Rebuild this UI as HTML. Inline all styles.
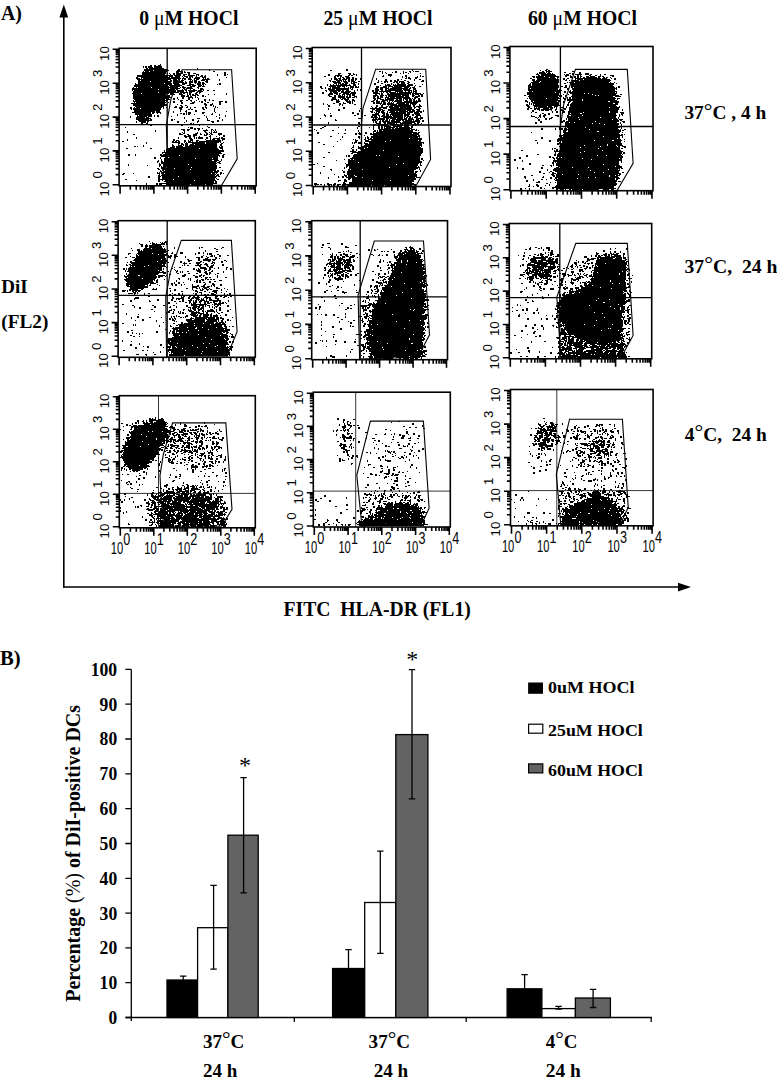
<!DOCTYPE html>
<html><head><meta charset="utf-8"><style>
html,body{margin:0;padding:0;background:#fff;width:777px;height:1081px;overflow:hidden}
svg{display:block}
</style></head><body>
<svg width="777" height="1081" viewBox="0 0 777 1081">
<text x="1.0" y="19.6" font-size="20" font-weight="bold" font-family='"Liberation Serif", serif' textLength="21.0" lengthAdjust="spacingAndGlyphs">A)</text>
<line x1="63.8" y1="14" x2="63.8" y2="587.6" stroke="#000" stroke-width="1.6"/>
<polygon points="59.4,17.5 68.2,17.5 63.8,4.6" fill="#000"/>
<line x1="63" y1="587" x2="681" y2="587" stroke="#000" stroke-width="1.6"/>
<polygon points="678,582.8 678,591.4 691,587.1" fill="#000"/>
<text x="139.2" y="24.5" font-size="20.5" font-weight="bold" font-family='"Liberation Serif", serif' textLength="99.2" lengthAdjust="spacingAndGlyphs">0 <tspan font-weight="normal">μ</tspan>M HOCl</text>
<text x="323.5" y="24.8" font-size="20.5" font-weight="bold" font-family='"Liberation Serif", serif' textLength="109.0" lengthAdjust="spacingAndGlyphs">25 <tspan font-weight="normal">μ</tspan>M HOCl</text>
<text x="528.0" y="24.8" font-size="20.5" font-weight="bold" font-family='"Liberation Serif", serif' textLength="109.0" lengthAdjust="spacingAndGlyphs">60 <tspan font-weight="normal">μ</tspan>M HOCl</text>
<text x="684.4" y="119.4" font-size="19.5" font-weight="bold" font-family='"Liberation Serif", serif' textLength="81.8" lengthAdjust="spacingAndGlyphs">37<tspan font-weight="normal" dy="-1.7" font-size="22">°</tspan><tspan dy="1.7">C</tspan> , 4 h</text>
<text x="684.5" y="272.9" font-size="19.5" font-weight="bold" font-family='"Liberation Serif", serif' textLength="93.0" lengthAdjust="spacingAndGlyphs">37<tspan font-weight="normal" dy="-1.7" font-size="22">°</tspan><tspan dy="1.7">C</tspan>,&#160; 24 h</text>
<text x="684.8" y="440.8" font-size="19.5" font-weight="bold" font-family='"Liberation Serif", serif' textLength="82.0" lengthAdjust="spacingAndGlyphs">4<tspan font-weight="normal" dy="-1.7" font-size="22">°</tspan><tspan dy="1.7">C</tspan>,&#160; 24 h</text>
<text x="1.3" y="292.8" font-size="19" font-weight="bold" font-family='"Liberation Serif", serif' textLength="26.4" lengthAdjust="spacingAndGlyphs">DiI</text>
<text x="1.3" y="327.6" font-size="19" font-weight="bold" font-family='"Liberation Serif", serif' textLength="47.0" lengthAdjust="spacingAndGlyphs">(FL2)</text>
<text x="283.5" y="615.6" font-size="20" font-weight="bold" font-family='"Liberation Serif", serif' textLength="187.3" lengthAdjust="spacingAndGlyphs">FITC&#160; HLA-DR (FL1)</text>
<path d="M160 64h1v1h-1zM150 65h2v1h-2zm4 0h2v1h-2zm4 0h3v1h-3zM143 66h1v1h-1zm2 0h2v1h-2zm3 0h4v1h-4zm6 0h8v1h-8zM143 67h1v1h-1zm2 0h2v1h-2zm3 0h5v1h-5zm6 0h8v1h-8zM146 68h2v1h-2zm3 0h15v1h-15zm48 0h1v1h-1zM144 69h23v1h-23zm34 0h2v1h-2zm19 0h1v1h-1zm12 0h1v1h-1zM144 70h9v1h-9zm10 0h15v1h-15zm23 0h3v1h-3zm32 0h1v1h-1zM143 71h1v1h-1zm2 0h4v1h-4zm5 0h17v1h-17zm26 0h7v1h-7zm8 0h1v1h-1zm29 0h2v1h-2zM142 72h24v1h-24zm34 0h3v1h-3zm5 0h2v1h-2zm3 0h2v1h-2zm3 0h3v1h-3zm37 0h2v1h-2zM142 73h24v1h-24zm25 0h1v1h-1zm2 0h1v1h-1zm4 0h2v1h-2zm3 0h7v1h-7zm12 0h2v1h-2zm5 0h3v1h-3zm31 0h2v1h-2zM142 74h23v1h-23zm28 0h1v1h-1zm3 0h2v1h-2zm3 0h5v1h-5zm7 0h4v1h-4zm5 0h2v1h-2zm8 0h3v1h-3zm21 0h1v1h-1zm7 0h2v1h-2zm3 0h1v1h-1zM137 75h36v1h-36zm37 0h7v1h-7zm9 0h2v1h-2zm5 0h7v1h-7zm8 0h1v1h-1zm2 0h1v1h-1zm3 0h2v1h-2zm4 0h1v1h-1zm12 0h1v1h-1zm7 0h2v1h-2zM137 76h31v1h-31zm32 0h4v1h-4zm6 0h5v1h-5zm7 0h1v1h-1zm2 0h4v1h-4zm5 0h4v1h-4zm7 0h1v1h-1zm4 0h3v1h-3zm4 0h2v1h-2zM136 77h2v1h-2zm5 0h29v1h-29zm30 0h9v1h-9zm12 0h1v1h-1zm3 0h2v1h-2zm3 0h2v1h-2zm3 0h1v1h-1zm3 0h5v1h-5zm7 0h4v1h-4zm24 0h1v1h-1zM136 78h4v1h-4zm5 0h1v1h-1zm2 0h38v1h-38zm39 0h4v1h-4zm6 0h3v1h-3zm6 0h6v1h-6zm9 0h1v1h-1zm2 0h1v1h-1zm2 0h2v1h-2zM137 79h34v1h-34zm36 0h4v1h-4zm5 0h2v1h-2zm4 0h1v1h-1zm2 0h2v1h-2zm4 0h4v1h-4zm6 0h1v1h-1zm2 0h3v1h-3zm6 0h8v1h-8zm17 0h1v1h-1zM138 80h2v1h-2zm3 0h27v1h-27zm29 0h2v1h-2zm3 0h5v1h-5zm6 0h1v1h-1zm2 0h3v1h-3zm9 0h1v1h-1zm2 0h1v1h-1zm2 0h3v1h-3zm7 0h4v1h-4zm5 0h2v1h-2zm13 0h1v1h-1zM138 81h12v1h-12zm13 0h21v1h-21zm22 0h10v1h-10zm12 0h1v1h-1zm4 0h4v1h-4zm5 0h3v1h-3zm4 0h2v1h-2zm7 0h3v1h-3zM138 82h33v1h-33zm35 0h11v1h-11zm12 0h2v1h-2zm4 0h4v1h-4zm5 0h3v1h-3zm4 0h3v1h-3zm4 0h2v1h-2zm4 0h2v1h-2zM135 83h1v1h-1zm3 0h26v1h-26zm27 0h7v1h-7zm8 0h6v1h-6zm9 0h5v1h-5zm7 0h2v1h-2zm6 0h1v1h-1zm2 0h4v1h-4zm5 0h3v1h-3zm17 0h2v1h-2zM135 84h37v1h-37zm39 0h6v1h-6zm8 0h3v1h-3zm7 0h5v1h-5zm8 0h4v1h-4zm5 0h2v1h-2zm3 0h1v1h-1zm12 0h1v1h-1zm2 0h2v1h-2zM134 85h34v1h-34zm35 0h13v1h-13zm18 0h4v1h-4zm5 0h4v1h-4zm6 0h4v1h-4zm5 0h1v1h-1zM134 86h35v1h-35zm36 0h10v1h-10zm12 0h2v1h-2zm8 0h5v1h-5zm8 0h3v1h-3zm4 0h3v1h-3zM133 87h1v1h-1zm3 0h1v1h-1zm2 0h13v1h-13zm14 0h26v1h-26zm28 0h1v1h-1zm2 0h4v1h-4zm5 0h5v1h-5zm10 0h2v1h-2zM132 88h37v1h-37zm38 0h10v1h-10zm13 0h2v1h-2zm3 0h7v1h-7zm12 0h1v1h-1zm2 0h3v1h-3zM132 89h26v1h-26zm27 0h16v1h-16zm17 0h2v1h-2zm6 0h1v1h-1zm2 0h3v1h-3zm6 0h1v1h-1zm3 0h2v1h-2zm7 0h4v1h-4zM132 90h1v1h-1zm2 0h42v1h-42zm43 0h7v1h-7zm8 0h2v1h-2zm3 0h9v1h-9zm10 0h4v1h-4zm5 0h1v1h-1zm4 0h2v1h-2zm6 0h2v1h-2zM133 91h43v1h-43zm44 0h7v1h-7zm9 0h1v1h-1zm3 0h6v1h-6zm8 0h6v1h-6zM133 92h25v1h-25zm26 0h20v1h-20zm21 0h8v1h-8zm9 0h3v1h-3zm7 0h2v1h-2zm3 0h2v1h-2zM132 93h9v1h-9zm10 0h27v1h-27zm28 0h4v1h-4zm9 0h3v1h-3zm4 0h2v1h-2zm4 0h1v1h-1zm2 0h2v1h-2zm6 0h2v1h-2zm4 0h1v1h-1zm27 0h1v1h-1zM133 94h33v1h-33zm34 0h1v1h-1zm3 0h2v1h-2zm3 0h2v1h-2zm6 0h4v1h-4zm8 0h1v1h-1zm2 0h2v1h-2zm3 0h2v1h-2zm3 0h3v1h-3zm13 0h1v1h-1zm6 0h1v1h-1zm12 0h1v1h-1zM133 95h34v1h-34zm35 0h2v1h-2zm13 0h4v1h-4zm6 0h2v1h-2zm3 0h1v1h-1zm2 0h4v1h-4zm5 0h2v1h-2zm5 0h2v1h-2zM133 96h37v1h-37zm48 0h4v1h-4zm5 0h3v1h-3zm4 0h2v1h-2zm5 0h1v1h-1zm7 0h2v1h-2zm3 0h1v1h-1zM133 97h38v1h-38zm44 0h1v1h-1zm5 0h2v1h-2zm6 0h5v1h-5zm7 0h1v1h-1zm2 0h1v1h-1zM133 98h36v1h-36zm40 0h2v1h-2zm4 0h1v1h-1zm5 0h2v1h-2zm6 0h2v1h-2zm4 0h1v1h-1zm6 0h1v1h-1zM134 99h31v1h-31zm32 0h4v1h-4zm7 0h2v1h-2zm5 0h1v1h-1zm10 0h2v1h-2zm10 0h1v1h-1zm6 0h2v1h-2zm5 0h1v1h-1zM133 100h1v1h-1zm2 0h33v1h-33zm45 0h3v1h-3zm6 0h2v1h-2zm4 0h2v1h-2zm6 0h1v1h-1zm8 0h2v1h-2zm5 0h1v1h-1zm3 0h2v1h-2zM133 101h32v1h-32zm33 0h1v1h-1zm7 0h2v1h-2zm7 0h2v1h-2zm11 0h1v1h-1zm3 0h1v1h-1zm5 0h1v1h-1zm2 0h2v1h-2zm4 0h1v1h-1zm14 0h4v1h-4zm6 0h2v1h-2zM134 102h1v1h-1zm2 0h30v1h-30zm32 0h1v1h-1zm5 0h2v1h-2zm8 0h2v1h-2zm11 0h3v1h-3zm9 0h2v1h-2zm6 0h2v1h-2zm12 0h2v1h-2zm6 0h2v1h-2zM131 103h34v1h-34zm50 0h2v1h-2zm9 0h4v1h-4zm14 0h2v1h-2zm8 0h1v1h-1zm7 0h2v1h-2zM133 104h34v1h-34zm44 0h1v1h-1zm27 0h3v1h-3zm6 0h3v1h-3zm9 0h2v1h-2zM133 105h34v1h-34zm47 0h2v1h-2zm5 0h2v1h-2zm20 0h2v1h-2zm5 0h2v1h-2zm3 0h1v1h-1zM135 106h29v1h-29zm40 0h2v1h-2zm6 0h2v1h-2zm6 0h1v1h-1zm18 0h1v1h-1zm8 0h1v1h-1zm2 0h1v1h-1zM130 107h2v1h-2zm4 0h1v1h-1zm2 0h26v1h-26zm27 0h1v1h-1zm3 0h1v1h-1zm8 0h3v1h-3zm5 0h4v1h-4zm7 0h2v1h-2zm4 0h1v1h-1zm4 0h2v1h-2zm8 0h2v1h-2zm3 0h2v1h-2zm10 0h1v1h-1zm2 0h1v1h-1zM130 108h2v1h-2zm3 0h7v1h-7zm8 0h20v1h-20zm22 0h1v1h-1zm16 0h3v1h-3zm11 0h1v1h-1zm12 0h2v1h-2zm4 0h1v1h-1zm8 0h1v1h-1zM131 109h1v1h-1zm2 0h28v1h-28zm47 0h2v1h-2zm8 0h2v1h-2zm3 0h2v1h-2zm12 0h2v1h-2zm11 0h1v1h-1zM134 110h26v1h-26zm46 0h1v1h-1zm6 0h1v1h-1zm9 0h2v1h-2zm19 0h1v1h-1zM134 111h21v1h-21zm22 0h4v1h-4zm17 0h1v1h-1zm7 0h1v1h-1zm5 0h2v1h-2zm10 0h2v1h-2zm19 0h1v1h-1zm12 0h1v1h-1zM132 112h19v1h-19zm20 0h3v1h-3zm4 0h5v1h-5zm17 0h1v1h-1zm13 0h1v1h-1zm2 0h3v1h-3zm14 0h3v1h-3zm13 0h1v1h-1zM135 113h16v1h-16zm17 0h2v1h-2zm5 0h1v1h-1zm3 0h1v1h-1zm20 0h2v1h-2zm3 0h2v1h-2zm3 0h1v1h-1zm2 0h3v1h-3zm14 0h2v1h-2zm10 0h1v1h-1zM135 114h17v1h-17zm42 0h1v1h-1zm6 0h2v1h-2zm3 0h1v1h-1zm2 0h2v1h-2zm6 0h1v1h-1zm17 0h2v1h-2zm8 0h1v1h-1zM137 115h1v1h-1zm2 0h13v1h-13zm15 0h1v1h-1zm3 0h2v1h-2zm20 0h1v1h-1zm27 0h1v1h-1zm15 0h1v1h-1zm6 0h1v1h-1zM130 116h1v1h-1zm7 0h10v1h-10zm11 0h4v1h-4zm6 0h1v1h-1zm3 0h2v1h-2zm14 0h1v1h-1zm35 0h1v1h-1zm10 0h1v1h-1zm9 0h1v1h-1zM130 117h1v1h-1zm6 0h9v1h-9zm10 0h3v1h-3zm38 0h1v1h-1zm22 0h1v1h-1zm13 0h1v1h-1zM136 118h15v1h-15zm48 0h1v1h-1zm13 0h3v1h-3zm10 0h1v1h-1zm12 0h1v1h-1zM136 119h13v1h-13zm14 0h2v1h-2zm21 0h2v1h-2zm3 0h1v1h-1zm18 0h2v1h-2zm15 0h1v1h-1zm15 0h1v1h-1zM138 120h14v1h-14zm33 0h2v1h-2zm15 0h1v1h-1zm6 0h2v1h-2zm6 0h1v1h-1zm9 0h3v1h-3zm10 0h2v1h-2zm5 0h1v1h-1zM136 121h1v1h-1zm3 0h7v1h-7zm8 0h2v1h-2zm30 0h2v1h-2zm9 0h1v1h-1zm11 0h2v1h-2zm14 0h3v1h-3zm6 0h2v1h-2zM136 122h1v1h-1zm5 0h5v1h-5zm6 0h1v1h-1zm30 0h2v1h-2zm7 0h1v1h-1zm13 0h1v1h-1zm15 0h2v1h-2zM141 123h2v1h-2zm5 0h2v1h-2zm44 0h2v1h-2zm3 0h1v1h-1zM139 124h1v1h-1zm7 0h1v1h-1zm2 0h4v1h-4zm33 0h2v1h-2zm12 0h1v1h-1zm6 0h1v1h-1zM150 125h2v1h-2zm31 0h2v1h-2zm18 0h1v1h-1zM207 126h1v1h-1zM125 127h1v1h-1zm63 0h1v1h-1zm2 0h3v1h-3zm18 0h2v1h-2zM190 128h3v1h-3zm4 0h2v1h-2zm3 0h3v1h-3zm5 0h1v1h-1zM181 129h4v1h-4zm6 0h3v1h-3zm7 0h2v1h-2zm4 0h2v1h-2zm8 0h1v1h-1zm5 0h2v1h-2zm4 0h1v1h-1zM155 130h1v1h-1zm28 0h2v1h-2zm4 0h2v1h-2zm11 0h1v1h-1zm5 0h5v1h-5zm8 0h1v1h-1zm2 0h1v1h-1zm2 0h1v1h-1zM127 131h1v1h-1zm28 0h1v1h-1zm29 0h1v1h-1zm20 0h2v1h-2zm7 0h1v1h-1zm3 0h1v1h-1zm2 0h1v1h-1zM127 132h1v1h-1zm55 0h1v1h-1zm2 0h1v1h-1zm13 0h1v1h-1zm8 0h2v1h-2zm4 0h1v1h-1zm2 0h1v1h-1zm2 0h4v1h-4zM179 133h2v1h-2zm4 0h2v1h-2zm12 0h3v1h-3zm5 0h1v1h-1zm6 0h2v1h-2zm4 0h2v1h-2zm8 0h4v1h-4zM133 134h2v1h-2zm46 0h4v1h-4zm8 0h2v1h-2zm6 0h4v1h-4zm7 0h2v1h-2zm4 0h1v1h-1zm2 0h2v1h-2zm3 0h1v1h-1zm2 0h2v1h-2zm7 0h4v1h-4zM184 135h2v1h-2zm4 0h3v1h-3zm5 0h4v1h-4zm11 0h3v1h-3zm6 0h1v1h-1zm9 0h1v1h-1zm4 0h2v1h-2zM184 136h7v1h-7zm9 0h2v1h-2zm6 0h1v1h-1zm10 0h2v1h-2zm7 0h1v1h-1zm7 0h2v1h-2zM136 137h1v1h-1zm42 0h1v1h-1zm7 0h2v1h-2zm4 0h2v1h-2zm5 0h1v1h-1zm2 0h1v1h-1zm2 0h5v1h-5zm8 0h2v1h-2zm4 0h1v1h-1zm9 0h1v1h-1zm2 0h2v1h-2zM136 138h1v1h-1zm42 0h1v1h-1zm11 0h3v1h-3zm5 0h1v1h-1zm2 0h1v1h-1zm2 0h5v1h-5zm8 0h2v1h-2zm4 0h1v1h-1zm3 0h7v1h-7zm8 0h4v1h-4zM127 139h1v1h-1zm46 0h2v1h-2zm17 0h3v1h-3zm15 0h1v1h-1zm5 0h1v1h-1zm2 0h3v1h-3zm5 0h3v1h-3zm5 0h3v1h-3zM127 140h1v1h-1zm46 0h2v1h-2zm3 0h3v1h-3zm8 0h2v1h-2zm4 0h1v1h-1zm2 0h3v1h-3zm6 0h3v1h-3zm10 0h15v1h-15zm16 0h1v1h-1zM122 141h2v1h-2zm50 0h2v1h-2zm3 0h2v1h-2zm3 0h2v1h-2zm6 0h2v1h-2zm4 0h3v1h-3zm4 0h1v1h-1zm4 0h2v1h-2zm3 0h22v1h-22zM146 142h1v1h-1zm26 0h8v1h-8zm12 0h1v1h-1zm2 0h1v1h-1zm2 0h17v1h-17zm18 0h13v1h-13zm14 0h1v1h-1zm3 0h1v1h-1zM146 143h1v1h-1zm32 0h2v1h-2zm3 0h2v1h-2zm4 0h3v1h-3zm7 0h13v1h-13zm14 0h11v1h-11zm15 0h2v1h-2zM172 144h1v1h-1zm6 0h1v1h-1zm3 0h3v1h-3zm4 0h3v1h-3zm5 0h4v1h-4zm5 0h22v1h-22zm25 0h2v1h-2zM143 145h1v1h-1zm29 0h2v1h-2zm6 0h4v1h-4zm5 0h1v1h-1zm2 0h3v1h-3zm4 0h28v1h-28zm31 0h2v1h-2zM134 146h2v1h-2zm3 0h1v1h-1zm6 0h1v1h-1zm29 0h3v1h-3zm4 0h7v1h-7zm9 0h32v1h-32zm34 0h1v1h-1zm2 0h2v1h-2zM170 147h5v1h-5zm6 0h41v1h-41zm43 0h4v1h-4zM126 148h2v1h-2zm24 0h2v1h-2zm17 0h32v1h-32zm33 0h18v1h-18zm20 0h3v1h-3zM166 149h53v1h-53zm56 0h1v1h-1zM164 150h1v1h-1zm2 0h58v1h-58zM164 151h1v1h-1zm2 0h58v1h-58zM162 152h59v1h-59zM162 153h1v1h-1zm3 0h2v1h-2zm3 0h54v1h-54zM128 154h2v1h-2zm7 0h1v1h-1zm25 0h2v1h-2zm3 0h4v1h-4zm5 0h51v1h-51zm55 0h2v1h-2zM128 155h2v1h-2zm7 0h1v1h-1zm25 0h19v1h-19zm20 0h40v1h-40zm42 0h2v1h-2zM161 156h57v1h-57zm58 0h1v1h-1zm3 0h2v1h-2zM154 157h2v1h-2zm6 0h1v1h-1zm5 0h3v1h-3zm4 0h49v1h-49zm53 0h2v1h-2zM154 158h2v1h-2zm6 0h1v1h-1zm4 0h31v1h-31zm32 0h16v1h-16zm17 0h5v1h-5zM161 159h1v1h-1zm3 0h54v1h-54zm57 0h1v1h-1zM158 160h1v1h-1zm3 0h1v1h-1zm3 0h48v1h-48zm50 0h5v1h-5zm7 0h1v1h-1zM157 161h2v1h-2zm4 0h2v1h-2zm3 0h53v1h-53zm55 0h2v1h-2zM157 162h1v1h-1zm4 0h55v1h-55zm56 0h3v1h-3zM159 163h1v1h-1zm2 0h56v1h-56zm58 0h2v1h-2zM128 164h1v1h-1zm31 0h2v1h-2zm4 0h25v1h-25zm26 0h27v1h-27zM128 165h1v1h-1zm19 0h1v1h-1zm12 0h2v1h-2zm4 0h54v1h-54zM159 166h1v1h-1zm2 0h1v1h-1zm2 0h54v1h-54zM161 167h5v1h-5zm6 0h24v1h-24zm25 0h25v1h-25zm27 0h2v1h-2zM157 168h2v1h-2zm4 0h13v1h-13zm14 0h42v1h-42zM158 169h2v1h-2zm4 0h28v1h-28zm29 0h25v1h-25zM160 170h1v1h-1zm2 0h2v1h-2zm3 0h51v1h-51zm52 0h2v1h-2zm5 0h1v1h-1zM160 171h2v1h-2zm3 0h50v1h-50zm51 0h5v1h-5zM157 172h1v1h-1zm2 0h1v1h-1zm2 0h57v1h-57zm59 0h2v1h-2zM123 173h2v1h-2zm10 0h1v1h-1zm24 0h3v1h-3zm4 0h3v1h-3zm4 0h46v1h-46zm47 0h3v1h-3zm4 0h1v1h-1zm4 0h2v1h-2zm3 0h1v1h-1zM122 174h2v1h-2zm37 0h1v1h-1zm3 0h54v1h-54zm55 0h2v1h-2zm3 0h1v1h-1zM158 175h2v1h-2zm3 0h54v1h-54zm55 0h3v1h-3zM148 176h2v1h-2zm10 0h3v1h-3zm4 0h16v1h-16zm17 0h38v1h-38zm39 0h2v1h-2zM148 177h2v1h-2zm10 0h2v1h-2zm4 0h54v1h-54zM158 178h2v1h-2zm4 0h53v1h-53zm54 0h1v1h-1zM125 179h2v1h-2zm33 0h15v1h-15zm16 0h41v1h-41zm43 0h2v1h-2zM136 180h1v1h-1zm22 0h2v1h-2zm4 0h1v1h-1zm3 0h29v1h-29zm30 0h21v1h-21zM158 181h2v1h-2zm6 0h50v1h-50zm51 0h2v1h-2zM166 182h48v1h-48zm49 0h2v1h-2zM146 183h1v1h-1zm10 0h2v1h-2zm3 0h58v1h-58zM146 184h1v1h-1zm10 0h2v1h-2zm3 0h3v1h-3zm7 0h24v1h-24zm25 0h14v1h-14zm15 0h7v1h-7z" fill="#000" shape-rendering="crispEdges"/>
<rect x="119.1" y="48.3" width="137.1" height="137.5" fill="none" stroke="#000" stroke-width="1.6"/>
<line x1="167.2" y1="48.3" x2="167.2" y2="185.8" stroke="#000" stroke-width="1.3"/>
<line x1="119.1" y1="124.7" x2="256.2" y2="124.7" stroke="#000" stroke-width="1.3"/>
<polygon points="182.2,69.8 231.6,69.8 237.2,158.8 221.7,185.3 167.5,185.3 167.2,149.5 166.3,125.2 171.0,99.0" fill="none" stroke="#000" stroke-width="1.1"/>
<path d="M120.1 185.8v8M119.1 184.8h-6.5M153.9 185.8v8M119.1 150.9h-6.5M187.6 185.8v8M119.1 117.1h-6.5M221.4 185.8v8M119.1 83.2h-6.5M255.2 185.8v8M119.1 49.3h-6.5M130.3 185.8v4M119.1 174.6h-3.5M136.2 185.8v4M119.1 168.6h-3.5M140.4 185.8v4M119.1 164.4h-3.5M143.7 185.8v4M119.1 161.1h-3.5M146.4 185.8v4M119.1 158.4h-3.5M148.6 185.8v4M119.1 156.2h-3.5M150.6 185.8v4M119.1 154.2h-3.5M152.3 185.8v4M119.1 152.5h-3.5M164.0 185.8v4M119.1 140.7h-3.5M170.0 185.8v4M119.1 134.8h-3.5M174.2 185.8v4M119.1 130.5h-3.5M177.5 185.8v4M119.1 127.2h-3.5M180.2 185.8v4M119.1 124.6h-3.5M182.4 185.8v4M119.1 122.3h-3.5M184.4 185.8v4M119.1 120.3h-3.5M186.1 185.8v4M119.1 118.6h-3.5M197.8 185.8v4M119.1 106.9h-3.5M203.8 185.8v4M119.1 100.9h-3.5M208.0 185.8v4M119.1 96.7h-3.5M211.3 185.8v4M119.1 93.4h-3.5M213.9 185.8v4M119.1 90.7h-3.5M216.2 185.8v4M119.1 88.4h-3.5M218.2 185.8v4M119.1 86.5h-3.5M219.9 185.8v4M119.1 84.7h-3.5M231.6 185.8v4M119.1 73.0h-3.5M237.5 185.8v4M119.1 67.0h-3.5M241.8 185.8v4M119.1 62.8h-3.5M245.0 185.8v4M119.1 59.5h-3.5M247.7 185.8v4M119.1 56.8h-3.5M250.0 185.8v4M119.1 54.5h-3.5M251.9 185.8v4M119.1 52.6h-3.5M253.7 185.8v4M119.1 50.9h-3.5" stroke="#000" stroke-width="1.6" fill="none"/>
<text transform="translate(108.7,196.4) rotate(-90)" font-size="13.3" font-family='"Liberation Sans", sans-serif' x="0" y="0">10<tspan dx="3.0" dy="-7">0</tspan></text>
<text transform="translate(108.7,162.5) rotate(-90)" font-size="13.3" font-family='"Liberation Sans", sans-serif' x="0" y="0">10<tspan dx="3.0" dy="-7">1</tspan></text>
<text transform="translate(108.7,128.7) rotate(-90)" font-size="13.3" font-family='"Liberation Sans", sans-serif' x="0" y="0">10<tspan dx="3.0" dy="-7">2</tspan></text>
<text transform="translate(108.7,94.8) rotate(-90)" font-size="13.3" font-family='"Liberation Sans", sans-serif' x="0" y="0">10<tspan dx="3.0" dy="-7">3</tspan></text>
<text transform="translate(108.7,60.9) rotate(-90)" font-size="13.3" font-family='"Liberation Sans", sans-serif' x="0" y="0">10</text>
<path d="M346 69h2v1h-2zm66 0h1v1h-1zM330 70h2v1h-2zm16 0h2v1h-2zm66 0h1v1h-1zM379 71h2v1h-2zm3 0h1v1h-1zm13 0h2v1h-2zm8 0h1v1h-1zm6 0h2v1h-2zm4 0h1v1h-1zm2 0h4v1h-4zM382 72h1v1h-1zm3 0h1v1h-1zm7 0h1v1h-1zm3 0h2v1h-2zm8 0h1v1h-1zm2 0h2v1h-2zm5 0h1v1h-1zM338 73h3v1h-3zm10 0h3v1h-3zm5 0h1v1h-1zm21 0h1v1h-1zm8 0h1v1h-1zm4 0h1v1h-1zm14 0h1v1h-1zm3 0h1v1h-1zm5 0h1v1h-1zm12 0h1v1h-1zM328 74h2v1h-2zm10 0h2v1h-2zm11 0h2v1h-2zm4 0h2v1h-2zm3 0h1v1h-1zm32 0h4v1h-4zM328 75h2v1h-2zm7 0h7v1h-7zm13 0h2v1h-2zm3 0h2v1h-2zm5 0h1v1h-1zm27 0h1v1h-1zm5 0h4v1h-4zm17 0h2v1h-2zm15 0h1v1h-1zM324 76h2v1h-2zm10 0h2v1h-2zm3 0h2v1h-2zm3 0h2v1h-2zm5 0h4v1h-4zm37 0h2v1h-2zm8 0h1v1h-1zm12 0h1v1h-1zm3 0h2v1h-2zm12 0h1v1h-1zm3 0h1v1h-1zm2 0h2v1h-2zM334 77h2v1h-2zm6 0h1v1h-1zm2 0h2v1h-2zm4 0h4v1h-4zm6 0h2v1h-2zm50 0h1v1h-1zm4 0h1v1h-1zm2 0h2v1h-2zm7 0h3v1h-3zM331 78h1v1h-1zm3 0h3v1h-3zm4 0h3v1h-3zm5 0h2v1h-2zm3 0h4v1h-4zm6 0h2v1h-2zm3 0h2v1h-2zm5 0h1v1h-1zm16 0h1v1h-1zm29 0h2v1h-2zm3 0h3v1h-3zm7 0h2v1h-2zM331 79h1v1h-1zm3 0h4v1h-4zm5 0h2v1h-2zm3 0h5v1h-5zm6 0h2v1h-2zm3 0h3v1h-3zm4 0h2v1h-2zm5 0h1v1h-1zm16 0h1v1h-1zm9 0h2v1h-2zm12 0h2v1h-2zm4 0h1v1h-1zm9 0h1v1h-1zm4 0h1v1h-1zm5 0h2v1h-2zM329 80h2v1h-2zm7 0h6v1h-6zm7 0h1v1h-1zm2 0h1v1h-1zm3 0h2v1h-2zm3 0h3v1h-3zm4 0h1v1h-1zm23 0h1v1h-1zm7 0h2v1h-2zm5 0h2v1h-2zm4 0h2v1h-2zm3 0h2v1h-2zm7 0h2v1h-2zm10 0h1v1h-1zm8 0h2v1h-2zM330 81h1v1h-1zm2 0h4v1h-4zm5 0h3v1h-3zm4 0h1v1h-1zm2 0h4v1h-4zm5 0h2v1h-2zm3 0h4v1h-4zm7 0h2v1h-2zm20 0h1v1h-1zm3 0h1v1h-1zm3 0h4v1h-4zm6 0h2v1h-2zm4 0h4v1h-4zm5 0h5v1h-5zm8 0h2v1h-2zm14 0h3v1h-3zM333 82h8v1h-8zm11 0h4v1h-4zm7 0h1v1h-1zm2 0h4v1h-4zm24 0h2v1h-2zm7 0h2v1h-2zm3 0h1v1h-1zm6 0h2v1h-2zm3 0h2v1h-2zm3 0h1v1h-1zm2 0h4v1h-4zm7 0h2v1h-2zM334 83h3v1h-3zm4 0h3v1h-3zm4 0h2v1h-2zm3 0h3v1h-3zm6 0h4v1h-4zm7 0h1v1h-1zm16 0h2v1h-2zm7 0h2v1h-2zm10 0h1v1h-1zm6 0h2v1h-2zm4 0h4v1h-4zm6 0h2v1h-2zm7 0h1v1h-1zM327 84h1v1h-1zm3 0h1v1h-1zm3 0h1v1h-1zm3 0h1v1h-1zm2 0h1v1h-1zm2 0h7v1h-7zm9 0h1v1h-1zm4 0h3v1h-3zm5 0h1v1h-1zm16 0h2v1h-2zm11 0h1v1h-1zm2 0h3v1h-3zm4 0h1v1h-1zm2 0h1v1h-1zm2 0h1v1h-1zm2 0h9v1h-9zm11 0h5v1h-5zm14 0h1v1h-1zM327 85h1v1h-1zm3 0h21v1h-21zm23 0h3v1h-3zm27 0h1v1h-1zm5 0h6v1h-6zm8 0h13v1h-13zm14 0h6v1h-6zm8 0h1v1h-1zM320 86h2v1h-2zm9 0h7v1h-7zm8 0h4v1h-4zm5 0h3v1h-3zm4 0h1v1h-1zm4 0h4v1h-4zm5 0h2v1h-2zm3 0h1v1h-1zm18 0h3v1h-3zm7 0h4v1h-4zm5 0h5v1h-5zm6 0h16v1h-16zm20 0h1v1h-1zm5 0h2v1h-2zM320 87h2v1h-2zm5 0h1v1h-1zm5 0h1v1h-1zm2 0h8v1h-8zm12 0h1v1h-1zm4 0h1v1h-1zm2 0h4v1h-4zm5 0h4v1h-4zm21 0h3v1h-3zm4 0h7v1h-7zm8 0h1v1h-1zm4 0h10v1h-10zm12 0h5v1h-5zm6 0h1v1h-1zm2 0h3v1h-3zM321 88h2v1h-2zm4 0h1v1h-1zm3 0h3v1h-3zm4 0h17v1h-17zm18 0h1v1h-1zm2 0h1v1h-1zm23 0h3v1h-3zm5 0h3v1h-3zm5 0h4v1h-4zm5 0h18v1h-18zm19 0h2v1h-2zm4 0h3v1h-3zM328 89h7v1h-7zm8 0h13v1h-13zm15 0h2v1h-2zm6 0h1v1h-1zm3 0h1v1h-1zm15 0h4v1h-4zm5 0h3v1h-3zm5 0h2v1h-2zm3 0h14v1h-14zm15 0h7v1h-7zm10 0h3v1h-3zM325 90h2v1h-2zm4 0h12v1h-12zm13 0h2v1h-2zm4 0h3v1h-3zm8 0h1v1h-1zm3 0h1v1h-1zm3 0h1v1h-1zm12 0h2v1h-2zm3 0h4v1h-4zm6 0h2v1h-2zm4 0h18v1h-18zm19 0h8v1h-8zm9 0h1v1h-1zm2 0h2v1h-2zM326 91h1v1h-1zm4 0h7v1h-7zm8 0h2v1h-2zm3 0h3v1h-3zm4 0h6v1h-6zm9 0h1v1h-1zm18 0h2v1h-2zm3 0h3v1h-3zm4 0h12v1h-12zm16 0h8v1h-8zm10 0h1v1h-1zm3 0h2v1h-2zm3 0h1v1h-1zm2 0h4v1h-4zM322 92h2v1h-2zm8 0h2v1h-2zm3 0h5v1h-5zm8 0h9v1h-9zm10 0h5v1h-5zm22 0h5v1h-5zm8 0h1v1h-1zm2 0h1v1h-1zm3 0h2v1h-2zm3 0h7v1h-7zm8 0h1v1h-1zm2 0h13v1h-13zm14 0h1v1h-1zm2 0h2v1h-2zM322 93h2v1h-2zm7 0h4v1h-4zm5 0h4v1h-4zm5 0h2v1h-2zm4 0h6v1h-6zm7 0h6v1h-6zm23 0h7v1h-7zm8 0h2v1h-2zm6 0h2v1h-2zm3 0h21v1h-21zm22 0h9v1h-9zm11 0h1v1h-1zM328 94h5v1h-5zm8 0h2v1h-2zm3 0h1v1h-1zm3 0h3v1h-3zm4 0h5v1h-5zm6 0h3v1h-3zm23 0h2v1h-2zm4 0h1v1h-1zm2 0h2v1h-2zm6 0h22v1h-22zm23 0h1v1h-1zm2 0h2v1h-2zm3 0h4v1h-4zm5 0h3v1h-3zM328 95h2v1h-2zm6 0h2v1h-2zm4 0h3v1h-3zm4 0h1v1h-1zm2 0h1v1h-1zm3 0h1v1h-1zm2 0h2v1h-2zm3 0h3v1h-3zm21 0h5v1h-5zm7 0h4v1h-4zm5 0h2v1h-2zm3 0h13v1h-13zm14 0h7v1h-7zm10 0h3v1h-3zm6 0h2v1h-2zm3 0h2v1h-2zM329 96h3v1h-3zm5 0h2v1h-2zm4 0h7v1h-7zm8 0h2v1h-2zm3 0h2v1h-2zm5 0h3v1h-3zm19 0h3v1h-3zm4 0h2v1h-2zm3 0h3v1h-3zm6 0h1v1h-1zm2 0h16v1h-16zm17 0h4v1h-4zm7 0h2v1h-2zm3 0h5v1h-5zm6 0h2v1h-2zM332 97h4v1h-4zm6 0h7v1h-7zm8 0h5v1h-5zm6 0h3v1h-3zm4 0h1v1h-1zm17 0h2v1h-2zm4 0h2v1h-2zm3 0h3v1h-3zm5 0h4v1h-4zm5 0h5v1h-5zm6 0h14v1h-14zm18 0h4v1h-4zM332 98h4v1h-4zm8 0h1v1h-1zm2 0h4v1h-4zm5 0h2v1h-2zm26 0h3v1h-3zm4 0h4v1h-4zm8 0h1v1h-1zm2 0h15v1h-15zm16 0h8v1h-8zm9 0h1v1h-1zm2 0h2v1h-2zm4 0h2v1h-2zM331 99h6v1h-6zm7 0h1v1h-1zm3 0h2v1h-2zm3 0h5v1h-5zm8 0h2v1h-2zm22 0h2v1h-2zm3 0h1v1h-1zm3 0h4v1h-4zm5 0h9v1h-9zm11 0h2v1h-2zm3 0h3v1h-3zm4 0h1v1h-1zm2 0h3v1h-3zm4 0h3v1h-3zm4 0h2v1h-2zm5 0h2v1h-2zM331 100h2v1h-2zm5 0h3v1h-3zm9 0h3v1h-3zm4 0h1v1h-1zm3 0h3v1h-3zm21 0h2v1h-2zm3 0h2v1h-2zm6 0h6v1h-6zm7 0h5v1h-5zm6 0h7v1h-7zm8 0h1v1h-1zm3 0h2v1h-2zm3 0h3v1h-3zm4 0h2v1h-2zm3 0h1v1h-1zm2 0h3v1h-3zM336 101h4v1h-4zm10 0h5v1h-5zm6 0h1v1h-1zm2 0h1v1h-1zm17 0h3v1h-3zm5 0h4v1h-4zm5 0h4v1h-4zm6 0h1v1h-1zm2 0h1v1h-1zm3 0h1v1h-1zm2 0h8v1h-8zm10 0h8v1h-8zm9 0h8v1h-8zM336 102h3v1h-3zm7 0h1v1h-1zm4 0h4v1h-4zm5 0h1v1h-1zm21 0h2v1h-2zm3 0h4v1h-4zm5 0h1v1h-1zm2 0h3v1h-3zm5 0h2v1h-2zm3 0h1v1h-1zm2 0h1v1h-1zm4 0h21v1h-21zM323 103h1v1h-1zm10 0h2v1h-2zm6 0h2v1h-2zm4 0h3v1h-3zm6 0h2v1h-2zm3 0h1v1h-1zm21 0h2v1h-2zm3 0h6v1h-6zm7 0h3v1h-3zm4 0h7v1h-7zm9 0h9v1h-9zm10 0h3v1h-3zm4 0h7v1h-7zM323 104h1v1h-1zm4 0h1v1h-1zm12 0h2v1h-2zm3 0h1v1h-1zm12 0h2v1h-2zm26 0h1v1h-1zm2 0h4v1h-4zm5 0h10v1h-10zm11 0h11v1h-11zm12 0h1v1h-1zm2 0h4v1h-4zm7 0h1v1h-1zM328 105h2v1h-2zm11 0h1v1h-1zm3 0h1v1h-1zm34 0h2v1h-2zm5 0h2v1h-2zm7 0h1v1h-1zm2 0h21v1h-21zm23 0h2v1h-2zm6 0h2v1h-2zM328 106h2v1h-2zm43 0h1v1h-1zm5 0h2v1h-2zm5 0h2v1h-2zm5 0h2v1h-2zm3 0h4v1h-4zm5 0h17v1h-17zm19 0h2v1h-2zm3 0h6v1h-6zM343 107h2v1h-2zm29 0h1v1h-1zm3 0h2v1h-2zm4 0h8v1h-8zm10 0h10v1h-10zm11 0h12v1h-12zm14 0h2v1h-2zm4 0h2v1h-2zM328 108h1v1h-1zm15 0h2v1h-2zm17 0h2v1h-2zm10 0h11v1h-11zm13 0h4v1h-4zm7 0h22v1h-22zm24 0h1v1h-1zm5 0h2v1h-2zM328 109h1v1h-1zm10 0h2v1h-2zm34 0h3v1h-3zm4 0h7v1h-7zm12 0h26v1h-26zm28 0h4v1h-4zM338 110h2v1h-2zm21 0h1v1h-1zm13 0h1v1h-1zm3 0h6v1h-6zm7 0h3v1h-3zm6 0h18v1h-18zm19 0h4v1h-4zm5 0h3v1h-3zm5 0h3v1h-3zm6 0h1v1h-1zM359 111h1v1h-1zm11 0h3v1h-3zm6 0h4v1h-4zm5 0h3v1h-3zm6 0h1v1h-1zm3 0h5v1h-5zm6 0h2v1h-2zm3 0h9v1h-9zm10 0h6v1h-6zm7 0h6v1h-6zm7 0h1v1h-1zM352 112h2v1h-2zm19 0h2v1h-2zm3 0h1v1h-1zm2 0h1v1h-1zm2 0h2v1h-2zm3 0h4v1h-4zm6 0h1v1h-1zm2 0h17v1h-17zm18 0h6v1h-6zm7 0h5v1h-5zm6 0h2v1h-2zM330 113h1v1h-1zm22 0h2v1h-2zm5 0h2v1h-2zm18 0h4v1h-4zm7 0h3v1h-3zm4 0h2v1h-2zm5 0h15v1h-15zm16 0h3v1h-3zm7 0h6v1h-6zM324 114h1v1h-1zm33 0h2v1h-2zm15 0h7v1h-7zm11 0h2v1h-2zm3 0h3v1h-3zm4 0h13v1h-13zm14 0h6v1h-6zm8 0h2v1h-2zm3 0h5v1h-5zM324 115h2v1h-2zm6 0h2v1h-2zm24 0h2v1h-2zm10 0h2v1h-2zm8 0h5v1h-5zm6 0h2v1h-2zm4 0h3v1h-3zm4 0h3v1h-3zm4 0h1v1h-1zm2 0h11v1h-11zm12 0h5v1h-5zm8 0h2v1h-2zm4 0h5v1h-5zM325 116h1v1h-1zm5 0h2v1h-2zm41 0h2v1h-2zm3 0h3v1h-3zm5 0h1v1h-1zm2 0h11v1h-11zm12 0h10v1h-10zm11 0h2v1h-2zm3 0h4v1h-4zm8 0h3v1h-3zm5 0h1v1h-1zM371 117h7v1h-7zm8 0h1v1h-1zm4 0h20v1h-20zm21 0h1v1h-1zm2 0h2v1h-2zm3 0h2v1h-2zm3 0h1v1h-1zm2 0h4v1h-4zm6 0h3v1h-3zM320 118h1v1h-1zm38 0h3v1h-3zm15 0h1v1h-1zm2 0h2v1h-2zm3 0h7v1h-7zm8 0h3v1h-3zm4 0h6v1h-6zm7 0h6v1h-6zm7 0h3v1h-3zm4 0h5v1h-5zm8 0h7v1h-7zM335 119h1v1h-1zm37 0h13v1h-13zm14 0h2v1h-2zm3 0h1v1h-1zm3 0h15v1h-15zm16 0h6v1h-6zm8 0h3v1h-3zm4 0h1v1h-1zM335 120h2v1h-2zm37 0h4v1h-4zm5 0h1v1h-1zm3 0h1v1h-1zm2 0h2v1h-2zm3 0h3v1h-3zm4 0h1v1h-1zm2 0h4v1h-4zm5 0h5v1h-5zm6 0h2v1h-2zm3 0h7v1h-7zm8 0h1v1h-1zm2 0h5v1h-5zm7 0h2v1h-2zM373 121h1v1h-1zm2 0h2v1h-2zm4 0h2v1h-2zm3 0h8v1h-8zm9 0h9v1h-9zm12 0h17v1h-17zm19 0h2v1h-2zM328 122h1v1h-1zm30 0h2v1h-2zm15 0h1v1h-1zm2 0h2v1h-2zm4 0h2v1h-2zm4 0h3v1h-3zm4 0h14v1h-14zm15 0h13v1h-13zm15 0h3v1h-3zM328 123h1v1h-1zm30 0h2v1h-2zm18 0h5v1h-5zm8 0h2v1h-2zm3 0h8v1h-8zm9 0h1v1h-1zm4 0h12v1h-12zm14 0h2v1h-2zm3 0h2v1h-2zm4 0h1v1h-1zM359 124h2v1h-2zm14 0h3v1h-3zm5 0h10v1h-10zm12 0h9v1h-9zm10 0h3v1h-3zm4 0h5v1h-5zm7 0h1v1h-1zm2 0h6v1h-6zm7 0h1v1h-1zM373 125h2v1h-2zm4 0h3v1h-3zm4 0h8v1h-8zm11 0h4v1h-4zm5 0h6v1h-6zm7 0h5v1h-5zm8 0h2v1h-2zm3 0h1v1h-1zM324 126h2v1h-2zm34 0h2v1h-2zm15 0h1v1h-1zm5 0h2v1h-2zm3 0h2v1h-2zm3 0h7v1h-7zm9 0h9v1h-9zm11 0h5v1h-5zm7 0h2v1h-2zM322 127h2v1h-2zm16 0h1v1h-1zm19 0h1v1h-1zm12 0h1v1h-1zm4 0h1v1h-1zm5 0h2v1h-2zm3 0h2v1h-2zm3 0h1v1h-1zm2 0h9v1h-9zm10 0h2v1h-2zm3 0h11v1h-11zm12 0h2v1h-2zM320 128h2v1h-2zm37 0h1v1h-1zm16 0h1v1h-1zm5 0h2v1h-2zm3 0h2v1h-2zm3 0h7v1h-7zm8 0h2v1h-2zm3 0h17v1h-17zM314 129h1v1h-1zm31 0h1v1h-1zm28 0h1v1h-1zm6 0h31v1h-31zm32 0h4v1h-4zm5 0h1v1h-1zM316 130h1v1h-1zm16 0h2v1h-2zm13 0h1v1h-1zm13 0h1v1h-1zm16 0h2v1h-2zm3 0h1v1h-1zm2 0h3v1h-3zm4 0h30v1h-30zm32 0h2v1h-2zm3 0h1v1h-1zM358 131h1v1h-1zm15 0h3v1h-3zm4 0h1v1h-1zm2 0h34v1h-34zM317 132h2v1h-2zm42 0h1v1h-1zm6 0h2v1h-2zm8 0h1v1h-1zm3 0h41v1h-41zm42 0h2v1h-2zM317 133h2v1h-2zm21 0h1v1h-1zm6 0h2v1h-2zm11 0h2v1h-2zm3 0h3v1h-3zm7 0h2v1h-2zm5 0h2v1h-2zm3 0h39v1h-39zm40 0h6v1h-6zM355 134h2v1h-2zm4 0h2v1h-2zm11 0h49v1h-49zM364 135h1v1h-1zm9 0h44v1h-44zm45 0h2v1h-2zM330 136h2v1h-2zm12 0h1v1h-1zm16 0h2v1h-2zm9 0h1v1h-1zm4 0h49v1h-49zM342 137h1v1h-1zm16 0h2v1h-2zm7 0h1v1h-1zm2 0h2v1h-2zm4 0h47v1h-47zm48 0h1v1h-1zM359 138h1v1h-1zm6 0h1v1h-1zm2 0h2v1h-2zm3 0h2v1h-2zm3 0h36v1h-36zm37 0h12v1h-12zM340 139h1v1h-1zm13 0h1v1h-1zm2 0h1v1h-1zm9 0h2v1h-2zm4 0h54v1h-54zM355 140h3v1h-3zm10 0h4v1h-4zm6 0h19v1h-19zm20 0h27v1h-27zm28 0h2v1h-2zM337 141h1v1h-1zm18 0h2v1h-2zm10 0h20v1h-20zm21 0h35v1h-35zM318 142h2v1h-2zm34 0h1v1h-1zm2 0h3v1h-3zm4 0h3v1h-3zm6 0h1v1h-1zm5 0h55v1h-55zM352 143h1v1h-1zm2 0h1v1h-1zm4 0h3v1h-3zm6 0h4v1h-4zm5 0h53v1h-53zm54 0h1v1h-1zM323 144h2v1h-2zm42 0h57v1h-57zM353 145h1v1h-1zm11 0h58v1h-58zM333 146h1v1h-1zm20 0h1v1h-1zm5 0h1v1h-1zm4 0h58v1h-58zm59 0h1v1h-1zM352 147h2v1h-2zm6 0h3v1h-3zm4 0h5v1h-5zm6 0h53v1h-53zM351 148h1v1h-1zm7 0h3v1h-3zm4 0h2v1h-2zm3 0h58v1h-58zM352 149h2v1h-2zm4 0h1v1h-1zm4 0h63v1h-63zM352 150h2v1h-2zm4 0h1v1h-1zm6 0h21v1h-21zm22 0h39v1h-39zM350 151h6v1h-6zm8 0h65v1h-65zM328 152h2v1h-2zm24 0h71v1h-71zM351 153h2v1h-2zm6 0h65v1h-65zM354 154h67v1h-67zM346 155h1v1h-1zm2 0h2v1h-2zm5 0h23v1h-23zm24 0h2v1h-2zm3 0h41v1h-41zM346 156h1v1h-1zm2 0h2v1h-2zm5 0h45v1h-45zm46 0h21v1h-21zM323 157h2v1h-2zm29 0h68v1h-68zM350 158h70v1h-70zm71 0h2v1h-2zM344 159h1v1h-1zm4 0h2v1h-2zm3 0h2v1h-2zm3 0h66v1h-66zm67 0h2v1h-2zM336 160h1v1h-1zm12 0h72v1h-72zm75 0h1v1h-1zM348 161h74v1h-74zM348 162h10v1h-10zm11 0h63v1h-63zM317 163h1v1h-1zm28 0h1v1h-1zm3 0h55v1h-55zm56 0h15v1h-15zm16 0h1v1h-1zM313 164h2v1h-2zm33 0h50v1h-50zm51 0h21v1h-21zm23 0h1v1h-1zM346 165h72v1h-72zm74 0h2v1h-2zM323 166h2v1h-2zm23 0h2v1h-2zm3 0h68v1h-68zm69 0h1v1h-1zM344 167h1v1h-1zm2 0h1v1h-1zm3 0h40v1h-40zm41 0h30v1h-30zM344 168h1v1h-1zm5 0h69v1h-69zm70 0h1v1h-1zM330 169h2v1h-2zm18 0h2v1h-2zm3 0h11v1h-11zm12 0h53v1h-53zm56 0h1v1h-1zM331 170h1v1h-1zm11 0h1v1h-1zm6 0h66v1h-66zm72 0h1v1h-1zM343 171h2v1h-2zm4 0h67v1h-67zm68 0h3v1h-3zm5 0h1v1h-1zM320 172h1v1h-1zm23 0h2v1h-2zm4 0h67v1h-67zm68 0h2v1h-2zM320 173h1v1h-1zm27 0h69v1h-69zM334 174h1v1h-1zm10 0h1v1h-1zm3 0h70v1h-70zM344 175h3v1h-3zm4 0h6v1h-6zm7 0h53v1h-53zm54 0h8v1h-8zM338 176h1v1h-1zm4 0h2v1h-2zm3 0h2v1h-2zm3 0h7v1h-7zm9 0h60v1h-60zM328 177h1v1h-1zm10 0h1v1h-1zm4 0h2v1h-2zm4 0h16v1h-16zm17 0h52v1h-52zm53 0h4v1h-4zM328 178h1v1h-1zm20 0h3v1h-3zm4 0h64v1h-64zM344 179h2v1h-2zm4 0h2v1h-2zm4 0h64v1h-64zM338 180h3v1h-3zm6 0h3v1h-3zm8 0h20v1h-20zm21 0h17v1h-17zm18 0h23v1h-23zM338 181h1v1h-1zm6 0h3v1h-3zm8 0h62v1h-62zm66 0h1v1h-1zM343 182h2v1h-2zm6 0h63v1h-63zM314 183h3v1h-3zm13 0h2v1h-2zm7 0h2v1h-2zm9 0h3v1h-3zm6 0h65v1h-65zM314 184h5v1h-5zm6 0h2v1h-2zm4 0h1v1h-1zm3 0h5v1h-5zm6 0h3v1h-3zm4 0h4v1h-4zm5 0h74v1h-74zM315 185h1v1h-1zm9 0h1v1h-1zm4 0h2v1h-2zm3 0h1v1h-1zm2 0h2v1h-2zm4 0h2v1h-2zm5 0h4v1h-4zm5 0h24v1h-24zm25 0h12v1h-12zm13 0h27v1h-27zm29 0h2v1h-2z" fill="#000" shape-rendering="crispEdges"/>
<rect x="312.2" y="47.5" width="138.8" height="139.0" fill="none" stroke="#000" stroke-width="1.6"/>
<line x1="361.5" y1="47.5" x2="361.5" y2="186.5" stroke="#000" stroke-width="1.3"/>
<line x1="312.2" y1="125.0" x2="451.0" y2="125.0" stroke="#000" stroke-width="1.3"/>
<polygon points="375.7,69.2 425.7,69.2 430.6,159.4 415.8,186.3 361.5,186.3 361.5,125.0 363.0,108.0" fill="none" stroke="#000" stroke-width="1.1"/>
<path d="M313.2 186.5v8M312.2 185.5h-6.5M347.4 186.5v8M312.2 151.2h-6.5M381.6 186.5v8M312.2 117.0h-6.5M415.8 186.5v8M312.2 82.8h-6.5M450.0 186.5v8M312.2 48.5h-6.5M323.5 186.5v4M312.2 175.2h-3.5M329.5 186.5v4M312.2 169.2h-3.5M333.8 186.5v4M312.2 164.9h-3.5M337.1 186.5v4M312.2 161.6h-3.5M339.8 186.5v4M312.2 158.8h-3.5M342.1 186.5v4M312.2 156.6h-3.5M344.1 186.5v4M312.2 154.6h-3.5M345.8 186.5v4M312.2 152.8h-3.5M357.7 186.5v4M312.2 140.9h-3.5M363.7 186.5v4M312.2 134.9h-3.5M368.0 186.5v4M312.2 130.6h-3.5M371.3 186.5v4M312.2 127.3h-3.5M374.0 186.5v4M312.2 124.6h-3.5M376.3 186.5v4M312.2 122.3h-3.5M378.3 186.5v4M312.2 120.3h-3.5M380.0 186.5v4M312.2 118.6h-3.5M391.9 186.5v4M312.2 106.7h-3.5M397.9 186.5v4M312.2 100.7h-3.5M402.2 186.5v4M312.2 96.4h-3.5M405.5 186.5v4M312.2 93.1h-3.5M408.2 186.5v4M312.2 90.3h-3.5M410.5 186.5v4M312.2 88.1h-3.5M412.5 186.5v4M312.2 86.1h-3.5M414.2 186.5v4M312.2 84.3h-3.5M426.1 186.5v4M312.2 72.4h-3.5M432.1 186.5v4M312.2 66.4h-3.5M436.4 186.5v4M312.2 62.1h-3.5M439.7 186.5v4M312.2 58.8h-3.5M442.4 186.5v4M312.2 56.1h-3.5M444.7 186.5v4M312.2 53.8h-3.5M446.7 186.5v4M312.2 51.8h-3.5M448.4 186.5v4M312.2 50.1h-3.5" stroke="#000" stroke-width="1.6" fill="none"/>
<text transform="translate(301.8,197.1) rotate(-90)" font-size="13.3" font-family='"Liberation Sans", sans-serif' x="0" y="0">10<tspan dx="3.0" dy="-7">0</tspan></text>
<text transform="translate(301.8,162.8) rotate(-90)" font-size="13.3" font-family='"Liberation Sans", sans-serif' x="0" y="0">10<tspan dx="3.0" dy="-7">1</tspan></text>
<text transform="translate(301.8,128.6) rotate(-90)" font-size="13.3" font-family='"Liberation Sans", sans-serif' x="0" y="0">10<tspan dx="3.0" dy="-7">2</tspan></text>
<text transform="translate(301.8,94.3) rotate(-90)" font-size="13.3" font-family='"Liberation Sans", sans-serif' x="0" y="0">10<tspan dx="3.0" dy="-7">3</tspan></text>
<text transform="translate(301.8,60.1) rotate(-90)" font-size="13.3" font-family='"Liberation Sans", sans-serif' x="0" y="0">10</text>
<path d="M546 69h2v1h-2zM540 70h1v1h-1zm5 0h2v1h-2zm3 0h2v1h-2zM542 71h2v1h-2zm4 0h6v1h-6zm26 0h2v1h-2zM539 72h6v1h-6zm7 0h1v1h-1zm2 0h2v1h-2zm16 0h2v1h-2zm15 0h2v1h-2zM537 73h1v1h-1zm2 0h7v1h-7zm8 0h4v1h-4zm5 0h1v1h-1zm17 0h2v1h-2zm3 0h2v1h-2zm7 0h2v1h-2zm6 0h4v1h-4zM536 74h3v1h-3zm5 0h14v1h-14zm23 0h1v1h-1zm2 0h3v1h-3zm6 0h2v1h-2zm3 0h7v1h-7zm10 0h4v1h-4zm5 0h2v1h-2zm10 0h1v1h-1zm4 0h2v1h-2zM538 75h2v1h-2zm3 0h15v1h-15zm24 0h4v1h-4zm5 0h1v1h-1zm7 0h2v1h-2zm3 0h1v1h-1zm9 0h2v1h-2zm6 0h2v1h-2zm5 0h1v1h-1zm10 0h4v1h-4zM532 76h3v1h-3zm4 0h8v1h-8zm9 0h14v1h-14zm20 0h2v1h-2zm5 0h2v1h-2zm4 0h2v1h-2zm3 0h2v1h-2zm3 0h2v1h-2zm6 0h3v1h-3zm4 0h5v1h-5zm8 0h3v1h-3zm4 0h2v1h-2zm10 0h2v1h-2zM533 77h2v1h-2zm3 0h13v1h-13zm14 0h5v1h-5zm7 0h2v1h-2zm13 0h3v1h-3zm4 0h2v1h-2zm3 0h2v1h-2zm3 0h1v1h-1zm3 0h2v1h-2zm3 0h11v1h-11zm12 0h2v1h-2zm5 0h2v1h-2zm3 0h2v1h-2zm4 0h1v1h-1zM530 78h2v1h-2zm7 0h19v1h-19zm20 0h1v1h-1zm6 0h2v1h-2zm4 0h2v1h-2zm5 0h1v1h-1zm3 0h26v1h-26zm27 0h5v1h-5zm9 0h1v1h-1zm3 0h2v1h-2zM532 79h3v1h-3zm5 0h22v1h-22zm26 0h2v1h-2zm3 0h1v1h-1zm9 0h1v1h-1zm2 0h6v1h-6zm7 0h26v1h-26zm30 0h2v1h-2zM532 80h3v1h-3zm4 0h23v1h-23zm29 0h2v1h-2zm4 0h1v1h-1zm3 0h7v1h-7zm8 0h31v1h-31zM533 81h7v1h-7zm8 0h18v1h-18zm31 0h38v1h-38zM531 82h8v1h-8zm9 0h19v1h-19zm27 0h1v1h-1zm2 0h5v1h-5zm6 0h34v1h-34zm35 0h1v1h-1zm4 0h1v1h-1zM530 83h1v1h-1zm2 0h26v1h-26zm32 0h2v1h-2zm6 0h44v1h-44zm46 0h1v1h-1zM529 84h2v1h-2zm3 0h26v1h-26zm39 0h43v1h-43zM528 85h3v1h-3zm4 0h27v1h-27zm33 0h2v1h-2zm6 0h42v1h-42zM528 86h31v1h-31zm33 0h2v1h-2zm4 0h2v1h-2zm6 0h43v1h-43zm47 0h2v1h-2zM528 87h31v1h-31zm36 0h3v1h-3zm7 0h2v1h-2zm3 0h41v1h-41zm42 0h1v1h-1zm2 0h2v1h-2zM528 88h2v1h-2zm3 0h27v1h-27zm36 0h2v1h-2zm5 0h45v1h-45zM528 89h30v1h-30zm31 0h1v1h-1zm8 0h2v1h-2zm5 0h43v1h-43zm44 0h1v1h-1zM528 90h34v1h-34zm42 0h1v1h-1zm3 0h42v1h-42zM529 91h3v1h-3zm4 0h28v1h-28zm31 0h2v1h-2zm5 0h2v1h-2zm3 0h45v1h-45zM527 92h28v1h-28zm29 0h4v1h-4zm8 0h2v1h-2zm5 0h46v1h-46zm47 0h1v1h-1zM527 93h32v1h-32zm33 0h1v1h-1zm7 0h1v1h-1zm3 0h14v1h-14zm15 0h3v1h-3zm4 0h28v1h-28zM527 94h32v1h-32zm36 0h1v1h-1zm5 0h1v1h-1zm4 0h20v1h-20zm21 0h23v1h-23zm27 0h2v1h-2zM524 95h2v1h-2zm5 0h33v1h-33zm36 0h1v1h-1zm7 0h23v1h-23zm24 0h2v1h-2zm3 0h20v1h-20zM528 96h30v1h-30zm31 0h3v1h-3zm6 0h1v1h-1zm6 0h42v1h-42zm44 0h6v1h-6zM529 97h30v1h-30zm34 0h1v1h-1zm4 0h1v1h-1zm2 0h2v1h-2zm3 0h43v1h-43zM527 98h1v1h-1zm2 0h17v1h-17zm18 0h13v1h-13zm16 0h3v1h-3zm4 0h1v1h-1zm2 0h2v1h-2zm3 0h44v1h-44zm45 0h3v1h-3zM530 99h28v1h-28zm34 0h2v1h-2zm3 0h15v1h-15zm16 0h32v1h-32zm34 0h1v1h-1zM525 100h2v1h-2zm6 0h29v1h-29zm36 0h15v1h-15zm16 0h34v1h-34zM525 101h3v1h-3zm6 0h2v1h-2zm3 0h23v1h-23zm24 0h3v1h-3zm5 0h1v1h-1zm6 0h2v1h-2zm4 0h35v1h-35zm37 0h9v1h-9zM527 102h1v1h-1zm2 0h1v1h-1zm3 0h27v1h-27zm31 0h1v1h-1zm5 0h2v1h-2zm4 0h47v1h-47zM529 103h1v1h-1zm2 0h1v1h-1zm2 0h26v1h-26zm35 0h1v1h-1zm3 0h42v1h-42zm44 0h3v1h-3zM526 104h2v1h-2zm3 0h1v1h-1zm2 0h1v1h-1zm2 0h1v1h-1zm2 0h24v1h-24zm32 0h2v1h-2zm3 0h48v1h-48zM526 105h3v1h-3zm7 0h28v1h-28zm34 0h2v1h-2zm3 0h46v1h-46zM527 106h3v1h-3zm7 0h13v1h-13zm14 0h4v1h-4zm6 0h4v1h-4zm12 0h1v1h-1zm4 0h47v1h-47zm49 0h1v1h-1zM528 107h2v1h-2zm6 0h1v1h-1zm2 0h1v1h-1zm2 0h15v1h-15zm16 0h1v1h-1zm2 0h1v1h-1zm5 0h3v1h-3zm5 0h1v1h-1zm3 0h40v1h-40zm41 0h10v1h-10zM527 108h2v1h-2zm3 0h2v1h-2zm4 0h6v1h-6zm9 0h6v1h-6zm7 0h3v1h-3zm6 0h1v1h-1zm7 0h3v1h-3zm6 0h50v1h-50zM527 109h2v1h-2zm7 0h2v1h-2zm3 0h3v1h-3zm4 0h11v1h-11zm14 0h2v1h-2zm6 0h1v1h-1zm3 0h2v1h-2zm5 0h50v1h-50zm53 0h1v1h-1zM532 110h2v1h-2zm7 0h1v1h-1zm2 0h3v1h-3zm4 0h4v1h-4zm6 0h1v1h-1zm4 0h1v1h-1zm6 0h3v1h-3zm8 0h49v1h-49zm53 0h1v1h-1zM532 111h2v1h-2zm20 0h1v1h-1zm4 0h2v1h-2zm7 0h2v1h-2zm5 0h41v1h-41zm42 0h8v1h-8zM531 112h1v1h-1zm4 0h2v1h-2zm17 0h1v1h-1zm4 0h2v1h-2zm4 0h1v1h-1zm3 0h2v1h-2zm5 0h15v1h-15zm16 0h25v1h-25zm26 0h8v1h-8zm10 0h4v1h-4zM542 113h2v1h-2zm6 0h2v1h-2zm20 0h2v1h-2zm3 0h9v1h-9zm11 0h34v1h-34zm39 0h3v1h-3zM540 114h1v1h-1zm4 0h2v1h-2zm4 0h2v1h-2zm20 0h48v1h-48zm51 0h1v1h-1zm2 0h2v1h-2zM531 115h1v1h-1zm8 0h2v1h-2zm4 0h3v1h-3zm12 0h4v1h-4zm12 0h2v1h-2zm4 0h11v1h-11zm12 0h34v1h-34zm36 0h1v1h-1zm3 0h1v1h-1zM531 116h4v1h-4zm8 0h2v1h-2zm4 0h2v1h-2zm14 0h2v1h-2zm10 0h49v1h-49zm52 0h1v1h-1zM535 117h2v1h-2zm3 0h1v1h-1zm2 0h1v1h-1zm4 0h1v1h-1zm7 0h2v1h-2zm16 0h11v1h-11zm12 0h21v1h-21zm22 0h15v1h-15zm17 0h1v1h-1zM537 118h1v1h-1zm8 0h2v1h-2zm4 0h3v1h-3zm17 0h1v1h-1zm2 0h49v1h-49zm50 0h1v1h-1zM538 119h2v1h-2zm7 0h2v1h-2zm4 0h1v1h-1zm17 0h1v1h-1zm2 0h11v1h-11zm12 0h32v1h-32zm33 0h5v1h-5zm6 0h4v1h-4zM538 120h2v1h-2zm25 0h2v1h-2zm5 0h51v1h-51zm52 0h2v1h-2zM540 121h2v1h-2zm21 0h4v1h-4zm5 0h29v1h-29zm30 0h23v1h-23zm26 0h3v1h-3zM535 122h2v1h-2zm5 0h2v1h-2zm21 0h2v1h-2zm4 0h4v1h-4zm5 0h4v1h-4zm5 0h42v1h-42zm45 0h1v1h-1zm3 0h2v1h-2zM535 123h2v1h-2zm30 0h27v1h-27zm28 0h6v1h-6zm7 0h19v1h-19zm20 0h1v1h-1zM565 124h39v1h-39zm40 0h14v1h-14zm16 0h1v1h-1zM565 125h53v1h-53zm56 0h1v1h-1zM523 126h1v1h-1zm36 0h1v1h-1zm4 0h1v1h-1zm2 0h55v1h-55zM559 127h1v1h-1zm6 0h1v1h-1zm2 0h18v1h-18zm19 0h34v1h-34zm35 0h1v1h-1zM541 128h2v1h-2zm14 0h1v1h-1zm4 0h1v1h-1zm2 0h2v1h-2zm3 0h3v1h-3zm4 0h50v1h-50zm53 0h1v1h-1zM541 129h2v1h-2zm14 0h1v1h-1zm4 0h1v1h-1zm2 0h2v1h-2zm3 0h25v1h-25zm26 0h29v1h-29zm30 0h1v1h-1zm4 0h2v1h-2zM563 130h4v1h-4zm5 0h53v1h-53zm54 0h2v1h-2zM563 131h3v1h-3zm5 0h29v1h-29zm31 0h22v1h-22zM531 132h1v1h-1zm32 0h57v1h-57zm59 0h1v1h-1zM564 133h55v1h-55zM563 134h57v1h-57zm58 0h2v1h-2zm3 0h1v1h-1zM559 135h64v1h-64zM559 136h3v1h-3zm4 0h40v1h-40zm41 0h16v1h-16zm18 0h1v1h-1zM541 137h2v1h-2zm20 0h59v1h-59zm61 0h1v1h-1zM541 138h2v1h-2zm17 0h59v1h-59zm60 0h2v1h-2zM557 139h64v1h-64zm67 0h1v1h-1zM535 140h2v1h-2zm14 0h2v1h-2zm8 0h37v1h-37zm38 0h17v1h-17zm19 0h8v1h-8zM549 141h2v1h-2zm8 0h2v1h-2zm5 0h59v1h-59zm62 0h1v1h-1zM537 142h1v1h-1zm22 0h2v1h-2zm3 0h59v1h-59zM537 143h1v1h-1zm20 0h65v1h-65zM557 144h2v1h-2zm3 0h47v1h-47zm48 0h14v1h-14zM560 145h24v1h-24zm25 0h22v1h-22zm23 0h8v1h-8zm9 0h6v1h-6zM559 146h41v1h-41zm42 0h16v1h-16zm17 0h2v1h-2zm4 0h4v1h-4zM560 147h20v1h-20zm21 0h39v1h-39zm43 0h2v1h-2zM552 148h1v1h-1zm2 0h2v1h-2zm6 0h38v1h-38zm39 0h21v1h-21zm22 0h2v1h-2zM552 149h1v1h-1zm4 0h2v1h-2zm5 0h59v1h-59zM521 150h2v1h-2zm33 0h1v1h-1zm2 0h2v1h-2zm3 0h1v1h-1zm2 0h41v1h-41zm42 0h18v1h-18zM554 151h30v1h-30zm31 0h38v1h-38zM555 152h1v1h-1zm4 0h21v1h-21zm22 0h41v1h-41zm42 0h2v1h-2zM555 153h1v1h-1zm3 0h64v1h-64zm65 0h2v1h-2zM537 154h2v1h-2zm17 0h2v1h-2zm3 0h64v1h-64zm65 0h1v1h-1zM526 155h2v1h-2zm28 0h2v1h-2zm3 0h40v1h-40zm41 0h8v1h-8zm9 0h15v1h-15zM526 156h2v1h-2zm23 0h2v1h-2zm8 0h66v1h-66zM519 157h2v1h-2zm30 0h2v1h-2zm3 0h2v1h-2zm4 0h2v1h-2zm3 0h2v1h-2zm3 0h61v1h-61zM519 158h2v1h-2zm34 0h2v1h-2zm3 0h26v1h-26zm27 0h36v1h-36zm37 0h2v1h-2zM514 159h2v1h-2zm40 0h1v1h-1zm3 0h3v1h-3zm4 0h30v1h-30zm31 0h30v1h-30zM514 160h2v1h-2zm8 0h1v1h-1zm31 0h69v1h-69zM522 161h1v1h-1zm31 0h66v1h-66zm68 0h1v1h-1zM552 162h2v1h-2zm3 0h1v1h-1zm2 0h62v1h-62zm64 0h1v1h-1zM529 163h2v1h-2zm23 0h2v1h-2zm4 0h63v1h-63zM529 164h2v1h-2zm24 0h1v1h-1zm3 0h47v1h-47zm48 0h15v1h-15zM542 165h2v1h-2zm8 0h2v1h-2zm3 0h1v1h-1zm3 0h64v1h-64zM551 166h1v1h-1zm7 0h57v1h-57zm58 0h6v1h-6zM517 167h1v1h-1zm24 0h2v1h-2zm15 0h3v1h-3zm4 0h12v1h-12zm13 0h15v1h-15zm16 0h33v1h-33zM517 168h1v1h-1zm5 0h2v1h-2zm19 0h2v1h-2zm13 0h66v1h-66zm67 0h2v1h-2zM522 169h2v1h-2zm25 0h1v1h-1zm6 0h55v1h-55zm56 0h9v1h-9zm10 0h1v1h-1zM547 170h1v1h-1zm6 0h37v1h-37zm38 0h29v1h-29zM539 171h2v1h-2zm11 0h2v1h-2zm5 0h64v1h-64zM539 172h2v1h-2zm10 0h1v1h-1zm3 0h2v1h-2zm5 0h37v1h-37zm38 0h8v1h-8zm9 0h15v1h-15zm18 0h2v1h-2zM543 173h2v1h-2zm9 0h4v1h-4zm5 0h64v1h-64zM551 174h3v1h-3zm5 0h6v1h-6zm7 0h15v1h-15zm16 0h39v1h-39zm40 0h2v1h-2zM531 175h2v1h-2zm21 0h3v1h-3zm4 0h53v1h-53zm54 0h5v1h-5zm6 0h4v1h-4zM524 176h2v1h-2zm19 0h1v1h-1zm10 0h2v1h-2zm3 0h53v1h-53zm54 0h8v1h-8zM524 177h2v1h-2zm18 0h2v1h-2zm8 0h2v1h-2zm5 0h33v1h-33zm34 0h6v1h-6zm7 0h23v1h-23zM525 178h1v1h-1zm25 0h2v1h-2zm5 0h2v1h-2zm3 0h19v1h-19zm20 0h37v1h-37zm38 0h4v1h-4zM533 179h1v1h-1zm8 0h2v1h-2zm5 0h1v1h-1zm8 0h1v1h-1zm2 0h59v1h-59zm60 0h2v1h-2zM526 180h2v1h-2zm7 0h1v1h-1zm22 0h62v1h-62zM526 181h2v1h-2zm12 0h2v1h-2zm19 0h60v1h-60zm61 0h3v1h-3zM536 182h4v1h-4zm14 0h1v1h-1zm5 0h1v1h-1zm2 0h59v1h-59zM546 183h2v1h-2zm11 0h60v1h-60zM529 184h1v1h-1zm7 0h2v1h-2zm13 0h1v1h-1zm8 0h60v1h-60zM529 185h1v1h-1zm7 0h3v1h-3zm9 0h1v1h-1zm4 0h1v1h-1zm7 0h60v1h-60zM528 186h2v1h-2zm5 0h1v1h-1zm4 0h2v1h-2zm18 0h59v1h-59zM540 187h2v1h-2zm12 0h62v1h-62zM520 188h2v1h-2zm5 0h1v1h-1zm4 0h1v1h-1zm11 0h2v1h-2zm4 0h1v1h-1zm8 0h2v1h-2zm4 0h60v1h-60zM520 189h2v1h-2zm9 0h1v1h-1zm27 0h2v1h-2zm4 0h4v1h-4zm5 0h1v1h-1zm4 0h2v1h-2zm3 0h10v1h-10zm11 0h16v1h-16zm20 0h6v1h-6zm8 0h3v1h-3z" fill="#000" shape-rendering="crispEdges"/>
<rect x="509.9" y="46.5" width="143.1" height="144.2" fill="none" stroke="#000" stroke-width="1.6"/>
<line x1="560.4" y1="46.5" x2="560.4" y2="190.7" stroke="#000" stroke-width="1.3"/>
<line x1="509.9" y1="126.5" x2="653.0" y2="126.5" stroke="#000" stroke-width="1.3"/>
<polygon points="575.4,69.4 627.3,69.4 633.1,163.3 616.9,190.7 560.4,190.7 560.4,126.5 563.7,104.4" fill="none" stroke="#000" stroke-width="1.1"/>
<path d="M510.9 190.7v8M509.9 189.7h-6.5M546.2 190.7v8M509.9 154.1h-6.5M581.5 190.7v8M509.9 118.6h-6.5M616.7 190.7v8M509.9 83.0h-6.5M652.0 190.7v8M509.9 47.5h-6.5M521.5 190.7v4M509.9 179.0h-3.5M527.7 190.7v4M509.9 172.7h-3.5M532.1 190.7v4M509.9 168.3h-3.5M535.6 190.7v4M509.9 164.9h-3.5M538.3 190.7v4M509.9 162.0h-3.5M540.7 190.7v4M509.9 159.7h-3.5M542.8 190.7v4M509.9 157.6h-3.5M544.6 190.7v4M509.9 155.8h-3.5M556.8 190.7v4M509.9 143.4h-3.5M563.0 190.7v4M509.9 137.2h-3.5M567.4 190.7v4M509.9 132.7h-3.5M570.8 190.7v4M509.9 129.3h-3.5M573.6 190.7v4M509.9 126.5h-3.5M576.0 190.7v4M509.9 124.1h-3.5M578.0 190.7v4M509.9 122.0h-3.5M579.8 190.7v4M509.9 120.2h-3.5M592.1 190.7v4M509.9 107.9h-3.5M598.3 190.7v4M509.9 101.6h-3.5M602.7 190.7v4M509.9 97.2h-3.5M606.1 190.7v4M509.9 93.8h-3.5M608.9 190.7v4M509.9 90.9h-3.5M611.3 190.7v4M509.9 88.6h-3.5M613.3 190.7v4M509.9 86.5h-3.5M615.1 190.7v4M509.9 84.7h-3.5M627.3 190.7v4M509.9 72.3h-3.5M633.6 190.7v4M509.9 66.1h-3.5M638.0 190.7v4M509.9 61.6h-3.5M641.4 190.7v4M509.9 58.2h-3.5M644.2 190.7v4M509.9 55.4h-3.5M646.5 190.7v4M509.9 53.0h-3.5M648.6 190.7v4M509.9 50.9h-3.5M650.4 190.7v4M509.9 49.1h-3.5" stroke="#000" stroke-width="1.6" fill="none"/>
<text transform="translate(499.5,201.3) rotate(-90)" font-size="13.3" font-family='"Liberation Sans", sans-serif' x="0" y="0">10<tspan dx="3.0" dy="-7">0</tspan></text>
<text transform="translate(499.5,165.7) rotate(-90)" font-size="13.3" font-family='"Liberation Sans", sans-serif' x="0" y="0">10<tspan dx="3.0" dy="-7">1</tspan></text>
<text transform="translate(499.5,130.2) rotate(-90)" font-size="13.3" font-family='"Liberation Sans", sans-serif' x="0" y="0">10<tspan dx="3.0" dy="-7">2</tspan></text>
<text transform="translate(499.5,94.6) rotate(-90)" font-size="13.3" font-family='"Liberation Sans", sans-serif' x="0" y="0">10<tspan dx="3.0" dy="-7">3</tspan></text>
<text transform="translate(499.5,59.1) rotate(-90)" font-size="13.3" font-family='"Liberation Sans", sans-serif' x="0" y="0">10</text>
<path d="M149 241h1v1h-1zm16 0h2v1h-2zM152 242h1v1h-1zm8 0h1v1h-1zm2 0h1v1h-1zm2 0h3v1h-3zM139 243h1v1h-1zm11 0h1v1h-1zm2 0h3v1h-3zm4 0h1v1h-1zm5 0h4v1h-4zm5 0h1v1h-1zM140 244h3v1h-3zm6 0h1v1h-1zm6 0h13v1h-13zm14 0h1v1h-1zM141 245h2v1h-2zm4 0h3v1h-3zm4 0h12v1h-12zM141 246h2v1h-2zm4 0h3v1h-3zm4 0h13v1h-13zm14 0h1v1h-1zM145 247h2v1h-2zm4 0h13v1h-13zm25 0h1v1h-1zm25 0h1v1h-1zm2 0h2v1h-2zm21 0h2v1h-2zM131 248h1v1h-1zm13 0h7v1h-7zm8 0h11v1h-11zm12 0h1v1h-1zm10 0h1v1h-1zm25 0h1v1h-1zm15 0h2v1h-2zm7 0h1v1h-1zM137 249h3v1h-3zm6 0h23v1h-23zm73 0h2v1h-2zM132 250h1v1h-1zm5 0h3v1h-3zm4 0h1v1h-1zm2 0h23v1h-23zm24 0h2v1h-2zm38 0h1v1h-1zM138 251h30v1h-30zm67 0h1v1h-1zm11 0h2v1h-2zM138 252h28v1h-28zm34 0h1v1h-1zm8 0h3v1h-3zm18 0h2v1h-2zm5 0h1v1h-1zM128 253h3v1h-3zm9 0h15v1h-15zm16 0h11v1h-11zm13 0h2v1h-2zm5 0h2v1h-2zm9 0h3v1h-3zm15 0h1v1h-1zm3 0h2v1h-2zm5 0h1v1h-1zm4 0h1v1h-1zm2 0h3v1h-3zM128 254h1v1h-1zm8 0h1v1h-1zm2 0h20v1h-20zm21 0h9v1h-9zm15 0h2v1h-2zm21 0h1v1h-1zm12 0h1v1h-1zm2 0h3v1h-3zm8 0h2v1h-2zM136 255h2v1h-2zm3 0h28v1h-28zm29 0h1v1h-1zm2 0h2v1h-2zm4 0h2v1h-2zm29 0h1v1h-1zm8 0h2v1h-2zm3 0h1v1h-1zm5 0h2v1h-2zm8 0h2v1h-2zM130 256h1v1h-1zm6 0h29v1h-29zm32 0h4v1h-4zm6 0h4v1h-4zm11 0h1v1h-1zm16 0h2v1h-2zm5 0h1v1h-1zm4 0h3v1h-3zm4 0h1v1h-1zm5 0h2v1h-2zM125 257h2v1h-2zm7 0h3v1h-3zm4 0h29v1h-29zm32 0h3v1h-3zm6 0h2v1h-2zm11 0h1v1h-1zm11 0h4v1h-4zm5 0h2v1h-2zm6 0h2v1h-2zm8 0h2v1h-2zM135 258h31v1h-31zm35 0h1v1h-1zm28 0h2v1h-2zm7 0h3v1h-3zm10 0h2v1h-2zm4 0h1v1h-1zM134 259h27v1h-27zm28 0h4v1h-4zm25 0h2v1h-2zm11 0h2v1h-2zm5 0h8v1h-8zm9 0h4v1h-4zM133 260h34v1h-34zm55 0h4v1h-4zm10 0h2v1h-2zm5 0h8v1h-8zm10 0h2v1h-2zm11 0h2v1h-2zM130 261h2v1h-2zm5 0h22v1h-22zm23 0h9v1h-9zm22 0h2v1h-2zm8 0h2v1h-2zm12 0h2v1h-2zm8 0h2v1h-2zm4 0h1v1h-1zm9 0h2v1h-2zm5 0h1v1h-1zM127 262h1v1h-1zm3 0h36v1h-36zm37 0h2v1h-2zm13 0h2v1h-2zm4 0h1v1h-1zm12 0h5v1h-5zm7 0h1v1h-1zm9 0h3v1h-3zm9 0h2v1h-2zM131 263h35v1h-35zm52 0h4v1h-4zm6 0h2v1h-2zm7 0h4v1h-4zm9 0h2v1h-2zm6 0h2v1h-2zm3 0h1v1h-1zM126 264h1v1h-1zm3 0h2v1h-2zm3 0h30v1h-30zm31 0h2v1h-2zm21 0h1v1h-1zm13 0h2v1h-2zm3 0h2v1h-2zm4 0h4v1h-4zm9 0h1v1h-1zm9 0h2v1h-2zM126 265h2v1h-2zm4 0h18v1h-18zm19 0h16v1h-16zm33 0h1v1h-1zm2 0h1v1h-1zm3 0h2v1h-2zm8 0h6v1h-6zm11 0h2v1h-2zm5 0h3v1h-3zm11 0h2v1h-2zM130 266h1v1h-1zm2 0h2v1h-2zm3 0h9v1h-9zm10 0h21v1h-21zm54 0h2v1h-2zm8 0h2v1h-2zm3 0h3v1h-3zM129 267h33v1h-33zm37 0h1v1h-1zm8 0h1v1h-1zm5 0h2v1h-2zm21 0h6v1h-6zm9 0h4v1h-4zm9 0h1v1h-1zm8 0h2v1h-2zM123 268h2v1h-2zm3 0h1v1h-1zm2 0h34v1h-34zm35 0h1v1h-1zm9 0h1v1h-1zm21 0h2v1h-2zm5 0h1v1h-1zm2 0h7v1h-7zm9 0h2v1h-2zm5 0h1v1h-1zm4 0h1v1h-1zm8 0h1v1h-1zm4 0h2v1h-2zM123 269h2v1h-2zm3 0h1v1h-1zm2 0h34v1h-34zm35 0h1v1h-1zm11 0h1v1h-1zm19 0h2v1h-2zm3 0h1v1h-1zm2 0h2v1h-2zm6 0h3v1h-3zm5 0h2v1h-2zm17 0h1v1h-1zm4 0h2v1h-2zM125 270h1v1h-1zm3 0h30v1h-30zm31 0h3v1h-3zm16 0h1v1h-1zm2 0h1v1h-1zm19 0h5v1h-5zm8 0h1v1h-1zm4 0h2v1h-2zm4 0h1v1h-1zM125 271h1v1h-1zm2 0h33v1h-33zm35 0h2v1h-2zm5 0h2v1h-2zm9 0h2v1h-2zm4 0h1v1h-1zm2 0h1v1h-1zm5 0h2v1h-2zm10 0h4v1h-4zm8 0h2v1h-2zm6 0h2v1h-2zm12 0h1v1h-1zM129 272h37v1h-37zm47 0h1v1h-1zm4 0h1v1h-1zm2 0h1v1h-1zm17 0h2v1h-2zm5 0h3v1h-3zm5 0h2v1h-2zm14 0h1v1h-1zM126 273h1v1h-1zm3 0h30v1h-30zm34 0h3v1h-3zm14 0h2v1h-2zm11 0h2v1h-2zm8 0h2v1h-2zm9 0h3v1h-3zm4 0h2v1h-2zm8 0h2v1h-2zM126 274h1v1h-1zm2 0h30v1h-30zm41 0h2v1h-2zm15 0h2v1h-2zm17 0h1v1h-1zm5 0h2v1h-2zm3 0h1v1h-1zm6 0h1v1h-1zM124 275h1v1h-1zm3 0h11v1h-11zm13 0h16v1h-16zm18 0h7v1h-7zm8 0h1v1h-1zm16 0h4v1h-4zm11 0h2v1h-2zm6 0h3v1h-3zm4 0h2v1h-2zm14 0h1v1h-1zM124 276h33v1h-33zm34 0h5v1h-5zm7 0h1v1h-1zm17 0h3v1h-3zm13 0h3v1h-3zm4 0h2v1h-2zm4 0h1v1h-1zm14 0h1v1h-1zM125 277h2v1h-2zm3 0h29v1h-29zm30 0h2v1h-2zm37 0h3v1h-3zm6 0h1v1h-1zm4 0h3v1h-3zm4 0h2v1h-2zm8 0h1v1h-1zm8 0h2v1h-2zM126 278h16v1h-16zm17 0h13v1h-13zm35 0h2v1h-2zm10 0h1v1h-1zm2 0h1v1h-1zm15 0h2v1h-2zM124 279h31v1h-31zm33 0h1v1h-1zm7 0h1v1h-1zm15 0h1v1h-1zm9 0h1v1h-1zm2 0h1v1h-1zm7 0h1v1h-1zm4 0h3v1h-3zm4 0h1v1h-1zm2 0h2v1h-2zm3 0h2v1h-2zm3 0h2v1h-2zM125 280h28v1h-28zm29 0h1v1h-1zm2 0h2v1h-2zm20 0h1v1h-1zm14 0h1v1h-1zm6 0h2v1h-2zm3 0h2v1h-2zm3 0h2v1h-2zm17 0h3v1h-3zM126 281h27v1h-27zm30 0h2v1h-2zm20 0h1v1h-1zm18 0h1v1h-1zm2 0h2v1h-2zm3 0h2v1h-2zm10 0h2v1h-2zm5 0h2v1h-2zM127 282h27v1h-27zm29 0h2v1h-2zm18 0h1v1h-1zm4 0h2v1h-2zm5 0h1v1h-1zm13 0h2v1h-2zm3 0h2v1h-2zm4 0h2v1h-2zm6 0h2v1h-2zM126 283h23v1h-23zm24 0h6v1h-6zm21 0h2v1h-2zm3 0h1v1h-1zm4 0h2v1h-2zm27 0h1v1h-1zm7 0h2v1h-2zM126 284h22v1h-22zm24 0h1v1h-1zm7 0h1v1h-1zm14 0h2v1h-2zm4 0h2v1h-2zm6 0h1v1h-1zm3 0h1v1h-1zm8 0h1v1h-1zm12 0h2v1h-2zm8 0h3v1h-3zm8 0h2v1h-2zM126 285h3v1h-3zm4 0h15v1h-15zm17 0h1v1h-1zm2 0h2v1h-2zm10 0h1v1h-1zm13 0h1v1h-1zm3 0h2v1h-2zm6 0h1v1h-1zm11 0h1v1h-1zm5 0h2v1h-2zm6 0h2v1h-2zm8 0h1v1h-1zm2 0h2v1h-2zm7 0h2v1h-2zM127 286h21v1h-21zm65 0h7v1h-7zm9 0h4v1h-4zm6 0h3v1h-3zm4 0h1v1h-1zm3 0h1v1h-1zM130 287h18v1h-18zm62 0h5v1h-5zm7 0h1v1h-1zm4 0h6v1h-6zm13 0h2v1h-2zM130 288h14v1h-14zm23 0h1v1h-1zm3 0h1v1h-1zm13 0h2v1h-2zm17 0h2v1h-2zm6 0h1v1h-1zm4 0h2v1h-2zm3 0h1v1h-1zm3 0h1v1h-1zm2 0h3v1h-3zm5 0h1v1h-1zm7 0h4v1h-4zm8 0h1v1h-1zM129 289h9v1h-9zm12 0h2v1h-2zm11 0h5v1h-5zm22 0h2v1h-2zm18 0h1v1h-1zm8 0h1v1h-1zm2 0h2v1h-2zm4 0h3v1h-3zm4 0h2v1h-2zm11 0h1v1h-1zm6 0h1v1h-1zM122 290h4v1h-4zm5 0h1v1h-1zm2 0h2v1h-2zm3 0h9v1h-9zm38 0h1v1h-1zm4 0h2v1h-2zm19 0h1v1h-1zm2 0h2v1h-2zm5 0h3v1h-3zm7 0h1v1h-1zm6 0h5v1h-5zm8 0h1v1h-1zM122 291h3v1h-3zm5 0h1v1h-1zm5 0h2v1h-2zm3 0h2v1h-2zm3 0h2v1h-2zm32 0h1v1h-1zm11 0h2v1h-2zm14 0h3v1h-3zm9 0h2v1h-2zm8 0h5v1h-5zm14 0h1v1h-1zM133 292h3v1h-3zm4 0h1v1h-1zm60 0h1v1h-1zm2 0h3v1h-3zm10 0h1v1h-1zm5 0h3v1h-3zm7 0h1v1h-1zM128 293h5v1h-5zm6 0h2v1h-2zm3 0h1v1h-1zm7 0h1v1h-1zm4 0h2v1h-2zm24 0h1v1h-1zm6 0h2v1h-2zm4 0h1v1h-1zm11 0h1v1h-1zm2 0h2v1h-2zm6 0h1v1h-1zm10 0h3v1h-3zm5 0h1v1h-1zm8 0h1v1h-1zm5 0h2v1h-2zM134 294h1v1h-1zm10 0h1v1h-1zm25 0h2v1h-2zm5 0h2v1h-2zm4 0h2v1h-2zm4 0h1v1h-1zm13 0h2v1h-2zm6 0h1v1h-1zm3 0h2v1h-2zm3 0h2v1h-2zm4 0h5v1h-5zm13 0h1v1h-1zm3 0h1v1h-1zm2 0h2v1h-2zM148 295h2v1h-2zm4 0h2v1h-2zm17 0h2v1h-2zm5 0h1v1h-1zm9 0h2v1h-2zm6 0h2v1h-2zm4 0h1v1h-1zm5 0h2v1h-2zm3 0h1v1h-1zm3 0h2v1h-2zm4 0h5v1h-5zm8 0h2v1h-2zm4 0h2v1h-2zm4 0h1v1h-1zM148 296h2v1h-2zm24 0h1v1h-1zm9 0h1v1h-1zm2 0h2v1h-2zm6 0h2v1h-2zm4 0h2v1h-2zm4 0h2v1h-2zm8 0h2v1h-2zm10 0h3v1h-3zm5 0h2v1h-2zm4 0h3v1h-3zm6 0h2v1h-2zM135 297h4v1h-4zm37 0h2v1h-2zm9 0h3v1h-3zm7 0h2v1h-2zm4 0h8v1h-8zm12 0h7v1h-7zm11 0h2v1h-2zm8 0h2v1h-2zm5 0h1v1h-1zM134 298h5v1h-5zm38 0h2v1h-2zm4 0h8v1h-8zm12 0h2v1h-2zm3 0h3v1h-3zm4 0h4v1h-4zm6 0h1v1h-1zm2 0h1v1h-1zm3 0h2v1h-2zm3 0h2v1h-2zm6 0h4v1h-4zM134 299h1v1h-1zm23 0h2v1h-2zm14 0h2v1h-2zm5 0h1v1h-1zm2 0h2v1h-2zm4 0h2v1h-2zm8 0h2v1h-2zm6 0h4v1h-4zm5 0h3v1h-3zm5 0h1v1h-1zm3 0h3v1h-3zm8 0h2v1h-2zM130 300h2v1h-2zm19 0h1v1h-1zm8 0h2v1h-2zm14 0h2v1h-2zm11 0h2v1h-2zm6 0h4v1h-4zm5 0h1v1h-1zm2 0h2v1h-2zm3 0h1v1h-1zm2 0h5v1h-5zm6 0h1v1h-1zm3 0h12v1h-12zm19 0h1v1h-1zM130 301h2v1h-2zm19 0h2v1h-2zm25 0h2v1h-2zm5 0h2v1h-2zm3 0h2v1h-2zm7 0h2v1h-2zm4 0h1v1h-1zm2 0h2v1h-2zm4 0h3v1h-3zm5 0h5v1h-5zm9 0h5v1h-5zm6 0h2v1h-2zm9 0h1v1h-1zM168 302h2v1h-2zm17 0h2v1h-2zm4 0h2v1h-2zm4 0h4v1h-4zm6 0h2v1h-2zm5 0h2v1h-2zm3 0h2v1h-2zm3 0h2v1h-2zm3 0h2v1h-2zm6 0h2v1h-2zm3 0h2v1h-2zm3 0h1v1h-1zM168 303h2v1h-2zm8 0h1v1h-1zm13 0h1v1h-1zm2 0h1v1h-1zm2 0h3v1h-3zm7 0h1v1h-1zm4 0h2v1h-2zm3 0h3v1h-3zm7 0h3v1h-3zm4 0h6v1h-6zm8 0h1v1h-1zM122 304h2v1h-2zm69 0h16v1h-16zm21 0h1v1h-1zm2 0h7v1h-7zM132 305h2v1h-2zm20 0h2v1h-2zm11 0h2v1h-2zm10 0h2v1h-2zm13 0h2v1h-2zm5 0h6v1h-6zm8 0h5v1h-5zm6 0h1v1h-1zm2 0h3v1h-3zm7 0h1v1h-1zm3 0h2v1h-2zm3 0h1v1h-1zm7 0h2v1h-2zM134 306h1v1h-1zm20 0h2v1h-2zm16 0h1v1h-1zm6 0h1v1h-1zm10 0h2v1h-2zm7 0h7v1h-7zm9 0h2v1h-2zm3 0h1v1h-1zm4 0h1v1h-1zm3 0h1v1h-1zm3 0h3v1h-3zm12 0h2v1h-2zM134 307h1v1h-1zm5 0h2v1h-2zm15 0h2v1h-2zm15 0h2v1h-2zm7 0h1v1h-1zm12 0h3v1h-3zm4 0h5v1h-5zm6 0h2v1h-2zm3 0h3v1h-3zm8 0h1v1h-1zm3 0h1v1h-1zm2 0h1v1h-1zm2 0h1v1h-1zm3 0h2v1h-2zM139 308h2v1h-2zm51 0h1v1h-1zm2 0h4v1h-4zm5 0h2v1h-2zm3 0h4v1h-4zm14 0h1v1h-1zm5 0h2v1h-2zM151 309h2v1h-2zm20 0h1v1h-1zm2 0h2v1h-2zm10 0h2v1h-2zm5 0h1v1h-1zm2 0h1v1h-1zm3 0h3v1h-3zm5 0h4v1h-4zm5 0h1v1h-1zm7 0h3v1h-3zm6 0h1v1h-1zm3 0h2v1h-2zm11 0h1v1h-1zM169 310h3v1h-3zm5 0h1v1h-1zm9 0h1v1h-1zm5 0h4v1h-4zm6 0h2v1h-2zm4 0h2v1h-2zm4 0h2v1h-2zm5 0h7v1h-7zm9 0h1v1h-1zm3 0h2v1h-2zm8 0h2v1h-2zM154 311h1v1h-1zm14 0h2v1h-2zm5 0h1v1h-1zm5 0h1v1h-1zm2 0h1v1h-1zm9 0h5v1h-5zm7 0h1v1h-1zm2 0h1v1h-1zm4 0h2v1h-2zm3 0h1v1h-1zm2 0h8v1h-8zm9 0h1v1h-1zm11 0h2v1h-2zM166 312h1v1h-1zm2 0h2v1h-2zm5 0h1v1h-1zm5 0h1v1h-1zm2 0h1v1h-1zm2 0h2v1h-2zm9 0h9v1h-9zm12 0h1v1h-1zm3 0h2v1h-2zm8 0h1v1h-1zm3 0h1v1h-1zm4 0h2v1h-2zM126 313h1v1h-1zm40 0h1v1h-1zm6 0h2v1h-2zm7 0h2v1h-2zm3 0h2v1h-2zm3 0h1v1h-1zm6 0h6v1h-6zm7 0h6v1h-6zm8 0h2v1h-2zm5 0h1v1h-1zm7 0h2v1h-2zM126 314h1v1h-1zm12 0h1v1h-1zm52 0h6v1h-6zm7 0h1v1h-1zm3 0h2v1h-2zm3 0h6v1h-6zm7 0h2v1h-2zm6 0h1v1h-1zm9 0h2v1h-2zM176 315h1v1h-1zm10 0h2v1h-2zm5 0h7v1h-7zm8 0h2v1h-2zm4 0h6v1h-6zm7 0h2v1h-2zm3 0h5v1h-5zm7 0h1v1h-1zm5 0h2v1h-2zM137 316h2v1h-2zm34 0h1v1h-1zm2 0h2v1h-2zm3 0h1v1h-1zm2 0h2v1h-2zm7 0h3v1h-3zm8 0h4v1h-4zm6 0h2v1h-2zm4 0h5v1h-5zm7 0h2v1h-2zm3 0h5v1h-5zM131 317h1v1h-1zm6 0h2v1h-2zm12 0h2v1h-2zm12 0h1v1h-1zm10 0h1v1h-1zm3 0h1v1h-1zm6 0h2v1h-2zm3 0h1v1h-1zm2 0h1v1h-1zm6 0h1v1h-1zm4 0h20v1h-20zm21 0h3v1h-3zm4 0h2v1h-2zm12 0h1v1h-1zM131 318h1v1h-1zm38 0h2v1h-2zm3 0h1v1h-1zm2 0h2v1h-2zm16 0h4v1h-4zm5 0h12v1h-12zm13 0h7v1h-7zm8 0h3v1h-3zm4 0h4v1h-4zM142 319h2v1h-2zm27 0h2v1h-2zm3 0h2v1h-2zm3 0h1v1h-1zm11 0h6v1h-6zm8 0h11v1h-11zm12 0h13v1h-13zm16 0h2v1h-2zm5 0h2v1h-2zM135 320h1v1h-1zm7 0h2v1h-2zm14 0h1v1h-1zm10 0h1v1h-1zm6 0h3v1h-3zm14 0h19v1h-19zm21 0h10v1h-10zm11 0h1v1h-1zm3 0h2v1h-2zm6 0h2v1h-2zm3 0h1v1h-1zM156 321h1v1h-1zm18 0h1v1h-1zm2 0h1v1h-1zm11 0h18v1h-18zm19 0h11v1h-11zm12 0h1v1h-1zm3 0h2v1h-2zm4 0h1v1h-1zM163 322h1v1h-1zm18 0h2v1h-2zm7 0h26v1h-26zm28 0h2v1h-2zm3 0h5v1h-5zm6 0h1v1h-1zM122 323h2v1h-2zm51 0h2v1h-2zm8 0h2v1h-2zm3 0h10v1h-10zm11 0h8v1h-8zm9 0h10v1h-10zm11 0h6v1h-6zm7 0h3v1h-3zM133 324h1v1h-1zm2 0h1v1h-1zm43 0h32v1h-32zm33 0h15v1h-15zM133 325h1v1h-1zm2 0h1v1h-1zm24 0h1v1h-1zm11 0h1v1h-1zm6 0h2v1h-2zm3 0h15v1h-15zm16 0h27v1h-27zm29 0h2v1h-2zM159 326h1v1h-1zm11 0h2v1h-2zm9 0h43v1h-43zm45 0h3v1h-3zm5 0h1v1h-1zm3 0h2v1h-2zM173 327h1v1h-1zm2 0h12v1h-12zm13 0h8v1h-8zm9 0h5v1h-5zm6 0h13v1h-13zm14 0h6v1h-6zm8 0h2v1h-2zM172 328h23v1h-23zm25 0h30v1h-30zM165 329h1v1h-1zm8 0h5v1h-5zm6 0h29v1h-29zm30 0h15v1h-15zm16 0h5v1h-5zM131 330h2v1h-2zm39 0h1v1h-1zm3 0h2v1h-2zm3 0h12v1h-12zm13 0h9v1h-9zm10 0h31v1h-31zM127 331h2v1h-2zm29 0h2v1h-2zm14 0h1v1h-1zm2 0h3v1h-3zm4 0h52v1h-52zM127 332h2v1h-2zm5 0h1v1h-1zm24 0h2v1h-2zm13 0h1v1h-1zm3 0h3v1h-3zm4 0h1v1h-1zm3 0h3v1h-3zm4 0h3v1h-3zm4 0h35v1h-35zm36 0h2v1h-2zm3 0h3v1h-3zM132 333h1v1h-1zm4 0h1v1h-1zm3 0h1v1h-1zm3 0h1v1h-1zm27 0h1v1h-1zm3 0h51v1h-51zm54 0h2v1h-2zm4 0h1v1h-1zM139 334h1v1h-1zm34 0h25v1h-25zm26 0h28v1h-28zm32 0h2v1h-2zM130 335h2v1h-2zm43 0h6v1h-6zm7 0h40v1h-40zm41 0h7v1h-7zm11 0h1v1h-1zM133 336h2v1h-2zm6 0h1v1h-1zm35 0h54v1h-54zm55 0h1v1h-1zm2 0h3v1h-3zM172 337h33v1h-33zm34 0h22v1h-22zm25 0h3v1h-3zM168 338h56v1h-56zm57 0h4v1h-4zM168 339h43v1h-43zm44 0h13v1h-13zm14 0h3v1h-3zM122 340h1v1h-1zm45 0h61v1h-61zM122 341h1v1h-1zm9 0h1v1h-1zm36 0h3v1h-3zm4 0h56v1h-56zm58 0h2v1h-2zm3 0h2v1h-2zM168 342h60v1h-60zm61 0h2v1h-2zm3 0h2v1h-2zM139 343h1v1h-1zm29 0h9v1h-9zm10 0h25v1h-25zm26 0h5v1h-5zm6 0h18v1h-18zM130 344h2v1h-2zm9 0h1v1h-1zm21 0h2v1h-2zm9 0h60v1h-60zM130 345h2v1h-2zm30 0h2v1h-2zm10 0h22v1h-22zm23 0h24v1h-24zm25 0h8v1h-8zm13 0h1v1h-1zM143 346h1v1h-1zm4 0h2v1h-2zm20 0h4v1h-4zm5 0h3v1h-3zm4 0h39v1h-39zm40 0h10v1h-10zm11 0h1v1h-1zm2 0h4v1h-4zM135 347h2v1h-2zm12 0h2v1h-2zm16 0h1v1h-1zm4 0h4v1h-4zm5 0h4v1h-4zm5 0h20v1h-20zm21 0h8v1h-8zm9 0h22v1h-22zm23 0h3v1h-3zM135 348h2v1h-2zm34 0h1v1h-1zm3 0h10v1h-10zm11 0h45v1h-45zm46 0h3v1h-3zM168 349h61v1h-61zm62 0h2v1h-2zM123 350h2v1h-2zm19 0h2v1h-2zm5 0h1v1h-1zm21 0h17v1h-17zm18 0h43v1h-43zm45 0h1v1h-1zM160 351h1v1h-1zm8 0h1v1h-1zm3 0h31v1h-31zm32 0h14v1h-14zm15 0h11v1h-11zM153 352h1v1h-1zm7 0h1v1h-1zm9 0h1v1h-1zm2 0h59v1h-59zM171 353h1v1h-1zm2 0h28v1h-28zm29 0h28v1h-28zM136 354h3v1h-3zm9 0h2v1h-2zm9 0h2v1h-2zm15 0h61v1h-61zM146 355h1v1h-1zm23 0h15v1h-15zm16 0h43v1h-43zm44 0h1v1h-1z" fill="#000" shape-rendering="crispEdges"/>
<rect x="118.1" y="220.7" width="137.2" height="136.6" fill="none" stroke="#000" stroke-width="1.6"/>
<line x1="167.2" y1="220.7" x2="167.2" y2="357.3" stroke="#000" stroke-width="1.3"/>
<line x1="118.1" y1="295.3" x2="255.3" y2="295.3" stroke="#000" stroke-width="1.3"/>
<polygon points="181.3,240.4 231.4,240.4 237.1,331.6 226.7,357.0 166.6,357.0 165.7,297.0 170.4,272.0" fill="none" stroke="#000" stroke-width="1.1"/>
<path d="M119.1 357.3v8M118.1 356.3h-6.5M152.9 357.3v8M118.1 322.6h-6.5M186.7 357.3v8M118.1 289.0h-6.5M220.5 357.3v8M118.1 255.3h-6.5M254.3 357.3v8M118.1 221.7h-6.5M129.3 357.3v4M118.1 346.2h-3.5M135.2 357.3v4M118.1 340.2h-3.5M139.4 357.3v4M118.1 336.0h-3.5M142.7 357.3v4M118.1 332.8h-3.5M145.4 357.3v4M118.1 330.1h-3.5M147.7 357.3v4M118.1 327.9h-3.5M149.6 357.3v4M118.1 325.9h-3.5M151.4 357.3v4M118.1 324.2h-3.5M163.1 357.3v4M118.1 312.5h-3.5M169.0 357.3v4M118.1 306.6h-3.5M173.2 357.3v4M118.1 302.4h-3.5M176.5 357.3v4M118.1 299.1h-3.5M179.2 357.3v4M118.1 296.5h-3.5M181.5 357.3v4M118.1 294.2h-3.5M183.4 357.3v4M118.1 292.3h-3.5M185.2 357.3v4M118.1 290.5h-3.5M196.9 357.3v4M118.1 278.9h-3.5M202.8 357.3v4M118.1 272.9h-3.5M207.0 357.3v4M118.1 268.7h-3.5M210.3 357.3v4M118.1 265.5h-3.5M213.0 357.3v4M118.1 262.8h-3.5M215.3 357.3v4M118.1 260.6h-3.5M217.2 357.3v4M118.1 258.6h-3.5M219.0 357.3v4M118.1 256.9h-3.5M230.7 357.3v4M118.1 245.2h-3.5M236.6 357.3v4M118.1 239.3h-3.5M240.8 357.3v4M118.1 235.1h-3.5M244.1 357.3v4M118.1 231.8h-3.5M246.8 357.3v4M118.1 229.2h-3.5M249.1 357.3v4M118.1 226.9h-3.5M251.0 357.3v4M118.1 225.0h-3.5M252.8 357.3v4M118.1 223.2h-3.5" stroke="#000" stroke-width="1.6" fill="none"/>
<text transform="translate(107.7,367.9) rotate(-90)" font-size="13.3" font-family='"Liberation Sans", sans-serif' x="0" y="0">10<tspan dx="3.0" dy="-7">0</tspan></text>
<text transform="translate(107.7,334.2) rotate(-90)" font-size="13.3" font-family='"Liberation Sans", sans-serif' x="0" y="0">10<tspan dx="3.0" dy="-7">1</tspan></text>
<text transform="translate(107.7,300.6) rotate(-90)" font-size="13.3" font-family='"Liberation Sans", sans-serif' x="0" y="0">10<tspan dx="3.0" dy="-7">2</tspan></text>
<text transform="translate(107.7,266.9) rotate(-90)" font-size="13.3" font-family='"Liberation Sans", sans-serif' x="0" y="0">10<tspan dx="3.0" dy="-7">3</tspan></text>
<text transform="translate(107.7,233.3) rotate(-90)" font-size="13.3" font-family='"Liberation Sans", sans-serif' x="0" y="0">10</text>
<path d="M327 243h3v1h-3zm14 0h2v1h-2zM322 244h2v1h-2zm19 0h2v1h-2zM322 245h2v1h-2zm33 0h2v1h-2zM345 246h2v1h-2zm65 0h1v1h-1zM321 247h2v1h-2zm7 0h2v1h-2zm17 0h4v1h-4zm60 0h2v1h-2zm4 0h4v1h-4zM330 248h1v1h-1zm76 0h1v1h-1zm4 0h4v1h-4zm9 0h2v1h-2zM330 249h1v1h-1zm38 0h2v1h-2zm6 0h1v1h-1zm3 0h1v1h-1zm14 0h1v1h-1zm13 0h4v1h-4zm6 0h2v1h-2zm3 0h2v1h-2zm6 0h2v1h-2zM348 250h1v1h-1zm20 0h2v1h-2zm6 0h2v1h-2zm26 0h2v1h-2zm5 0h1v1h-1zm2 0h8v1h-8zm9 0h1v1h-1zm6 0h2v1h-2zM343 251h1v1h-1zm3 0h1v1h-1zm2 0h1v1h-1zm33 0h2v1h-2zm3 0h1v1h-1zm3 0h2v1h-2zm6 0h2v1h-2zm7 0h2v1h-2zm4 0h3v1h-3zm4 0h7v1h-7zm8 0h3v1h-3zm6 0h2v1h-2zM338 252h3v1h-3zm12 0h2v1h-2zm43 0h2v1h-2zm6 0h2v1h-2zm3 0h16v1h-16zm19 0h1v1h-1zM332 253h1v1h-1zm11 0h2v1h-2zm13 0h2v1h-2zm42 0h7v1h-7zm8 0h10v1h-10zm11 0h6v1h-6zM322 254h1v1h-1zm8 0h1v1h-1zm2 0h1v1h-1zm4 0h1v1h-1zm4 0h2v1h-2zm3 0h5v1h-5zm7 0h1v1h-1zm9 0h1v1h-1zm12 0h2v1h-2zm8 0h1v1h-1zm7 0h2v1h-2zm8 0h1v1h-1zm4 0h5v1h-5zm6 0h15v1h-15zM331 255h2v1h-2zm5 0h1v1h-1zm4 0h2v1h-2zm5 0h3v1h-3zm7 0h3v1h-3zm21 0h1v1h-1zm5 0h2v1h-2zm4 0h1v1h-1zm4 0h2v1h-2zm8 0h1v1h-1zm3 0h24v1h-24zM330 256h3v1h-3zm4 0h2v1h-2zm3 0h2v1h-2zm5 0h3v1h-3zm4 0h3v1h-3zm4 0h5v1h-5zm44 0h4v1h-4zm5 0h22v1h-22zM330 257h3v1h-3zm4 0h2v1h-2zm3 0h2v1h-2zm3 0h1v1h-1zm2 0h3v1h-3zm7 0h5v1h-5zm8 0h1v1h-1zm37 0h4v1h-4zm5 0h22v1h-22zM332 258h1v1h-1zm2 0h2v1h-2zm3 0h6v1h-6zm12 0h2v1h-2zm46 0h2v1h-2zm3 0h22v1h-22zM328 259h3v1h-3zm4 0h4v1h-4zm6 0h7v1h-7zm8 0h5v1h-5zm7 0h1v1h-1zm27 0h1v1h-1zm16 0h27v1h-27zM328 260h1v1h-1zm2 0h1v1h-1zm2 0h3v1h-3zm4 0h1v1h-1zm2 0h4v1h-4zm5 0h8v1h-8zm10 0h2v1h-2zm27 0h1v1h-1zm3 0h1v1h-1zm13 0h5v1h-5zm6 0h5v1h-5zm6 0h14v1h-14zm15 0h1v1h-1zM330 261h4v1h-4zm6 0h5v1h-5zm7 0h3v1h-3zm4 0h4v1h-4zm6 0h2v1h-2zm26 0h2v1h-2zm4 0h1v1h-1zm6 0h2v1h-2zm8 0h4v1h-4zm5 0h5v1h-5zm6 0h15v1h-15zM329 262h2v1h-2zm5 0h1v1h-1zm2 0h7v1h-7zm8 0h8v1h-8zm35 0h2v1h-2zm8 0h1v1h-1zm2 0h2v1h-2zm5 0h7v1h-7zm8 0h14v1h-14zm15 0h5v1h-5zM327 263h16v1h-16zm17 0h1v1h-1zm2 0h4v1h-4zm45 0h1v1h-1zm3 0h28v1h-28zM326 264h2v1h-2zm3 0h3v1h-3zm4 0h2v1h-2zm3 0h5v1h-5zm6 0h2v1h-2zm3 0h7v1h-7zm43 0h1v1h-1zm3 0h4v1h-4zm5 0h10v1h-10zm11 0h18v1h-18zM326 265h1v1h-1zm5 0h4v1h-4zm6 0h4v1h-4zm5 0h1v1h-1zm2 0h9v1h-9zm33 0h2v1h-2zm10 0h2v1h-2zm3 0h5v1h-5zm6 0h28v1h-28zM328 266h1v1h-1zm2 0h5v1h-5zm6 0h5v1h-5zm8 0h5v1h-5zm6 0h1v1h-1zm2 0h2v1h-2zm25 0h2v1h-2zm14 0h2v1h-2zm3 0h28v1h-28zm29 0h2v1h-2zM324 267h2v1h-2zm7 0h10v1h-10zm13 0h6v1h-6zm8 0h2v1h-2zm28 0h1v1h-1zm8 0h2v1h-2zm3 0h2v1h-2zm3 0h30v1h-30zM324 268h2v1h-2zm6 0h1v1h-1zm4 0h1v1h-1zm2 0h7v1h-7zm8 0h2v1h-2zm3 0h3v1h-3zm5 0h2v1h-2zm28 0h1v1h-1zm8 0h2v1h-2zm4 0h33v1h-33zM325 269h1v1h-1zm4 0h2v1h-2zm4 0h10v1h-10zm12 0h1v1h-1zm4 0h2v1h-2zm3 0h2v1h-2zm35 0h1v1h-1zm5 0h1v1h-1zm2 0h31v1h-31zM324 270h2v1h-2zm4 0h3v1h-3zm5 0h5v1h-5zm6 0h1v1h-1zm3 0h9v1h-9zm38 0h2v1h-2zm11 0h32v1h-32zM328 271h5v1h-5zm6 0h3v1h-3zm4 0h7v1h-7zm9 0h5v1h-5zm25 0h2v1h-2zm16 0h1v1h-1zm4 0h34v1h-34zM327 272h2v1h-2zm8 0h8v1h-8zm10 0h2v1h-2zm43 0h1v1h-1zm4 0h9v1h-9zm10 0h24v1h-24zM327 273h2v1h-2zm3 0h1v1h-1zm2 0h1v1h-1zm2 0h7v1h-7zm9 0h1v1h-1zm4 0h2v1h-2zm10 0h2v1h-2zm21 0h2v1h-2zm6 0h2v1h-2zm4 0h1v1h-1zm3 0h34v1h-34zM324 274h2v1h-2zm7 0h2v1h-2zm3 0h2v1h-2zm3 0h1v1h-1zm4 0h3v1h-3zm4 0h2v1h-2zm5 0h2v1h-2zm5 0h2v1h-2zm20 0h1v1h-1zm3 0h2v1h-2zm6 0h2v1h-2zm7 0h33v1h-33zM324 275h2v1h-2zm4 0h1v1h-1zm2 0h3v1h-3zm7 0h3v1h-3zm4 0h3v1h-3zm4 0h3v1h-3zm5 0h2v1h-2zm5 0h2v1h-2zm23 0h1v1h-1zm12 0h33v1h-33zm34 0h3v1h-3zM328 276h1v1h-1zm2 0h1v1h-1zm2 0h1v1h-1zm7 0h2v1h-2zm3 0h2v1h-2zm3 0h4v1h-4zm34 0h2v1h-2zm3 0h3v1h-3zm5 0h2v1h-2zm3 0h35v1h-35zm36 0h1v1h-1zM323 277h1v1h-1zm6 0h1v1h-1zm3 0h1v1h-1zm2 0h2v1h-2zm4 0h3v1h-3zm7 0h1v1h-1zm2 0h2v1h-2zm31 0h1v1h-1zm2 0h3v1h-3zm5 0h2v1h-2zm4 0h5v1h-5zm6 0h31v1h-31zM323 278h1v1h-1zm11 0h9v1h-9zm11 0h1v1h-1zm33 0h1v1h-1zm6 0h1v1h-1zm4 0h38v1h-38zM329 279h2v1h-2zm6 0h8v1h-8zm37 0h2v1h-2zm11 0h3v1h-3zm5 0h4v1h-4zm5 0h32v1h-32zM329 280h2v1h-2zm8 0h2v1h-2zm22 0h1v1h-1zm13 0h2v1h-2zm8 0h1v1h-1zm2 0h2v1h-2zm7 0h33v1h-33zm34 0h3v1h-3zM328 281h2v1h-2zm15 0h1v1h-1zm33 0h2v1h-2zm7 0h1v1h-1zm2 0h2v1h-2zm3 0h34v1h-34zm35 0h3v1h-3zM318 282h2v1h-2zm10 0h2v1h-2zm48 0h6v1h-6zm7 0h4v1h-4zm5 0h32v1h-32zm33 0h4v1h-4zM318 283h2v1h-2zm8 0h1v1h-1zm52 0h5v1h-5zm8 0h1v1h-1zm2 0h16v1h-16zm17 0h18v1h-18zm19 0h3v1h-3zM326 284h1v1h-1zm28 0h1v1h-1zm26 0h1v1h-1zm2 0h1v1h-1zm5 0h38v1h-38zm40 0h1v1h-1zM332 285h1v1h-1zm22 0h1v1h-1zm16 0h2v1h-2zm5 0h3v1h-3zm4 0h1v1h-1zm2 0h2v1h-2zm3 0h42v1h-42zm43 0h1v1h-1zM329 286h2v1h-2zm8 0h2v1h-2zm33 0h2v1h-2zm4 0h4v1h-4zm5 0h1v1h-1zm6 0h6v1h-6zm7 0h34v1h-34zM337 287h2v1h-2zm4 0h1v1h-1zm29 0h1v1h-1zm4 0h1v1h-1zm2 0h2v1h-2zm6 0h40v1h-40zm41 0h2v1h-2zM336 288h1v1h-1zm40 0h2v1h-2zm6 0h29v1h-29zm30 0h10v1h-10zM371 289h1v1h-1zm3 0h2v1h-2zm3 0h2v1h-2zm5 0h42v1h-42zM326 290h2v1h-2zm11 0h2v1h-2zm19 0h1v1h-1zm15 0h2v1h-2zm6 0h2v1h-2zm4 0h1v1h-1zm2 0h41v1h-41zm42 0h1v1h-1zM324 291h2v1h-2zm7 0h1v1h-1zm11 0h2v1h-2zm25 0h2v1h-2zm5 0h1v1h-1zm3 0h4v1h-4zm6 0h1v1h-1zm3 0h42v1h-42zM324 292h2v1h-2zm18 0h5v1h-5zm14 0h2v1h-2zm11 0h2v1h-2zm4 0h1v1h-1zm6 0h1v1h-1zm3 0h22v1h-22zm23 0h21v1h-21zM344 293h1v1h-1zm27 0h1v1h-1zm3 0h3v1h-3zm6 0h46v1h-46zM366 294h1v1h-1zm12 0h1v1h-1zm2 0h46v1h-46zM334 295h2v1h-2zm34 0h1v1h-1zm4 0h1v1h-1zm2 0h1v1h-1zm4 0h1v1h-1zm3 0h15v1h-15zm16 0h29v1h-29zM334 296h2v1h-2zm29 0h2v1h-2zm4 0h2v1h-2zm5 0h1v1h-1zm2 0h2v1h-2zm4 0h1v1h-1zm3 0h45v1h-45zM321 297h2v1h-2zm45 0h3v1h-3zm9 0h1v1h-1zm3 0h2v1h-2zm3 0h45v1h-45zM335 298h2v1h-2zm31 0h3v1h-3zm12 0h33v1h-33zm34 0h13v1h-13zM369 299h1v1h-1zm9 0h51v1h-51zM324 300h1v1h-1zm39 0h1v1h-1zm2 0h1v1h-1zm4 0h1v1h-1zm6 0h54v1h-54zM324 301h1v1h-1zm38 0h2v1h-2zm3 0h1v1h-1zm12 0h48v1h-48zM365 302h1v1h-1zm3 0h1v1h-1zm5 0h1v1h-1zm4 0h47v1h-47zM341 303h2v1h-2zm28 0h3v1h-3zm4 0h2v1h-2zm3 0h9v1h-9zm10 0h40v1h-40zM318 304h1v1h-1zm36 0h1v1h-1zm14 0h58v1h-58zM339 305h1v1h-1zm11 0h2v1h-2zm11 0h10v1h-10zm11 0h52v1h-52zm53 0h1v1h-1zm2 0h2v1h-2zM319 306h2v1h-2zm42 0h6v1h-6zm8 0h1v1h-1zm3 0h56v1h-56zM315 307h2v1h-2zm4 0h2v1h-2zm28 0h2v1h-2zm15 0h2v1h-2zm3 0h1v1h-1zm2 0h3v1h-3zm6 0h50v1h-50zm51 0h3v1h-3zM315 308h2v1h-2zm4 0h1v1h-1zm28 0h2v1h-2zm3 0h2v1h-2zm12 0h2v1h-2zm3 0h1v1h-1zm2 0h2v1h-2zm7 0h50v1h-50zM319 309h1v1h-1zm26 0h2v1h-2zm18 0h4v1h-4zm9 0h38v1h-38zm39 0h3v1h-3zm4 0h14v1h-14zM363 310h4v1h-4zm6 0h2v1h-2zm3 0h41v1h-41zm42 0h12v1h-12zM363 311h1v1h-1zm6 0h56v1h-56zM365 312h1v1h-1zm5 0h1v1h-1zm2 0h53v1h-53zM345 313h1v1h-1zm20 0h3v1h-3zm7 0h52v1h-52zM317 314h1v1h-1zm4 0h1v1h-1zm4 0h2v1h-2zm8 0h2v1h-2zm12 0h1v1h-1zm18 0h2v1h-2zm3 0h2v1h-2zm6 0h20v1h-20zm21 0h29v1h-29zm32 0h3v1h-3zM325 315h2v1h-2zm8 0h2v1h-2zm33 0h2v1h-2zm3 0h59v1h-59zM345 316h1v1h-1zm14 0h3v1h-3zm5 0h5v1h-5zm7 0h56v1h-56zM337 317h2v1h-2zm8 0h1v1h-1zm19 0h3v1h-3zm5 0h1v1h-1zm3 0h55v1h-55zM360 318h1v1h-1zm2 0h1v1h-1zm3 0h2v1h-2zm3 0h1v1h-1zm2 0h57v1h-57zM341 319h2v1h-2zm21 0h1v1h-1zm6 0h1v1h-1zm4 0h54v1h-54zM353 320h2v1h-2zm8 0h2v1h-2zm7 0h41v1h-41zm42 0h10v1h-10zm11 0h3v1h-3zM321 321h1v1h-1zm18 0h1v1h-1zm9 0h1v1h-1zm14 0h2v1h-2zm5 0h1v1h-1zm2 0h27v1h-27zm28 0h27v1h-27zM321 322h1v1h-1zm18 0h1v1h-1zm11 0h2v1h-2zm12 0h1v1h-1zm7 0h56v1h-56zm58 0h1v1h-1zM350 323h2v1h-2zm14 0h2v1h-2zm5 0h56v1h-56zm58 0h2v1h-2zM321 324h1v1h-1zm43 0h2v1h-2zm3 0h4v1h-4zm5 0h5v1h-5zm6 0h47v1h-47zM321 325h1v1h-1zm29 0h1v1h-1zm13 0h2v1h-2zm5 0h53v1h-53zm54 0h2v1h-2zM332 326h2v1h-2zm18 0h1v1h-1zm2 0h2v1h-2zm11 0h2v1h-2zm5 0h55v1h-55zm57 0h1v1h-1zm2 0h2v1h-2zM332 327h2v1h-2zm37 0h55v1h-55zm56 0h1v1h-1zm2 0h2v1h-2zM321 328h1v1h-1zm19 0h2v1h-2zm29 0h35v1h-35zm36 0h20v1h-20zM321 329h1v1h-1zm19 0h2v1h-2zm26 0h6v1h-6zm7 0h52v1h-52zM366 330h58v1h-58zm59 0h1v1h-1zM325 331h1v1h-1zm35 0h2v1h-2zm4 0h59v1h-59zM364 332h2v1h-2zm3 0h58v1h-58zM365 333h1v1h-1zm2 0h58v1h-58zM333 334h2v1h-2zm23 0h4v1h-4zm5 0h1v1h-1zm4 0h5v1h-5zm6 0h42v1h-42zm43 0h10v1h-10zM321 335h1v1h-1zm40 0h1v1h-1zm3 0h8v1h-8zm9 0h50v1h-50zm51 0h2v1h-2zM333 336h1v1h-1zm30 0h3v1h-3zm5 0h55v1h-55zm56 0h1v1h-1zM333 337h1v1h-1zm30 0h2v1h-2zm3 0h58v1h-58zM360 338h2v1h-2zm6 0h43v1h-43zm44 0h12v1h-12zm13 0h2v1h-2zM355 339h1v1h-1zm9 0h1v1h-1zm2 0h43v1h-43zm44 0h15v1h-15zM320 340h1v1h-1zm2 0h1v1h-1zm4 0h1v1h-1zm9 0h2v1h-2zm32 0h57v1h-57zM322 341h1v1h-1zm4 0h1v1h-1zm9 0h2v1h-2zm9 0h2v1h-2zm10 0h2v1h-2zm13 0h1v1h-1zm2 0h8v1h-8zm9 0h44v1h-44zM315 342h2v1h-2zm29 0h2v1h-2zm10 0h2v1h-2zm12 0h57v1h-57zM315 343h2v1h-2zm50 0h22v1h-22zm23 0h23v1h-23zm25 0h10v1h-10zM335 344h1v1h-1zm26 0h3v1h-3zm4 0h1v1h-1zm2 0h56v1h-56zM357 345h2v1h-2zm4 0h3v1h-3zm4 0h1v1h-1zm4 0h54v1h-54zM326 346h1v1h-1zm36 0h4v1h-4zm5 0h56v1h-56zm57 0h2v1h-2zM363 347h3v1h-3zm4 0h3v1h-3zm4 0h11v1h-11zm12 0h40v1h-40zm41 0h2v1h-2zM363 348h2v1h-2zm3 0h57v1h-57zM351 349h2v1h-2zm12 0h2v1h-2zm5 0h15v1h-15zm16 0h36v1h-36zm38 0h1v1h-1zM361 350h3v1h-3zm5 0h1v1h-1zm3 0h36v1h-36zm37 0h11v1h-11zm12 0h3v1h-3zm5 0h4v1h-4zM350 351h1v1h-1zm10 0h2v1h-2zm6 0h1v1h-1zm3 0h58v1h-58zM350 352h1v1h-1zm21 0h54v1h-54zM363 353h2v1h-2zm6 0h54v1h-54zm55 0h1v1h-1zM370 354h53v1h-53zm55 0h2v1h-2zM330 355h2v1h-2zm16 0h1v1h-1zm15 0h1v1h-1zm9 0h2v1h-2zm3 0h48v1h-48zm49 0h3v1h-3zM330 356h5v1h-5zm16 0h1v1h-1zm17 0h1v1h-1zm5 0h5v1h-5zm6 0h35v1h-35zm36 0h16v1h-16zM326 357h1v1h-1zm6 0h3v1h-3zm31 0h1v1h-1zm6 0h4v1h-4zm5 0h20v1h-20zm22 0h13v1h-13zm14 0h10v1h-10zm11 0h1v1h-1zM326 358h1v1h-1zm43 0h3v1h-3zm5 0h3v1h-3zm6 0h1v1h-1zm3 0h10v1h-10zm16 0h2v1h-2zm4 0h6v1h-6zm7 0h4v1h-4zm5 0h3v1h-3zm6 0h1v1h-1z" fill="#000" shape-rendering="crispEdges"/>
<rect x="311.7" y="220.7" width="135.8" height="139.0" fill="none" stroke="#000" stroke-width="1.6"/>
<line x1="360.2" y1="220.7" x2="360.2" y2="359.7" stroke="#000" stroke-width="1.3"/>
<line x1="311.7" y1="296.8" x2="447.5" y2="296.8" stroke="#000" stroke-width="1.3"/>
<polygon points="374.3,241.0 423.5,241.0 429.5,334.8 417.9,357.3 359.6,359.0 358.1,295.0" fill="none" stroke="#000" stroke-width="1.1"/>
<path d="M312.7 359.7v8M311.7 358.7h-6.5M346.1 359.7v8M311.7 324.4h-6.5M379.6 359.7v8M311.7 290.2h-6.5M413.1 359.7v8M311.7 255.9h-6.5M446.5 359.7v8M311.7 221.7h-6.5M322.8 359.7v4M311.7 348.4h-3.5M328.7 359.7v4M311.7 342.4h-3.5M332.8 359.7v4M311.7 338.1h-3.5M336.1 359.7v4M311.7 334.8h-3.5M338.7 359.7v4M311.7 332.0h-3.5M341.0 359.7v4M311.7 329.8h-3.5M342.9 359.7v4M311.7 327.8h-3.5M344.6 359.7v4M311.7 326.0h-3.5M356.2 359.7v4M311.7 314.1h-3.5M362.1 359.7v4M311.7 308.1h-3.5M366.3 359.7v4M311.7 303.8h-3.5M369.5 359.7v4M311.7 300.5h-3.5M372.2 359.7v4M311.7 297.8h-3.5M374.4 359.7v4M311.7 295.5h-3.5M376.4 359.7v4M311.7 293.5h-3.5M378.1 359.7v4M311.7 291.8h-3.5M389.7 359.7v4M311.7 279.9h-3.5M395.6 359.7v4M311.7 273.9h-3.5M399.7 359.7v4M311.7 269.6h-3.5M403.0 359.7v4M311.7 266.3h-3.5M405.6 359.7v4M311.7 263.5h-3.5M407.9 359.7v4M311.7 261.3h-3.5M409.8 359.7v4M311.7 259.3h-3.5M411.5 359.7v4M311.7 257.5h-3.5M423.1 359.7v4M311.7 245.6h-3.5M429.0 359.7v4M311.7 239.6h-3.5M433.2 359.7v4M311.7 235.3h-3.5M436.4 359.7v4M311.7 232.0h-3.5M439.1 359.7v4M311.7 229.3h-3.5M441.3 359.7v4M311.7 227.0h-3.5M443.3 359.7v4M311.7 225.0h-3.5M445.0 359.7v4M311.7 223.3h-3.5" stroke="#000" stroke-width="1.6" fill="none"/>
<text transform="translate(301.3,370.3) rotate(-90)" font-size="13.3" font-family='"Liberation Sans", sans-serif' x="0" y="0">10<tspan dx="3.0" dy="-7">0</tspan></text>
<text transform="translate(301.3,336.1) rotate(-90)" font-size="13.3" font-family='"Liberation Sans", sans-serif' x="0" y="0">10<tspan dx="3.0" dy="-7">1</tspan></text>
<text transform="translate(301.3,301.8) rotate(-90)" font-size="13.3" font-family='"Liberation Sans", sans-serif' x="0" y="0">10<tspan dx="3.0" dy="-7">2</tspan></text>
<text transform="translate(301.3,267.6) rotate(-90)" font-size="13.3" font-family='"Liberation Sans", sans-serif' x="0" y="0">10<tspan dx="3.0" dy="-7">3</tspan></text>
<text transform="translate(301.3,233.3) rotate(-90)" font-size="13.3" font-family='"Liberation Sans", sans-serif' x="0" y="0">10</text>
<path d="M530 247h1v1h-1zm5 0h2v1h-2zm6 0h1v1h-1zm5 0h4v1h-4zM529 248h2v1h-2zm9 0h2v1h-2zm3 0h1v1h-1zm5 0h4v1h-4zm64 0h1v1h-1zm5 0h1v1h-1zm11 0h2v1h-2zM525 249h2v1h-2zm4 0h2v1h-2zm14 0h1v1h-1zm5 0h2v1h-2zm62 0h1v1h-1zm16 0h2v1h-2zM543 250h1v1h-1zm5 0h2v1h-2zm3 0h2v1h-2zm52 0h2v1h-2zM551 251h2v1h-2zm52 0h2v1h-2zm7 0h1v1h-1zm4 0h2v1h-2zm6 0h1v1h-1zM524 252h1v1h-1zm21 0h1v1h-1zm3 0h1v1h-1zm2 0h3v1h-3zm46 0h1v1h-1zm14 0h1v1h-1zm4 0h2v1h-2zm6 0h1v1h-1zM524 253h1v1h-1zm16 0h2v1h-2zm5 0h1v1h-1zm5 0h3v1h-3zm46 0h3v1h-3zm9 0h2v1h-2zm5 0h2v1h-2zm3 0h1v1h-1zm3 0h3v1h-3zm7 0h2v1h-2zM534 254h2v1h-2zm4 0h1v1h-1zm2 0h4v1h-4zm8 0h1v1h-1zm2 0h4v1h-4zm7 0h2v1h-2zm39 0h2v1h-2zm7 0h4v1h-4zm5 0h2v1h-2zm3 0h7v1h-7zm12 0h2v1h-2zM518 255h1v1h-1zm5 0h2v1h-2zm6 0h2v1h-2zm8 0h2v1h-2zm3 0h3v1h-3zm8 0h1v1h-1zm2 0h2v1h-2zm7 0h2v1h-2zm34 0h1v1h-1zm4 0h2v1h-2zm3 0h2v1h-2zm3 0h2v1h-2zm3 0h3v1h-3zm4 0h2v1h-2zm3 0h1v1h-1zm3 0h7v1h-7zm9 0h1v1h-1zM523 256h2v1h-2zm10 0h2v1h-2zm8 0h3v1h-3zm4 0h3v1h-3zm8 0h1v1h-1zm2 0h4v1h-4zm29 0h3v1h-3zm7 0h1v1h-1zm4 0h2v1h-2zm3 0h3v1h-3zm7 0h5v1h-5zm6 0h10v1h-10zm12 0h1v1h-1zM528 257h1v1h-1zm5 0h15v1h-15zm16 0h3v1h-3zm35 0h3v1h-3zm13 0h18v1h-18zm19 0h6v1h-6zm7 0h3v1h-3zM523 258h1v1h-1zm5 0h1v1h-1zm3 0h15v1h-15zm17 0h3v1h-3zm4 0h2v1h-2zm4 0h2v1h-2zm31 0h2v1h-2zm4 0h5v1h-5zm6 0h2v1h-2zm3 0h13v1h-13zm15 0h7v1h-7zm8 0h3v1h-3zM522 259h2v1h-2zm8 0h6v1h-6zm11 0h5v1h-5zm7 0h6v1h-6zm7 0h3v1h-3zm32 0h7v1h-7zm10 0h25v1h-25zm28 0h2v1h-2zM530 260h7v1h-7zm8 0h15v1h-15zm17 0h3v1h-3zm21 0h1v1h-1zm11 0h3v1h-3zm9 0h30v1h-30zM526 261h1v1h-1zm5 0h6v1h-6zm7 0h5v1h-5zm8 0h12v1h-12zm32 0h1v1h-1zm4 0h2v1h-2zm4 0h2v1h-2zm10 0h29v1h-29zm30 0h2v1h-2zM530 262h17v1h-17zm18 0h10v1h-10zm26 0h3v1h-3zm4 0h1v1h-1zm4 0h2v1h-2zm3 0h1v1h-1zm6 0h2v1h-2zm5 0h31v1h-31zM528 263h3v1h-3zm6 0h21v1h-21zm22 0h2v1h-2zm18 0h3v1h-3zm10 0h2v1h-2zm3 0h3v1h-3zm4 0h2v1h-2zm4 0h10v1h-10zm11 0h21v1h-21zM522 264h2v1h-2zm5 0h8v1h-8zm10 0h11v1h-11zm13 0h5v1h-5zm8 0h2v1h-2zm14 0h1v1h-1zm3 0h2v1h-2zm13 0h1v1h-1zm7 0h32v1h-32zM520 265h1v1h-1zm2 0h2v1h-2zm5 0h13v1h-13zm14 0h6v1h-6zm9 0h1v1h-1zm3 0h2v1h-2zm18 0h2v1h-2zm5 0h1v1h-1zm3 0h2v1h-2zm4 0h2v1h-2zm9 0h2v1h-2zm3 0h1v1h-1zm2 0h29v1h-29zm30 0h1v1h-1zM520 266h1v1h-1zm7 0h1v1h-1zm5 0h24v1h-24zm25 0h3v1h-3zm13 0h3v1h-3zm5 0h1v1h-1zm2 0h1v1h-1zm6 0h2v1h-2zm3 0h2v1h-2zm6 0h1v1h-1zm3 0h2v1h-2zm3 0h28v1h-28zM527 267h3v1h-3zm5 0h12v1h-12zm13 0h1v1h-1zm3 0h8v1h-8zm9 0h1v1h-1zm9 0h2v1h-2zm5 0h2v1h-2zm6 0h1v1h-1zm3 0h2v1h-2zm6 0h2v1h-2zm3 0h2v1h-2zm3 0h1v1h-1zm2 0h33v1h-33zM527 268h4v1h-4zm6 0h4v1h-4zm5 0h6v1h-6zm10 0h7v1h-7zm10 0h1v1h-1zm5 0h2v1h-2zm5 0h1v1h-1zm5 0h1v1h-1zm11 0h3v1h-3zm5 0h2v1h-2zm5 0h32v1h-32zm33 0h2v1h-2zM526 269h2v1h-2zm3 0h1v1h-1zm3 0h11v1h-11zm12 0h9v1h-9zm13 0h2v1h-2zm14 0h2v1h-2zm8 0h4v1h-4zm6 0h1v1h-1zm9 0h36v1h-36zM525 270h3v1h-3zm4 0h2v1h-2zm3 0h7v1h-7zm8 0h11v1h-11zm14 0h3v1h-3zm4 0h2v1h-2zm3 0h2v1h-2zm18 0h4v1h-4zm13 0h35v1h-35zm37 0h1v1h-1zM525 271h1v1h-1zm2 0h1v1h-1zm2 0h5v1h-5zm6 0h6v1h-6zm7 0h1v1h-1zm2 0h7v1h-7zm9 0h3v1h-3zm18 0h3v1h-3zm8 0h2v1h-2zm3 0h2v1h-2zm9 0h1v1h-1zm3 0h28v1h-28zm29 0h3v1h-3zm4 0h1v1h-1zM523 272h2v1h-2zm3 0h4v1h-4zm5 0h7v1h-7zm8 0h2v1h-2zm3 0h9v1h-9zm13 0h1v1h-1zm16 0h3v1h-3zm20 0h1v1h-1zm2 0h4v1h-4zm5 0h28v1h-28zM526 273h6v1h-6zm8 0h10v1h-10zm11 0h4v1h-4zm5 0h1v1h-1zm3 0h3v1h-3zm6 0h2v1h-2zm3 0h4v1h-4zm10 0h1v1h-1zm5 0h2v1h-2zm3 0h1v1h-1zm4 0h1v1h-1zm9 0h26v1h-26zm27 0h6v1h-6zm8 0h2v1h-2zM520 274h5v1h-5zm7 0h2v1h-2zm5 0h18v1h-18zm30 0h4v1h-4zm5 0h2v1h-2zm5 0h1v1h-1zm2 0h1v1h-1zm4 0h1v1h-1zm2 0h1v1h-1zm3 0h1v1h-1zm3 0h2v1h-2zm5 0h1v1h-1zm2 0h26v1h-26zm27 0h6v1h-6zm7 0h2v1h-2zM520 275h3v1h-3zm8 0h1v1h-1zm4 0h5v1h-5zm6 0h14v1h-14zm19 0h1v1h-1zm6 0h3v1h-3zm5 0h4v1h-4zm6 0h2v1h-2zm5 0h1v1h-1zm5 0h3v1h-3zm5 0h3v1h-3zm4 0h33v1h-33zm34 0h2v1h-2zm5 0h1v1h-1zM523 276h1v1h-1zm6 0h5v1h-5zm6 0h2v1h-2zm4 0h13v1h-13zm14 0h3v1h-3zm4 0h1v1h-1zm6 0h2v1h-2zm5 0h1v1h-1zm11 0h4v1h-4zm7 0h1v1h-1zm3 0h37v1h-37zM527 277h7v1h-7zm8 0h2v1h-2zm5 0h4v1h-4zm5 0h3v1h-3zm5 0h1v1h-1zm3 0h3v1h-3zm22 0h1v1h-1zm2 0h4v1h-4zm5 0h2v1h-2zm5 0h1v1h-1zm5 0h1v1h-1zm2 0h32v1h-32zM519 278h2v1h-2zm6 0h1v1h-1zm2 0h1v1h-1zm2 0h5v1h-5zm7 0h3v1h-3zm5 0h1v1h-1zm2 0h5v1h-5zm6 0h1v1h-1zm12 0h2v1h-2zm10 0h2v1h-2zm5 0h5v1h-5zm15 0h35v1h-35zm37 0h1v1h-1zm2 0h2v1h-2zM527 279h1v1h-1zm2 0h4v1h-4zm11 0h1v1h-1zm7 0h5v1h-5zm13 0h3v1h-3zm11 0h8v1h-8zm19 0h36v1h-36zM530 280h3v1h-3zm12 0h1v1h-1zm3 0h3v1h-3zm5 0h2v1h-2zm10 0h3v1h-3zm11 0h1v1h-1zm2 0h3v1h-3zm5 0h1v1h-1zm13 0h19v1h-19zm20 0h14v1h-14zm15 0h2v1h-2zM529 281h2v1h-2zm4 0h1v1h-1zm8 0h1v1h-1zm5 0h2v1h-2zm8 0h2v1h-2zm7 0h2v1h-2zm4 0h1v1h-1zm6 0h1v1h-1zm6 0h1v1h-1zm9 0h1v1h-1zm2 0h2v1h-2zm3 0h19v1h-19zm20 0h14v1h-14zm20 0h1v1h-1zM529 282h2v1h-2zm4 0h1v1h-1zm2 0h1v1h-1zm4 0h4v1h-4zm7 0h2v1h-2zm15 0h2v1h-2zm4 0h1v1h-1zm5 0h4v1h-4zm10 0h1v1h-1zm2 0h4v1h-4zm5 0h39v1h-39zm44 0h1v1h-1zM521 283h2v1h-2zm14 0h1v1h-1zm2 0h2v1h-2zm7 0h4v1h-4zm15 0h3v1h-3zm12 0h3v1h-3zm9 0h1v1h-1zm4 0h3v1h-3zm5 0h23v1h-23zm24 0h6v1h-6zm7 0h6v1h-6zm7 0h2v1h-2zM537 284h2v1h-2zm4 0h1v1h-1zm3 0h3v1h-3zm8 0h1v1h-1zm7 0h4v1h-4zm6 0h1v1h-1zm7 0h1v1h-1zm12 0h3v1h-3zm4 0h38v1h-38zm39 0h2v1h-2zM533 285h2v1h-2zm5 0h1v1h-1zm19 0h1v1h-1zm4 0h2v1h-2zm14 0h1v1h-1zm5 0h2v1h-2zm4 0h8v1h-8zm9 0h33v1h-33zm36 0h1v1h-1zM533 286h2v1h-2zm6 0h2v1h-2zm26 0h1v1h-1zm15 0h3v1h-3zm5 0h41v1h-41zm43 0h2v1h-2zM526 287h1v1h-1zm13 0h2v1h-2zm19 0h1v1h-1zm5 0h2v1h-2zm3 0h2v1h-2zm9 0h4v1h-4zm6 0h19v1h-19zm20 0h29v1h-29zM526 288h1v1h-1zm14 0h2v1h-2zm3 0h2v1h-2zm7 0h4v1h-4zm13 0h5v1h-5zm7 0h3v1h-3zm5 0h4v1h-4zm6 0h30v1h-30zm31 0h15v1h-15zM524 289h1v1h-1zm15 0h1v1h-1zm4 0h2v1h-2zm7 0h4v1h-4zm14 0h2v1h-2zm6 0h3v1h-3zm6 0h1v1h-1zm2 0h48v1h-48zM540 290h2v1h-2zm29 0h2v1h-2zm3 0h1v1h-1zm4 0h51v1h-51zm53 0h1v1h-1zM520 291h3v1h-3zm49 0h54v1h-54zm55 0h3v1h-3zm5 0h1v1h-1zM520 292h2v1h-2zm38 0h2v1h-2zm6 0h2v1h-2zm3 0h1v1h-1zm2 0h5v1h-5zm6 0h4v1h-4zm5 0h44v1h-44zm47 0h1v1h-1zm3 0h2v1h-2zM537 293h1v1h-1zm26 0h2v1h-2zm6 0h3v1h-3zm5 0h49v1h-49zm50 0h2v1h-2zm3 0h2v1h-2zM532 294h1v1h-1zm16 0h1v1h-1zm11 0h2v1h-2zm3 0h3v1h-3zm4 0h60v1h-60zm62 0h2v1h-2zM532 295h1v1h-1zm16 0h1v1h-1zm11 0h2v1h-2zm3 0h64v1h-64zm67 0h1v1h-1zM527 296h1v1h-1zm15 0h1v1h-1zm17 0h2v1h-2zm4 0h63v1h-63zm66 0h1v1h-1zM527 297h1v1h-1zm35 0h63v1h-63zm65 0h3v1h-3zM542 298h2v1h-2zm19 0h37v1h-37zm38 0h27v1h-27zM525 299h2v1h-2zm36 0h48v1h-48zm49 0h16v1h-16zm18 0h2v1h-2zM525 300h2v1h-2zm7 0h1v1h-1zm27 0h37v1h-37zm38 0h28v1h-28zm29 0h4v1h-4zM532 301h2v1h-2zm27 0h71v1h-71zM527 302h2v1h-2zm30 0h46v1h-46zm48 0h22v1h-22zM557 303h69v1h-69zM517 304h1v1h-1zm41 0h60v1h-60zm61 0h6v1h-6zM517 305h1v1h-1zm3 0h1v1h-1zm36 0h33v1h-33zm34 0h33v1h-33zm39 0h2v1h-2zM556 306h4v1h-4zm5 0h49v1h-49zm50 0h14v1h-14zm17 0h1v1h-1zM512 307h1v1h-1zm45 0h63v1h-63zm64 0h4v1h-4zm6 0h2v1h-2zM526 308h2v1h-2zm11 0h1v1h-1zm18 0h1v1h-1zm3 0h56v1h-56zm57 0h5v1h-5zm6 0h4v1h-4zm6 0h1v1h-1zM522 309h2v1h-2zm4 0h2v1h-2zm11 0h1v1h-1zm18 0h3v1h-3zm4 0h61v1h-61zm62 0h4v1h-4zm6 0h3v1h-3zM516 310h2v1h-2zm6 0h2v1h-2zm4 0h2v1h-2zm10 0h2v1h-2zm21 0h2v1h-2zm3 0h64v1h-64zm65 0h4v1h-4zM512 311h1v1h-1zm45 0h68v1h-68zm70 0h2v1h-2zM533 312h2v1h-2zm5 0h1v1h-1zm19 0h37v1h-37zm38 0h30v1h-30zm32 0h2v1h-2zM525 313h1v1h-1zm8 0h2v1h-2zm5 0h1v1h-1zm18 0h1v1h-1zm3 0h43v1h-43zm44 0h19v1h-19zm25 0h1v1h-1zM519 314h1v1h-1zm40 0h63v1h-63zm64 0h1v1h-1zm6 0h2v1h-2zM518 315h2v1h-2zm28 0h1v1h-1zm6 0h1v1h-1zm4 0h66v1h-66zm71 0h2v1h-2zM518 316h2v1h-2zm34 0h1v1h-1zm4 0h2v1h-2zm3 0h64v1h-64zm65 0h1v1h-1zm3 0h2v1h-2zM556 317h2v1h-2zm3 0h45v1h-45zm46 0h20v1h-20zm24 0h2v1h-2zM527 318h2v1h-2zm14 0h1v1h-1zm5 0h2v1h-2zm8 0h2v1h-2zm5 0h62v1h-62zm64 0h1v1h-1zm4 0h4v1h-4zM527 319h2v1h-2zm14 0h1v1h-1zm5 0h2v1h-2zm8 0h2v1h-2zm4 0h64v1h-64zm65 0h1v1h-1zm5 0h2v1h-2zM558 320h38v1h-38zm39 0h26v1h-26zm27 0h3v1h-3zm4 0h2v1h-2zM560 321h63v1h-63zm64 0h3v1h-3zm4 0h2v1h-2zM556 322h5v1h-5zm6 0h61v1h-61zm62 0h2v1h-2zm3 0h2v1h-2zM557 323h2v1h-2zm5 0h61v1h-61zm62 0h2v1h-2zm3 0h2v1h-2zM534 324h2v1h-2zm26 0h2v1h-2zm3 0h1v1h-1zm2 0h19v1h-19zm20 0h27v1h-27zm28 0h10v1h-10zm12 0h2v1h-2zm4 0h2v1h-2zM525 325h2v1h-2zm9 0h2v1h-2zm7 0h2v1h-2zm11 0h2v1h-2zm7 0h35v1h-35zm36 0h28v1h-28zM525 326h2v1h-2zm16 0h2v1h-2zm12 0h1v1h-1zm3 0h1v1h-1zm3 0h3v1h-3zm4 0h1v1h-1zm2 0h58v1h-58zM532 327h2v1h-2zm11 0h1v1h-1zm13 0h2v1h-2zm3 0h1v1h-1zm5 0h58v1h-58zM532 328h2v1h-2zm11 0h1v1h-1zm18 0h2v1h-2zm3 0h44v1h-44zm45 0h1v1h-1zm2 0h15v1h-15zm17 0h2v1h-2zM537 329h1v1h-1zm6 0h1v1h-1zm18 0h63v1h-63zM521 330h2v1h-2zm40 0h4v1h-4zm5 0h35v1h-35zm36 0h16v1h-16zm17 0h4v1h-4zM521 331h2v1h-2zm13 0h2v1h-2zm27 0h4v1h-4zm6 0h56v1h-56zm61 0h2v1h-2zM533 332h2v1h-2zm27 0h6v1h-6zm7 0h54v1h-54zm59 0h3v1h-3zM533 333h2v1h-2zm27 0h7v1h-7zm8 0h52v1h-52zm53 0h1v1h-1zm2 0h1v1h-1zm3 0h1v1h-1zM527 334h1v1h-1zm32 0h64v1h-64zm67 0h4v1h-4zM514 335h2v1h-2zm25 0h2v1h-2zm20 0h2v1h-2zm5 0h2v1h-2zm5 0h2v1h-2zm5 0h49v1h-49zm50 0h1v1h-1zm3 0h1v1h-1zM535 336h2v1h-2zm4 0h2v1h-2zm25 0h10v1h-10zm11 0h46v1h-46zm47 0h3v1h-3zM521 337h1v1h-1zm35 0h4v1h-4zm6 0h5v1h-5zm6 0h2v1h-2zm4 0h51v1h-51zm57 0h1v1h-1zM557 338h2v1h-2zm5 0h5v1h-5zm6 0h2v1h-2zm3 0h3v1h-3zm6 0h47v1h-47zm49 0h2v1h-2zm3 0h1v1h-1zM559 339h1v1h-1zm2 0h4v1h-4zm5 0h1v1h-1zm2 0h6v1h-6zm8 0h3v1h-3zm4 0h42v1h-42zm43 0h1v1h-1zm5 0h3v1h-3zM559 340h2v1h-2zm5 0h3v1h-3zm4 0h6v1h-6zm8 0h3v1h-3zm4 0h3v1h-3zm4 0h36v1h-36zm37 0h3v1h-3zm8 0h2v1h-2zM531 341h1v1h-1zm13 0h2v1h-2zm14 0h6v1h-6zm7 0h2v1h-2zm3 0h6v1h-6zm8 0h2v1h-2zm3 0h6v1h-6zm7 0h30v1h-30zm31 0h2v1h-2zm4 0h1v1h-1zm2 0h2v1h-2zM531 342h1v1h-1zm27 0h1v1h-1zm5 0h1v1h-1zm2 0h1v1h-1zm2 0h16v1h-16zm18 0h12v1h-12zm13 0h14v1h-14zm15 0h3v1h-3zm5 0h2v1h-2zm3 0h2v1h-2zm6 0h2v1h-2zM558 343h5v1h-5zm6 0h2v1h-2zm3 0h16v1h-16zm17 0h24v1h-24zm25 0h9v1h-9zm11 0h5v1h-5zm7 0h2v1h-2zM561 344h2v1h-2zm3 0h2v1h-2zm3 0h1v1h-1zm2 0h3v1h-3zm4 0h9v1h-9zm11 0h3v1h-3zm6 0h5v1h-5zm7 0h29v1h-29zM559 345h3v1h-3zm5 0h4v1h-4zm5 0h18v1h-18zm20 0h1v1h-1zm3 0h5v1h-5zm7 0h1v1h-1zm2 0h5v1h-5zm6 0h3v1h-3zm4 0h13v1h-13zm14 0h2v1h-2zM558 346h2v1h-2zm4 0h2v1h-2zm5 0h4v1h-4zm7 0h9v1h-9zm10 0h4v1h-4zm6 0h15v1h-15zm16 0h17v1h-17zm18 0h3v1h-3zM527 347h2v1h-2zm25 0h1v1h-1zm6 0h2v1h-2zm3 0h4v1h-4zm5 0h6v1h-6zm9 0h10v1h-10zm11 0h13v1h-13zm14 0h8v1h-8zm9 0h7v1h-7zm8 0h6v1h-6zm7 0h1v1h-1zM527 348h2v1h-2zm35 0h10v1h-10zm11 0h4v1h-4zm6 0h7v1h-7zm12 0h3v1h-3zm5 0h15v1h-15zm17 0h3v1h-3zm4 0h7v1h-7zM516 349h1v1h-1zm43 0h13v1h-13zm17 0h1v1h-1zm2 0h6v1h-6zm13 0h12v1h-12zm14 0h3v1h-3zm7 0h3v1h-3zm5 0h2v1h-2zm3 0h4v1h-4zM528 350h2v1h-2zm31 0h5v1h-5zm6 0h2v1h-2zm3 0h5v1h-5zm6 0h1v1h-1zm2 0h7v1h-7zm10 0h16v1h-16zm17 0h2v1h-2zm3 0h11v1h-11zm13 0h5v1h-5zM528 351h2v1h-2zm11 0h1v1h-1zm21 0h2v1h-2zm5 0h4v1h-4zm7 0h3v1h-3zm4 0h7v1h-7zm8 0h11v1h-11zm12 0h7v1h-7zm9 0h18v1h-18zM510 352h2v1h-2zm8 0h2v1h-2zm11 0h1v1h-1zm10 0h1v1h-1zm11 0h2v1h-2zm8 0h1v1h-1zm2 0h3v1h-3zm4 0h2v1h-2zm4 0h18v1h-18zm20 0h15v1h-15zm16 0h5v1h-5zm6 0h6v1h-6zm8 0h7v1h-7zm8 0h1v1h-1zM510 353h2v1h-2zm40 0h2v1h-2zm7 0h8v1h-8zm9 0h1v1h-1zm2 0h40v1h-40zm41 0h7v1h-7zm8 0h8v1h-8zM559 354h1v1h-1zm2 0h4v1h-4zm5 0h5v1h-5zm7 0h2v1h-2zm3 0h15v1h-15zm16 0h2v1h-2zm3 0h21v1h-21zm22 0h9v1h-9zM562 355h16v1h-16zm18 0h31v1h-31zm32 0h14v1h-14zM520 356h2v1h-2zm6 0h2v1h-2zm11 0h2v1h-2zm7 0h2v1h-2zm11 0h1v1h-1zm3 0h1v1h-1zm3 0h66v1h-66zm67 0h2v1h-2zM537 357h2v1h-2zm18 0h1v1h-1zm3 0h1v1h-1zm3 0h12v1h-12zm13 0h2v1h-2zm3 0h23v1h-23zm24 0h16v1h-16zm17 0h9v1h-9z" fill="#000" shape-rendering="crispEdges"/>
<rect x="509.3" y="223.5" width="142.4" height="135.3" fill="none" stroke="#000" stroke-width="1.6"/>
<line x1="559.8" y1="223.5" x2="559.8" y2="358.8" stroke="#000" stroke-width="1.3"/>
<line x1="509.3" y1="297.6" x2="651.7" y2="297.6" stroke="#000" stroke-width="1.3"/>
<polygon points="575.8,243.4 627.3,243.4 633.1,335.4 622.4,355.0 560.8,358.0 556.8,297.0" fill="none" stroke="#000" stroke-width="1.1"/>
<path d="M510.3 358.8v8M509.3 357.8h-6.5M545.4 358.8v8M509.3 324.5h-6.5M580.5 358.8v8M509.3 291.1h-6.5M615.6 358.8v8M509.3 257.8h-6.5M650.7 358.8v8M509.3 224.5h-6.5M520.9 358.8v4M509.3 347.8h-3.5M527.0 358.8v4M509.3 341.9h-3.5M531.4 358.8v4M509.3 337.7h-3.5M534.8 358.8v4M509.3 334.5h-3.5M537.6 358.8v4M509.3 331.9h-3.5M540.0 358.8v4M509.3 329.6h-3.5M542.0 358.8v4M509.3 327.7h-3.5M543.8 358.8v4M509.3 326.0h-3.5M556.0 358.8v4M509.3 314.4h-3.5M562.1 358.8v4M509.3 308.6h-3.5M566.5 358.8v4M509.3 304.4h-3.5M569.9 358.8v4M509.3 301.2h-3.5M572.7 358.8v4M509.3 298.5h-3.5M575.1 358.8v4M509.3 296.3h-3.5M577.1 358.8v4M509.3 294.4h-3.5M578.9 358.8v4M509.3 292.7h-3.5M591.1 358.8v4M509.3 281.1h-3.5M597.2 358.8v4M509.3 275.2h-3.5M601.6 358.8v4M509.3 271.1h-3.5M605.0 358.8v4M509.3 267.9h-3.5M607.8 358.8v4M509.3 265.2h-3.5M610.2 358.8v4M509.3 263.0h-3.5M612.2 358.8v4M509.3 261.1h-3.5M614.0 358.8v4M509.3 259.3h-3.5M626.2 358.8v4M509.3 247.8h-3.5M632.3 358.8v4M509.3 241.9h-3.5M636.7 358.8v4M509.3 237.8h-3.5M640.1 358.8v4M509.3 234.5h-3.5M642.9 358.8v4M509.3 231.9h-3.5M645.3 358.8v4M509.3 229.7h-3.5M647.3 358.8v4M509.3 227.7h-3.5M649.1 358.8v4M509.3 226.0h-3.5" stroke="#000" stroke-width="1.6" fill="none"/>
<text transform="translate(498.9,369.4) rotate(-90)" font-size="13.3" font-family='"Liberation Sans", sans-serif' x="0" y="0">10<tspan dx="3.0" dy="-7">0</tspan></text>
<text transform="translate(498.9,336.1) rotate(-90)" font-size="13.3" font-family='"Liberation Sans", sans-serif' x="0" y="0">10<tspan dx="3.0" dy="-7">1</tspan></text>
<text transform="translate(498.9,302.8) rotate(-90)" font-size="13.3" font-family='"Liberation Sans", sans-serif' x="0" y="0">10<tspan dx="3.0" dy="-7">2</tspan></text>
<text transform="translate(498.9,269.4) rotate(-90)" font-size="13.3" font-family='"Liberation Sans", sans-serif' x="0" y="0">10<tspan dx="3.0" dy="-7">3</tspan></text>
<text transform="translate(498.9,236.1) rotate(-90)" font-size="13.3" font-family='"Liberation Sans", sans-serif' x="0" y="0">10</text>
<path d="M155 417h1v1h-1zM149 418h2v1h-2zm3 0h1v1h-1zm3 0h1v1h-1zm6 0h2v1h-2zM149 419h7v1h-7zm9 0h6v1h-6zM137 420h2v1h-2zm6 0h1v1h-1zm3 0h1v1h-1zm3 0h15v1h-15zM137 421h2v1h-2zm5 0h2v1h-2zm4 0h1v1h-1zm3 0h4v1h-4zm7 0h9v1h-9zM135 422h2v1h-2zm3 0h1v1h-1zm5 0h2v1h-2zm3 0h2v1h-2zm4 0h3v1h-3zm4 0h13v1h-13zm50 0h1v1h-1zM121 423h2v1h-2zm11 0h1v1h-1zm3 0h2v1h-2zm3 0h1v1h-1zm5 0h23v1h-23zm24 0h1v1h-1zm13 0h1v1h-1zm24 0h1v1h-1zM126 424h2v1h-2zm6 0h1v1h-1zm12 0h6v1h-6zm7 0h16v1h-16zm24 0h1v1h-1zm5 0h1v1h-1zm4 0h2v1h-2zm30 0h1v1h-1zM126 425h2v1h-2zm3 0h2v1h-2zm4 0h4v1h-4zm5 0h28v1h-28zm37 0h1v1h-1zm9 0h3v1h-3zm14 0h2v1h-2zm7 0h2v1h-2zM123 426h1v1h-1zm8 0h37v1h-37zm39 0h3v1h-3zm14 0h3v1h-3zm11 0h2v1h-2zm3 0h2v1h-2zm3 0h2v1h-2zm3 0h3v1h-3zM131 427h2v1h-2zm3 0h31v1h-31zm35 0h6v1h-6zm20 0h2v1h-2zm6 0h2v1h-2zm12 0h1v1h-1zM131 428h1v1h-1zm3 0h33v1h-33zm38 0h3v1h-3zm11 0h3v1h-3zm15 0h1v1h-1zm2 0h1v1h-1zm7 0h1v1h-1zM120 429h1v1h-1zm10 0h2v1h-2zm4 0h34v1h-34zm39 0h3v1h-3zm4 0h2v1h-2zm4 0h4v1h-4zm9 0h1v1h-1zm2 0h2v1h-2zm3 0h4v1h-4zm5 0h2v1h-2zm19 0h1v1h-1zM123 430h1v1h-1zm10 0h37v1h-37zm40 0h2v1h-2zm6 0h1v1h-1zm2 0h5v1h-5zm6 0h2v1h-2zm3 0h7v1h-7zm10 0h4v1h-4zm7 0h1v1h-1zm12 0h1v1h-1zM129 431h1v1h-1zm2 0h17v1h-17zm18 0h3v1h-3zm4 0h9v1h-9zm10 0h11v1h-11zm16 0h4v1h-4zm5 0h2v1h-2zm3 0h2v1h-2zm10 0h2v1h-2zm3 0h1v1h-1zm2 0h2v1h-2zm5 0h1v1h-1zm10 0h1v1h-1zm3 0h2v1h-2zM129 432h42v1h-42zm45 0h3v1h-3zm5 0h5v1h-5zm10 0h3v1h-3zm4 0h3v1h-3zm4 0h1v1h-1zm10 0h1v1h-1zm2 0h2v1h-2zm6 0h2v1h-2zM130 433h37v1h-37zm39 0h2v1h-2zm3 0h3v1h-3zm5 0h1v1h-1zm6 0h5v1h-5zm7 0h2v1h-2zm4 0h3v1h-3zm5 0h1v1h-1zm2 0h2v1h-2zm5 0h1v1h-1zm3 0h2v1h-2zm3 0h2v1h-2zm3 0h4v1h-4zM127 434h2v1h-2zm4 0h10v1h-10zm11 0h26v1h-26zm28 0h1v1h-1zm2 0h2v1h-2zm4 0h4v1h-4zm5 0h7v1h-7zm10 0h2v1h-2zm4 0h2v1h-2zm4 0h1v1h-1zm2 0h4v1h-4zm5 0h2v1h-2zm4 0h2v1h-2zm7 0h2v1h-2zM127 435h2v1h-2zm4 0h37v1h-37zm42 0h4v1h-4zm5 0h2v1h-2zm4 0h2v1h-2zm3 0h1v1h-1zm9 0h1v1h-1zm2 0h4v1h-4zm6 0h3v1h-3zM130 436h16v1h-16zm17 0h23v1h-23zm27 0h1v1h-1zm4 0h3v1h-3zm6 0h3v1h-3zm5 0h1v1h-1zm5 0h1v1h-1zm2 0h1v1h-1zm2 0h2v1h-2zm6 0h1v1h-1zm9 0h2v1h-2zM126 437h43v1h-43zm45 0h2v1h-2zm3 0h1v1h-1zm4 0h3v1h-3zm4 0h1v1h-1zm6 0h2v1h-2zm7 0h4v1h-4zm6 0h2v1h-2zm3 0h1v1h-1zm3 0h1v1h-1zm2 0h2v1h-2zm3 0h3v1h-3zm6 0h1v1h-1zm4 0h2v1h-2zM126 438h4v1h-4zm5 0h25v1h-25zm26 0h8v1h-8zm9 0h2v1h-2zm4 0h3v1h-3zm9 0h5v1h-5zm8 0h3v1h-3zm4 0h2v1h-2zm5 0h3v1h-3zm5 0h2v1h-2zm5 0h1v1h-1zm6 0h5v1h-5zm6 0h1v1h-1zm4 0h2v1h-2zM123 439h1v1h-1zm4 0h2v1h-2zm3 0h26v1h-26zm27 0h8v1h-8zm9 0h1v1h-1zm3 0h7v1h-7zm9 0h4v1h-4zm10 0h2v1h-2zm8 0h2v1h-2zm6 0h1v1h-1zm8 0h1v1h-1zm9 0h4v1h-4zM127 440h42v1h-42zm43 0h2v1h-2zm3 0h3v1h-3zm4 0h6v1h-6zm8 0h1v1h-1zm2 0h3v1h-3zm6 0h1v1h-1zm4 0h1v1h-1zm3 0h2v1h-2zm5 0h2v1h-2zm3 0h1v1h-1zm2 0h1v1h-1zm11 0h2v1h-2zM125 441h1v1h-1zm2 0h15v1h-15zm16 0h22v1h-22zm23 0h6v1h-6zm7 0h1v1h-1zm2 0h4v1h-4zm5 0h4v1h-4zm7 0h1v1h-1zm4 0h3v1h-3zm4 0h3v1h-3zm4 0h4v1h-4zm13 0h2v1h-2zm4 0h1v1h-1zM125 442h37v1h-37zm38 0h2v1h-2zm3 0h2v1h-2zm4 0h1v1h-1zm3 0h2v1h-2zm10 0h7v1h-7zm12 0h3v1h-3zm4 0h4v1h-4zm13 0h2v1h-2zm4 0h3v1h-3zM125 443h40v1h-40zm49 0h2v1h-2zm6 0h1v1h-1zm3 0h3v1h-3zm4 0h5v1h-5zm9 0h1v1h-1zm5 0h2v1h-2zm11 0h3v1h-3zm4 0h3v1h-3zM125 444h23v1h-23zm24 0h14v1h-14zm19 0h1v1h-1zm2 0h3v1h-3zm14 0h1v1h-1zm4 0h2v1h-2zm3 0h2v1h-2zm10 0h2v1h-2zm11 0h2v1h-2zm4 0h2v1h-2zM122 445h42v1h-42zm46 0h1v1h-1zm2 0h9v1h-9zm12 0h2v1h-2zm4 0h4v1h-4zm10 0h1v1h-1zm3 0h3v1h-3zm7 0h2v1h-2zm10 0h1v1h-1zM123 446h3v1h-3zm5 0h12v1h-12zm13 0h19v1h-19zm23 0h1v1h-1zm3 0h2v1h-2zm4 0h4v1h-4zm6 0h2v1h-2zm5 0h2v1h-2zm4 0h4v1h-4zm5 0h1v1h-1zm2 0h4v1h-4zm6 0h3v1h-3zm7 0h2v1h-2zm5 0h1v1h-1zm3 0h6v1h-6zM123 447h36v1h-36zm38 0h3v1h-3zm4 0h2v1h-2zm5 0h2v1h-2zm5 0h3v1h-3zm6 0h2v1h-2zm3 0h6v1h-6zm7 0h2v1h-2zm3 0h3v1h-3zm4 0h2v1h-2zm4 0h2v1h-2zm4 0h2v1h-2zm5 0h2v1h-2zm3 0h2v1h-2zm4 0h4v1h-4zM122 448h39v1h-39zm43 0h3v1h-3zm5 0h3v1h-3zm6 0h1v1h-1zm2 0h2v1h-2zm6 0h1v1h-1zm4 0h2v1h-2zm4 0h1v1h-1zm6 0h3v1h-3zm4 0h3v1h-3zm4 0h1v1h-1zm5 0h2v1h-2zm3 0h1v1h-1zm4 0h2v1h-2zm3 0h1v1h-1zM124 449h39v1h-39zm50 0h1v1h-1zm7 0h2v1h-2zm3 0h2v1h-2zm8 0h1v1h-1zm2 0h2v1h-2zm3 0h1v1h-1zm2 0h2v1h-2zm3 0h1v1h-1zm2 0h1v1h-1zm8 0h2v1h-2zm4 0h2v1h-2zM121 450h37v1h-37zm38 0h1v1h-1zm2 0h2v1h-2zm5 0h2v1h-2zm3 0h2v1h-2zm4 0h2v1h-2zm4 0h2v1h-2zm4 0h10v1h-10zm11 0h1v1h-1zm2 0h4v1h-4zm16 0h1v1h-1zm2 0h1v1h-1zm4 0h1v1h-1zM120 451h3v1h-3zm4 0h34v1h-34zm40 0h2v1h-2zm5 0h2v1h-2zm5 0h2v1h-2zm3 0h2v1h-2zm3 0h2v1h-2zm4 0h4v1h-4zm5 0h3v1h-3zm4 0h5v1h-5zm14 0h1v1h-1zm3 0h1v1h-1zm7 0h1v1h-1zM120 452h2v1h-2zm3 0h36v1h-36zm44 0h4v1h-4zm9 0h2v1h-2zm7 0h3v1h-3zm5 0h5v1h-5zm8 0h2v1h-2zm8 0h1v1h-1zm4 0h5v1h-5zM123 453h36v1h-36zm49 0h2v1h-2zm4 0h1v1h-1zm5 0h2v1h-2zm10 0h2v1h-2zm4 0h1v1h-1zm5 0h5v1h-5zm8 0h2v1h-2zm3 0h2v1h-2zM122 454h38v1h-38zm43 0h1v1h-1zm7 0h3v1h-3zm12 0h1v1h-1zm4 0h1v1h-1zm7 0h1v1h-1zm2 0h1v1h-1zm4 0h3v1h-3zm10 0h2v1h-2zm10 0h1v1h-1zM121 455h1v1h-1zm2 0h33v1h-33zm42 0h1v1h-1zm4 0h1v1h-1zm8 0h1v1h-1zm14 0h2v1h-2zm4 0h1v1h-1zm4 0h4v1h-4zm5 0h2v1h-2zm4 0h2v1h-2zm4 0h2v1h-2zm6 0h4v1h-4zM121 456h35v1h-35zm48 0h1v1h-1zm6 0h1v1h-1zm2 0h1v1h-1zm12 0h2v1h-2zm8 0h1v1h-1zm4 0h1v1h-1zm3 0h2v1h-2zm4 0h1v1h-1zm3 0h1v1h-1zm5 0h2v1h-2zm4 0h2v1h-2zm5 0h1v1h-1zM120 457h35v1h-35zm38 0h1v1h-1zm7 0h3v1h-3zm6 0h1v1h-1zm4 0h1v1h-1zm9 0h2v1h-2zm4 0h2v1h-2zm3 0h2v1h-2zm6 0h2v1h-2zm8 0h1v1h-1zm3 0h2v1h-2zm3 0h1v1h-1zm9 0h2v1h-2zm5 0h1v1h-1zM122 458h32v1h-32zm36 0h1v1h-1zm10 0h2v1h-2zm5 0h2v1h-2zm9 0h1v1h-1zm6 0h2v1h-2zm3 0h2v1h-2zm8 0h3v1h-3zm6 0h1v1h-1zm3 0h5v1h-5zm8 0h2v1h-2zm9 0h1v1h-1zM123 459h31v1h-31zm45 0h3v1h-3zm4 0h3v1h-3zm8 0h1v1h-1zm2 0h4v1h-4zm7 0h2v1h-2zm11 0h1v1h-1zm3 0h1v1h-1zm7 0h3v1h-3zm6 0h2v1h-2zm8 0h2v1h-2zM123 460h27v1h-27zm29 0h2v1h-2zm3 0h2v1h-2zm13 0h3v1h-3zm4 0h1v1h-1zm12 0h2v1h-2zm4 0h2v1h-2zm3 0h2v1h-2zm9 0h1v1h-1zm3 0h1v1h-1zm12 0h1v1h-1zm9 0h2v1h-2zM124 461h28v1h-28zm36 0h1v1h-1zm8 0h2v1h-2zm3 0h2v1h-2zm6 0h1v1h-1zm14 0h2v1h-2zm11 0h1v1h-1zm2 0h2v1h-2zm5 0h4v1h-4zm6 0h2v1h-2zm3 0h2v1h-2zm5 0h1v1h-1zM124 462h28v1h-28zm36 0h1v1h-1zm9 0h5v1h-5zm11 0h2v1h-2zm4 0h1v1h-1zm4 0h1v1h-1zm7 0h2v1h-2zm9 0h2v1h-2zm7 0h2v1h-2zm4 0h1v1h-1zm3 0h2v1h-2zm5 0h1v1h-1zM125 463h24v1h-24zm34 0h1v1h-1zm12 0h3v1h-3zm5 0h2v1h-2zm4 0h2v1h-2zm18 0h2v1h-2zm5 0h2v1h-2zm9 0h2v1h-2zm3 0h1v1h-1zM124 464h23v1h-23zm34 0h2v1h-2zm28 0h2v1h-2zm6 0h2v1h-2zm6 0h2v1h-2zm5 0h2v1h-2zm6 0h2v1h-2zM124 465h2v1h-2zm3 0h12v1h-12zm13 0h9v1h-9zm18 0h2v1h-2zm26 0h1v1h-1zm7 0h3v1h-3zm4 0h2v1h-2zm9 0h1v1h-1zm2 0h2v1h-2zm3 0h4v1h-4zm8 0h1v1h-1zM123 466h2v1h-2zm3 0h24v1h-24zm65 0h7v1h-7zm11 0h6v1h-6zm7 0h2v1h-2zm3 0h2v1h-2zM121 467h2v1h-2zm7 0h19v1h-19zm63 0h7v1h-7zm11 0h2v1h-2zm4 0h1v1h-1zM121 468h2v1h-2zm3 0h1v1h-1zm5 0h14v1h-14zm15 0h2v1h-2zm3 0h1v1h-1zm26 0h2v1h-2zm14 0h1v1h-1zm4 0h1v1h-1zm4 0h1v1h-1zm13 0h3v1h-3zm16 0h2v1h-2zM121 469h1v1h-1zm3 0h1v1h-1zm2 0h1v1h-1zm3 0h2v1h-2zm3 0h11v1h-11zm15 0h1v1h-1zm40 0h1v1h-1zm5 0h2v1h-2zm3 0h1v1h-1zm9 0h2v1h-2zm18 0h1v1h-1zm2 0h1v1h-1zM121 470h1v1h-1zm5 0h1v1h-1zm6 0h8v1h-8zm27 0h1v1h-1zm17 0h1v1h-1zm16 0h2v1h-2zm30 0h1v1h-1zm2 0h1v1h-1zM130 471h1v1h-1zm3 0h2v1h-2zm3 0h2v1h-2zm7 0h2v1h-2zm16 0h1v1h-1zm33 0h2v1h-2zm8 0h2v1h-2zm22 0h1v1h-1zM143 472h2v1h-2zm3 0h1v1h-1zm46 0h2v1h-2zm20 0h2v1h-2zm13 0h2v1h-2zM139 473h1v1h-1zm7 0h1v1h-1zm59 0h1v1h-1zm20 0h2v1h-2zM122 474h1v1h-1zm5 0h2v1h-2zm19 0h1v1h-1zm24 0h1v1h-1zm9 0h2v1h-2zM139 475h2v1h-2zm31 0h1v1h-1zm10 0h1v1h-1zm24 0h1v1h-1zm12 0h2v1h-2zM136 476h1v1h-1zm19 0h1v1h-1zm20 0h2v1h-2zm4 0h2v1h-2zm19 0h1v1h-1zm6 0h1v1h-1zm4 0h2v1h-2zm8 0h1v1h-1zm9 0h2v1h-2zM143 477h2v1h-2zm12 0h1v1h-1zm14 0h1v1h-1zm6 0h2v1h-2zM138 478h2v1h-2zm5 0h2v1h-2zm36 0h1v1h-1zM138 479h2v1h-2zm87 0h1v1h-1zM121 480h1v1h-1zm52 0h2v1h-2zm28 0h1v1h-1zm7 0h2v1h-2zM128 481h2v1h-2zm8 0h1v1h-1zm36 0h2v1h-2zm34 0h2v1h-2zm12 0h1v1h-1zm5 0h2v1h-2zM126 482h2v1h-2zm3 0h1v1h-1zm7 0h1v1h-1zm47 0h1v1h-1zm17 0h1v1h-1zm6 0h2v1h-2zm17 0h2v1h-2zM126 483h1v1h-1zm4 0h2v1h-2zm53 0h1v1h-1zm19 0h1v1h-1zM127 484h2v1h-2zm3 0h2v1h-2zm9 0h1v1h-1zm3 0h1v1h-1zm24 0h2v1h-2zm20 0h2v1h-2zm16 0h1v1h-1zm5 0h1v1h-1zM139 485h1v1h-1zm25 0h4v1h-4zm18 0h2v1h-2zm5 0h2v1h-2zm5 0h2v1h-2zm3 0h1v1h-1zm2 0h1v1h-1zm10 0h1v1h-1zm16 0h1v1h-1zm2 0h1v1h-1zM164 486h3v1h-3zm13 0h1v1h-1zm7 0h1v1h-1zm3 0h2v1h-2zm3 0h5v1h-5zm6 0h1v1h-1zm4 0h2v1h-2zm3 0h1v1h-1zm6 0h1v1h-1zm2 0h1v1h-1zm12 0h1v1h-1zM130 487h1v1h-1zm26 0h2v1h-2zm10 0h1v1h-1zm6 0h2v1h-2zm5 0h2v1h-2zm4 0h1v1h-1zm3 0h1v1h-1zm2 0h3v1h-3zm6 0h3v1h-3zm4 0h1v1h-1zm3 0h3v1h-3zm4 0h1v1h-1zm4 0h3v1h-3zm4 0h1v1h-1zm4 0h1v1h-1zM131 488h2v1h-2zm29 0h2v1h-2zm8 0h2v1h-2zm4 0h1v1h-1zm5 0h5v1h-5zm7 0h5v1h-5zm7 0h7v1h-7zm13 0h1v1h-1zm11 0h1v1h-1zM137 489h2v1h-2zm26 0h1v1h-1zm5 0h2v1h-2zm4 0h2v1h-2zm3 0h7v1h-7zm8 0h3v1h-3zm5 0h1v1h-1zm3 0h9v1h-9zm11 0h2v1h-2zm8 0h2v1h-2zm12 0h1v1h-1zM153 490h1v1h-1zm10 0h1v1h-1zm3 0h2v1h-2zm7 0h1v1h-1zm3 0h2v1h-2zm3 0h3v1h-3zm6 0h4v1h-4zm5 0h5v1h-5zm10 0h1v1h-1zm3 0h2v1h-2zm7 0h2v1h-2zm8 0h1v1h-1zM137 491h1v1h-1zm23 0h1v1h-1zm3 0h1v1h-1zm3 0h8v1h-8zm11 0h12v1h-12zm13 0h2v1h-2zm4 0h2v1h-2zm5 0h2v1h-2zm5 0h1v1h-1zm3 0h2v1h-2zm3 0h2v1h-2zm4 0h1v1h-1zm4 0h1v1h-1zM152 492h2v1h-2zm6 0h4v1h-4zm6 0h11v1h-11zm12 0h4v1h-4zm6 0h3v1h-3zm4 0h3v1h-3zm4 0h1v1h-1zm3 0h3v1h-3zm5 0h3v1h-3zm5 0h6v1h-6zM124 493h2v1h-2zm27 0h3v1h-3zm11 0h14v1h-14zm19 0h6v1h-6zm7 0h1v1h-1zm2 0h1v1h-1zm8 0h3v1h-3zm5 0h7v1h-7zm10 0h1v1h-1zM124 494h2v1h-2zm23 0h1v1h-1zm4 0h2v1h-2zm5 0h1v1h-1zm2 0h1v1h-1zm2 0h5v1h-5zm7 0h1v1h-1zm2 0h1v1h-1zm4 0h2v1h-2zm3 0h4v1h-4zm5 0h8v1h-8zm9 0h2v1h-2zm3 0h2v1h-2zm3 0h10v1h-10zm13 0h3v1h-3zm4 0h1v1h-1zm3 0h1v1h-1zM147 495h1v1h-1zm4 0h3v1h-3zm4 0h1v1h-1zm3 0h6v1h-6zm8 0h9v1h-9zm12 0h5v1h-5zm6 0h4v1h-4zm6 0h16v1h-16zm20 0h2v1h-2zm6 0h1v1h-1zM125 496h1v1h-1zm26 0h10v1h-10zm11 0h1v1h-1zm2 0h9v1h-9zm11 0h8v1h-8zm9 0h4v1h-4zm5 0h11v1h-11zm12 0h3v1h-3zm4 0h4v1h-4zm5 0h2v1h-2zm7 0h6v1h-6zM131 497h2v1h-2zm21 0h7v1h-7zm9 0h1v1h-1zm2 0h9v1h-9zm10 0h2v1h-2zm3 0h15v1h-15zm16 0h2v1h-2zm3 0h9v1h-9zm10 0h7v1h-7zm9 0h1v1h-1zm3 0h6v1h-6zM129 498h1v1h-1zm20 0h1v1h-1zm4 0h3v1h-3zm4 0h2v1h-2zm3 0h12v1h-12zm13 0h18v1h-18zm19 0h20v1h-20zm23 0h4v1h-4zm5 0h1v1h-1zM120 499h1v1h-1zm4 0h1v1h-1zm5 0h1v1h-1zm15 0h2v1h-2zm5 0h2v1h-2zm5 0h4v1h-4zm5 0h13v1h-13zm15 0h16v1h-16zm17 0h21v1h-21zm24 0h4v1h-4zm5 0h2v1h-2zM120 500h1v1h-1zm4 0h1v1h-1zm20 0h2v1h-2zm6 0h4v1h-4zm6 0h5v1h-5zm7 0h4v1h-4zm5 0h5v1h-5zm6 0h15v1h-15zm16 0h20v1h-20zm23 0h1v1h-1zm2 0h4v1h-4zm5 0h3v1h-3zM121 501h2v1h-2zm12 0h1v1h-1zm15 0h1v1h-1zm4 0h3v1h-3zm7 0h2v1h-2zm3 0h9v1h-9zm10 0h5v1h-5zm6 0h4v1h-4zm5 0h23v1h-23zm24 0h4v1h-4zm5 0h9v1h-9zm12 0h1v1h-1zM121 502h2v1h-2zm12 0h1v1h-1zm13 0h3v1h-3zm5 0h5v1h-5zm6 0h7v1h-7zm8 0h1v1h-1zm2 0h3v1h-3zm5 0h9v1h-9zm11 0h2v1h-2zm4 0h12v1h-12zm13 0h5v1h-5zm7 0h12v1h-12zm13 0h1v1h-1zm4 0h2v1h-2zM146 503h4v1h-4zm6 0h4v1h-4zm6 0h1v1h-1zm2 0h6v1h-6zm7 0h14v1h-14zm18 0h1v1h-1zm2 0h1v1h-1zm2 0h3v1h-3zm4 0h12v1h-12zm13 0h1v1h-1zm3 0h10v1h-10zm11 0h6v1h-6zM148 504h2v1h-2zm3 0h2v1h-2zm3 0h2v1h-2zm4 0h2v1h-2zm4 0h7v1h-7zm8 0h14v1h-14zm15 0h2v1h-2zm3 0h29v1h-29zm30 0h2v1h-2zm3 0h1v1h-1zm2 0h1v1h-1zM140 505h2v1h-2zm8 0h1v1h-1zm3 0h2v1h-2zm3 0h2v1h-2zm7 0h9v1h-9zm10 0h1v1h-1zm2 0h12v1h-12zm13 0h1v1h-1zm4 0h3v1h-3zm5 0h22v1h-22zm23 0h1v1h-1zm4 0h1v1h-1zM135 506h1v1h-1zm2 0h2v1h-2zm4 0h1v1h-1zm5 0h3v1h-3zm5 0h1v1h-1zm3 0h4v1h-4zm5 0h39v1h-39zm40 0h20v1h-20zm21 0h3v1h-3zM120 507h1v1h-1zm15 0h1v1h-1zm2 0h2v1h-2zm13 0h2v1h-2zm4 0h3v1h-3zm8 0h23v1h-23zm24 0h13v1h-13zm15 0h4v1h-4zm5 0h12v1h-12zm14 0h5v1h-5zm6 0h2v1h-2zM120 508h1v1h-1zm27 0h2v1h-2zm6 0h6v1h-6zm7 0h2v1h-2zm3 0h10v1h-10zm11 0h13v1h-13zm16 0h11v1h-11zm12 0h3v1h-3zm4 0h9v1h-9zm10 0h2v1h-2zm4 0h2v1h-2zm3 0h2v1h-2zm3 0h2v1h-2zM146 509h9v1h-9zm10 0h3v1h-3zm4 0h8v1h-8zm9 0h19v1h-19zm20 0h14v1h-14zm15 0h11v1h-11zm12 0h3v1h-3zm7 0h5v1h-5zM120 510h1v1h-1zm28 0h5v1h-5zm7 0h3v1h-3zm5 0h6v1h-6zm7 0h43v1h-43zm45 0h1v1h-1zm2 0h2v1h-2zm9 0h2v1h-2zM120 511h1v1h-1zm6 0h1v1h-1zm28 0h4v1h-4zm5 0h16v1h-16zm19 0h1v1h-1zm2 0h9v1h-9zm10 0h6v1h-6zm7 0h10v1h-10zm11 0h5v1h-5zm6 0h2v1h-2zm3 0h2v1h-2zm3 0h5v1h-5zM123 512h1v1h-1zm3 0h1v1h-1zm25 0h1v1h-1zm3 0h2v1h-2zm4 0h10v1h-10zm11 0h2v1h-2zm3 0h2v1h-2zm3 0h1v1h-1zm3 0h4v1h-4zm5 0h5v1h-5zm6 0h18v1h-18zm20 0h6v1h-6zm7 0h7v1h-7zm9 0h2v1h-2zM123 513h1v1h-1zm24 0h2v1h-2zm4 0h2v1h-2zm4 0h13v1h-13zm14 0h2v1h-2zm4 0h2v1h-2zm4 0h6v1h-6zm7 0h2v1h-2zm3 0h7v1h-7zm8 0h7v1h-7zm8 0h5v1h-5zm8 0h4v1h-4zm7 0h5v1h-5zm6 0h1v1h-1zM149 514h3v1h-3zm4 0h22v1h-22zm23 0h4v1h-4zm5 0h2v1h-2zm4 0h9v1h-9zm10 0h3v1h-3zm4 0h4v1h-4zm5 0h3v1h-3zm4 0h7v1h-7zm8 0h1v1h-1zm2 0h8v1h-8zM149 515h4v1h-4zm8 0h9v1h-9zm10 0h16v1h-16zm17 0h18v1h-18zm19 0h10v1h-10zm11 0h9v1h-9zm10 0h1v1h-1zM142 516h1v1h-1zm9 0h2v1h-2zm3 0h1v1h-1zm3 0h16v1h-16zm18 0h7v1h-7zm8 0h15v1h-15zm16 0h21v1h-21zM142 517h1v1h-1zm10 0h2v1h-2zm5 0h2v1h-2zm3 0h10v1h-10zm11 0h3v1h-3zm5 0h21v1h-21zm23 0h3v1h-3zm4 0h8v1h-8zm10 0h2v1h-2zm5 0h4v1h-4zm5 0h1v1h-1zm3 0h1v1h-1zM153 518h2v1h-2zm3 0h19v1h-19zm20 0h23v1h-23zm25 0h15v1h-15zm16 0h8v1h-8zm9 0h2v1h-2zM145 519h2v1h-2zm5 0h2v1h-2zm4 0h1v1h-1zm2 0h1v1h-1zm2 0h1v1h-1zm2 0h1v1h-1zm4 0h6v1h-6zm7 0h9v1h-9zm10 0h38v1h-38zm40 0h4v1h-4zm5 0h2v1h-2zM145 520h2v1h-2zm5 0h2v1h-2zm4 0h1v1h-1zm3 0h1v1h-1zm2 0h4v1h-4zm5 0h15v1h-15zm18 0h27v1h-27zm29 0h6v1h-6zm9 0h4v1h-4zM149 521h1v1h-1zm3 0h1v1h-1zm2 0h1v1h-1zm3 0h6v1h-6zm7 0h15v1h-15zm16 0h18v1h-18zm19 0h3v1h-3zm4 0h7v1h-7zm8 0h15v1h-15zM149 522h6v1h-6zm7 0h3v1h-3zm4 0h16v1h-16zm18 0h7v1h-7zm8 0h16v1h-16zm17 0h11v1h-11zm13 0h3v1h-3zm4 0h6v1h-6zM128 523h1v1h-1zm24 0h1v1h-1zm5 0h6v1h-6zm7 0h7v1h-7zm8 0h4v1h-4zm5 0h4v1h-4zm5 0h7v1h-7zm8 0h8v1h-8zm9 0h11v1h-11zm13 0h2v1h-2zm5 0h2v1h-2zm3 0h5v1h-5zm6 0h1v1h-1zM128 524h2v1h-2zm23 0h2v1h-2zm4 0h1v1h-1zm3 0h1v1h-1zm2 0h3v1h-3zm4 0h10v1h-10zm14 0h3v1h-3zm5 0h28v1h-28zm30 0h1v1h-1zm4 0h10v1h-10zM149 525h3v1h-3zm7 0h1v1h-1zm3 0h15v1h-15zm16 0h6v1h-6zm7 0h7v1h-7zm8 0h6v1h-6zm7 0h12v1h-12zm13 0h7v1h-7zm9 0h1v1h-1zm2 0h5v1h-5zM156 526h1v1h-1zm3 0h15v1h-15zm16 0h5v1h-5zm7 0h3v1h-3zm4 0h3v1h-3zm5 0h5v1h-5zm6 0h6v1h-6zm8 0h4v1h-4zm5 0h5v1h-5zm13 0h3v1h-3z" fill="#000" shape-rendering="crispEdges"/>
<rect x="119.3" y="395.7" width="136.0" height="132.1" fill="none" stroke="#000" stroke-width="1.6"/>
<line x1="158.5" y1="395.7" x2="158.5" y2="527.8" stroke="#000" stroke-width="0.8"/>
<line x1="119.3" y1="493.4" x2="255.3" y2="493.4" stroke="#000" stroke-width="0.8"/>
<polygon points="172.6,422.9 225.8,422.9 232.0,509.4 221.5,526.3 163.8,526.3 161.0,496.2 160.0,475.6 163.2,454.9" fill="none" stroke="#000" stroke-width="1.1"/>
<path d="M120.3 527.8v8M119.3 526.8h-6.5M153.8 527.8v8M119.3 494.3h-6.5M187.3 527.8v8M119.3 461.8h-6.5M220.8 527.8v8M119.3 429.2h-6.5M254.3 527.8v8M119.3 396.7h-6.5M130.4 527.8v4M119.3 517.0h-3.5M136.3 527.8v4M119.3 511.3h-3.5M140.5 527.8v4M119.3 507.2h-3.5M143.7 527.8v4M119.3 504.1h-3.5M146.4 527.8v4M119.3 501.5h-3.5M148.6 527.8v4M119.3 499.3h-3.5M150.6 527.8v4M119.3 497.4h-3.5M152.3 527.8v4M119.3 495.8h-3.5M163.9 527.8v4M119.3 484.5h-3.5M169.8 527.8v4M119.3 478.8h-3.5M174.0 527.8v4M119.3 474.7h-3.5M177.2 527.8v4M119.3 471.5h-3.5M179.9 527.8v4M119.3 469.0h-3.5M182.1 527.8v4M119.3 466.8h-3.5M184.1 527.8v4M119.3 464.9h-3.5M185.8 527.8v4M119.3 463.2h-3.5M197.4 527.8v4M119.3 452.0h-3.5M203.3 527.8v4M119.3 446.2h-3.5M207.5 527.8v4M119.3 442.2h-3.5M210.7 527.8v4M119.3 439.0h-3.5M213.4 527.8v4M119.3 436.4h-3.5M215.6 527.8v4M119.3 434.3h-3.5M217.6 527.8v4M119.3 432.4h-3.5M219.3 527.8v4M119.3 430.7h-3.5M230.9 527.8v4M119.3 419.4h-3.5M236.8 527.8v4M119.3 413.7h-3.5M241.0 527.8v4M119.3 409.6h-3.5M244.2 527.8v4M119.3 406.5h-3.5M246.9 527.8v4M119.3 403.9h-3.5M249.1 527.8v4M119.3 401.7h-3.5M251.1 527.8v4M119.3 399.9h-3.5M252.8 527.8v4M119.3 398.2h-3.5" stroke="#000" stroke-width="1.6" fill="none"/>
<text transform="translate(108.9,538.4) rotate(-90)" font-size="13.3" font-family='"Liberation Sans", sans-serif' x="0" y="0">10<tspan dx="3.0" dy="-7">0</tspan></text>
<text transform="translate(108.9,505.9) rotate(-90)" font-size="13.3" font-family='"Liberation Sans", sans-serif' x="0" y="0">10<tspan dx="3.0" dy="-7">1</tspan></text>
<text transform="translate(108.9,473.4) rotate(-90)" font-size="13.3" font-family='"Liberation Sans", sans-serif' x="0" y="0">10<tspan dx="3.0" dy="-7">2</tspan></text>
<text transform="translate(108.9,440.8) rotate(-90)" font-size="13.3" font-family='"Liberation Sans", sans-serif' x="0" y="0">10<tspan dx="3.0" dy="-7">3</tspan></text>
<text transform="translate(108.9,408.3) rotate(-90)" font-size="13.3" font-family='"Liberation Sans", sans-serif' x="0" y="0">10</text>
<text x="110.7" y="553.8" font-size="16" font-family='"Liberation Sans", sans-serif' textLength="12.4" lengthAdjust="spacingAndGlyphs">10</text>
<text x="123.3" y="545.0" font-size="16" font-family='"Liberation Sans", sans-serif' textLength="7" lengthAdjust="spacingAndGlyphs">0</text>
<text x="144.2" y="553.8" font-size="16" font-family='"Liberation Sans", sans-serif' textLength="12.4" lengthAdjust="spacingAndGlyphs">10</text>
<text x="156.8" y="545.0" font-size="16" font-family='"Liberation Sans", sans-serif' textLength="7" lengthAdjust="spacingAndGlyphs">1</text>
<text x="177.7" y="553.8" font-size="16" font-family='"Liberation Sans", sans-serif' textLength="12.4" lengthAdjust="spacingAndGlyphs">10</text>
<text x="190.3" y="545.0" font-size="16" font-family='"Liberation Sans", sans-serif' textLength="7" lengthAdjust="spacingAndGlyphs">2</text>
<text x="211.2" y="553.8" font-size="16" font-family='"Liberation Sans", sans-serif' textLength="12.4" lengthAdjust="spacingAndGlyphs">10</text>
<text x="223.8" y="545.0" font-size="16" font-family='"Liberation Sans", sans-serif' textLength="7" lengthAdjust="spacingAndGlyphs">3</text>
<text x="244.7" y="553.8" font-size="16" font-family='"Liberation Sans", sans-serif' textLength="12.4" lengthAdjust="spacingAndGlyphs">10</text>
<text x="257.3" y="545.0" font-size="16" font-family='"Liberation Sans", sans-serif' textLength="7" lengthAdjust="spacingAndGlyphs">4</text>
<path d="M337 418h2v1h-2zM337 419h2v1h-2zm6 0h2v1h-2zm10 0h2v1h-2zM343 420h2v1h-2zM343 421h1v1h-1zm4 0h2v1h-2zm51 0h2v1h-2zM343 422h1v1h-1zm4 0h1v1h-1zm3 0h1v1h-1zm41 0h1v1h-1zM344 423h1v1h-1zm3 0h1v1h-1zm3 0h1v1h-1zm62 0h2v1h-2zM339 424h1v1h-1zm5 0h1v1h-1zm3 0h3v1h-3zm65 0h2v1h-2zM339 425h1v1h-1zm5 0h2v1h-2zm4 0h4v1h-4zm5 0h2v1h-2zm4 0h2v1h-2zm65 0h1v1h-1zM342 426h4v1h-4zm8 0h2v1h-2zm53 0h2v1h-2zm19 0h1v1h-1zM342 427h4v1h-4zm8 0h1v1h-1zm8 0h2v1h-2zm51 0h2v1h-2zm6 0h2v1h-2zM343 428h2v1h-2zm6 0h1v1h-1zm9 0h2v1h-2zm65 0h2v1h-2zM337 429h1v1h-1zm6 0h1v1h-1zm2 0h1v1h-1zm2 0h2v1h-2zm38 0h2v1h-2zm21 0h1v1h-1zM333 430h1v1h-1zm3 0h2v1h-2zm4 0h2v1h-2zm3 0h3v1h-3zm4 0h2v1h-2zm43 0h1v1h-1zM333 431h1v1h-1zm3 0h1v1h-1zm8 0h1v1h-1zm4 0h1v1h-1zm58 0h2v1h-2zM347 432h1v1h-1zm18 0h2v1h-2zm41 0h2v1h-2zM347 433h3v1h-3zm4 0h2v1h-2zm34 0h1v1h-1zm9 0h1v1h-1zm12 0h2v1h-2zm7 0h2v1h-2zM336 434h1v1h-1zm6 0h2v1h-2zm5 0h2v1h-2zm28 0h2v1h-2zm9 0h2v1h-2zm7 0h1v1h-1zm3 0h1v1h-1zm5 0h2v1h-2zm9 0h1v1h-1zm5 0h2v1h-2zM336 435h1v1h-1zm6 0h3v1h-3zm8 0h1v1h-1zm49 0h2v1h-2zm3 0h3v1h-3zm16 0h2v1h-2zM342 436h4v1h-4zm7 0h3v1h-3zm44 0h1v1h-1zm9 0h3v1h-3zm16 0h2v1h-2zM340 437h1v1h-1zm2 0h10v1h-10zm24 0h1v1h-1zm27 0h1v1h-1zm8 0h3v1h-3zm9 0h1v1h-1zM343 438h2v1h-2zm3 0h6v1h-6zm7 0h2v1h-2zm13 0h1v1h-1zm6 0h3v1h-3zm29 0h3v1h-3zm7 0h3v1h-3zm9 0h2v1h-2zM343 439h2v1h-2zm10 0h1v1h-1zm39 0h2v1h-2zM344 440h2v1h-2zm6 0h1v1h-1zm3 0h1v1h-1zm21 0h2v1h-2zm4 0h2v1h-2zm31 0h2v1h-2zM337 441h2v1h-2zm7 0h2v1h-2zm14 0h2v1h-2zm20 0h2v1h-2zM358 442h2v1h-2zm15 0h1v1h-1zm18 0h1v1h-1zm6 0h2v1h-2zm21 0h1v1h-1zM340 443h2v1h-2zm11 0h1v1h-1zm31 0h1v1h-1zm26 0h2v1h-2zm6 0h2v1h-2zM340 444h6v1h-6zm10 0h2v1h-2zm26 0h1v1h-1zm22 0h2v1h-2zm10 0h2v1h-2zM339 445h3v1h-3zm4 0h3v1h-3zm7 0h1v1h-1zm35 0h2v1h-2zm13 0h2v1h-2zm5 0h1v1h-1zm4 0h1v1h-1zM340 446h1v1h-1zm3 0h4v1h-4zm6 0h1v1h-1zm2 0h1v1h-1zm34 0h2v1h-2zm3 0h2v1h-2zm15 0h3v1h-3zm4 0h1v1h-1zm5 0h1v1h-1zM341 447h4v1h-4zm8 0h1v1h-1zm2 0h1v1h-1zm2 0h1v1h-1zm21 0h1v1h-1zm38 0h1v1h-1zM341 448h4v1h-4zm10 0h1v1h-1zm23 0h1v1h-1zm4 0h1v1h-1zm21 0h3v1h-3zm23 0h2v1h-2zM343 449h4v1h-4zm35 0h1v1h-1zm32 0h1v1h-1zm12 0h2v1h-2zM345 450h5v1h-5zm40 0h1v1h-1zm2 0h1v1h-1zm24 0h2v1h-2zm7 0h2v1h-2zM343 451h2v1h-2zm3 0h2v1h-2zm39 0h1v1h-1zm2 0h3v1h-3zm4 0h1v1h-1zm2 0h2v1h-2zm18 0h1v1h-1zm7 0h2v1h-2zM343 452h2v1h-2zm3 0h2v1h-2zm20 0h2v1h-2zm4 0h1v1h-1zm18 0h3v1h-3zm5 0h2v1h-2zm11 0h2v1h-2zm10 0h1v1h-1zM347 453h1v1h-1zm23 0h1v1h-1zm6 0h1v1h-1zm14 0h1v1h-1zm5 0h1v1h-1zm14 0h2v1h-2zM347 454h2v1h-2zm45 0h1v1h-1zm17 0h2v1h-2zM337 455h1v1h-1zm10 0h2v1h-2zm5 0h2v1h-2zm4 0h2v1h-2zm29 0h1v1h-1zm10 0h1v1h-1zm9 0h1v1h-1zm9 0h1v1h-1zm3 0h1v1h-1zM349 456h1v1h-1zm3 0h2v1h-2zm4 0h2v1h-2zm26 0h2v1h-2zm3 0h1v1h-1zm7 0h2v1h-2zm9 0h2v1h-2zm5 0h1v1h-1zm7 0h1v1h-1zM351 457h2v1h-2zm6 0h1v1h-1zm21 0h2v1h-2zm4 0h2v1h-2zm16 0h1v1h-1zm3 0h3v1h-3zm5 0h1v1h-1zm12 0h1v1h-1zM339 458h2v1h-2zm9 0h1v1h-1zm3 0h2v1h-2zm27 0h2v1h-2zm21 0h2v1h-2zm4 0h1v1h-1zm15 0h1v1h-1zM339 459h2v1h-2zm3 0h1v1h-1zm6 0h1v1h-1zm32 0h1v1h-1zm5 0h1v1h-1zm24 0h1v1h-1zM339 460h2v1h-2zm3 0h3v1h-3zm25 0h1v1h-1zm13 0h1v1h-1zm5 0h6v1h-6zm24 0h1v1h-1zM339 461h2v1h-2zm28 0h1v1h-1zm20 0h4v1h-4zm18 0h1v1h-1zM351 463h2v1h-2zM351 464h1v1h-1zm17 0h3v1h-3zm43 0h2v1h-2zM368 465h1v1h-1zm12 0h2v1h-2zm31 0h2v1h-2zM380 466h3v1h-3zm7 0h1v1h-1zm10 0h1v1h-1zm13 0h1v1h-1zM364 467h1v1h-1zm9 0h2v1h-2zm14 0h1v1h-1zm6 0h3v1h-3zm17 0h1v1h-1zm6 0h1v1h-1zM381 468h2v1h-2zm12 0h1v1h-1zm23 0h1v1h-1zM388 469h2v1h-2zm5 0h2v1h-2zM382 470h1v1h-1zm6 0h2v1h-2zm5 0h2v1h-2zM380 471h3v1h-3zm8 0h2v1h-2zm11 0h1v1h-1zm8 0h1v1h-1zM380 472h2v1h-2zm8 0h2v1h-2zm10 0h2v1h-2zm4 0h2v1h-2zm17 0h1v1h-1zM363 473h1v1h-1zm7 0h2v1h-2zm14 0h6v1h-6zm8 0h2v1h-2zM370 474h3v1h-3zm5 0h2v1h-2zm11 0h3v1h-3zm6 0h2v1h-2zm3 0h4v1h-4zM375 475h2v1h-2zm4 0h1v1h-1zm12 0h2v1h-2zm3 0h4v1h-4zm11 0h1v1h-1zM385 476h2v1h-2zm3 0h1v1h-1zm17 0h1v1h-1zM367 477h2v1h-2zm17 0h3v1h-3zm12 0h2v1h-2zM384 478h1v1h-1zm12 0h2v1h-2zm13 0h2v1h-2zM391 479h1v1h-1zm6 0h1v1h-1zm8 0h1v1h-1zM394 480h4v1h-4zM394 481h4v1h-4zm13 0h2v1h-2zM407 482h2v1h-2zm8 0h1v1h-1zM376 483h2v1h-2zm11 0h1v1h-1zm6 0h2v1h-2zm12 0h1v1h-1zM367 484h2v1h-2zm29 0h2v1h-2zM367 485h2v1h-2zm29 0h2v1h-2zm12 0h2v1h-2zM391 486h2v1h-2zm14 0h2v1h-2zM365 487h2v1h-2zm14 0h1v1h-1zm12 0h4v1h-4zM379 488h1v1h-1zm13 0h3v1h-3zm5 0h2v1h-2zM390 489h2v1h-2zm3 0h2v1h-2zM375 490h1v1h-1zm9 0h2v1h-2zm6 0h2v1h-2zm9 0h1v1h-1zM371 491h1v1h-1zm6 0h1v1h-1zm7 0h1v1h-1zm15 0h1v1h-1zm19 0h2v1h-2zM374 492h1v1h-1zm10 0h1v1h-1zm8 0h1v1h-1zm15 0h1v1h-1zm6 0h2v1h-2zm4 0h3v1h-3zM364 493h2v1h-2zm5 0h1v1h-1zm5 0h1v1h-1zm7 0h1v1h-1zm2 0h2v1h-2zm12 0h2v1h-2zm7 0h1v1h-1zm8 0h1v1h-1zm3 0h2v1h-2zM364 494h8v1h-8zm15 0h1v1h-1zm2 0h1v1h-1zm2 0h2v1h-2zm7 0h2v1h-2zm3 0h2v1h-2zm4 0h1v1h-1zm19 0h1v1h-1zM324 495h2v1h-2zm42 0h2v1h-2zm4 0h2v1h-2zm3 0h1v1h-1zm2 0h1v1h-1zm3 0h2v1h-2zm3 0h2v1h-2zm4 0h1v1h-1zm5 0h2v1h-2zm3 0h2v1h-2zm4 0h1v1h-1zm5 0h2v1h-2zm3 0h2v1h-2zm3 0h2v1h-2zm8 0h1v1h-1zm2 0h3v1h-3zM324 496h2v1h-2zm51 0h1v1h-1zm3 0h1v1h-1zm3 0h3v1h-3zm8 0h4v1h-4zm9 0h2v1h-2zm4 0h1v1h-1zm3 0h4v1h-4zm5 0h1v1h-1zm5 0h1v1h-1zm3 0h2v1h-2zM346 497h1v1h-1zm17 0h1v1h-1zm2 0h2v1h-2zm4 0h1v1h-1zm6 0h2v1h-2zm7 0h2v1h-2zm3 0h1v1h-1zm2 0h1v1h-1zm4 0h2v1h-2zm11 0h1v1h-1zm2 0h4v1h-4zm6 0h1v1h-1zm4 0h2v1h-2zm4 0h2v1h-2zM320 498h2v1h-2zm26 0h1v1h-1zm17 0h1v1h-1zm7 0h1v1h-1zm4 0h3v1h-3zm6 0h3v1h-3zm5 0h1v1h-1zm2 0h1v1h-1zm17 0h3v1h-3zm10 0h2v1h-2zm5 0h1v1h-1zM315 499h2v1h-2zm54 0h2v1h-2zm6 0h1v1h-1zm5 0h3v1h-3zm8 0h2v1h-2zm13 0h2v1h-2zm4 0h1v1h-1zm5 0h1v1h-1zm7 0h2v1h-2zm3 0h3v1h-3zM315 500h2v1h-2zm14 0h2v1h-2zm39 0h2v1h-2zm11 0h2v1h-2zm21 0h3v1h-3zm4 0h2v1h-2zm3 0h4v1h-4zm10 0h3v1h-3zm4 0h2v1h-2zM317 501h2v1h-2zm12 0h2v1h-2zm39 0h2v1h-2zm9 0h4v1h-4zm6 0h4v1h-4zm12 0h1v1h-1zm5 0h1v1h-1zm9 0h2v1h-2zm9 0h2v1h-2zm6 0h1v1h-1zM363 502h2v1h-2zm3 0h2v1h-2zm7 0h1v1h-1zm6 0h2v1h-2zm9 0h2v1h-2zm3 0h2v1h-2zm4 0h1v1h-1zm4 0h3v1h-3zm4 0h2v1h-2zm4 0h2v1h-2zm3 0h1v1h-1zM372 503h2v1h-2zm7 0h1v1h-1zm4 0h3v1h-3zm4 0h6v1h-6zm8 0h8v1h-8zm10 0h4v1h-4zm5 0h1v1h-1zm4 0h1v1h-1zm2 0h2v1h-2zM346 504h2v1h-2zm19 0h1v1h-1zm7 0h2v1h-2zm12 0h9v1h-9zm10 0h17v1h-17zm19 0h5v1h-5zM346 505h2v1h-2zm16 0h4v1h-4zm16 0h2v1h-2zm3 0h1v1h-1zm5 0h7v1h-7zm8 0h16v1h-16zm17 0h3v1h-3zm4 0h3v1h-3zM335 506h2v1h-2zm38 0h2v1h-2zm5 0h2v1h-2zm3 0h1v1h-1zm4 0h32v1h-32zm33 0h1v1h-1zM361 507h1v1h-1zm5 0h2v1h-2zm7 0h2v1h-2zm4 0h6v1h-6zm8 0h34v1h-34zm35 0h2v1h-2zm4 0h2v1h-2zM361 508h4v1h-4zm15 0h17v1h-17zm18 0h3v1h-3zm5 0h23v1h-23zm25 0h1v1h-1zM315 509h1v1h-1zm31 0h2v1h-2zm16 0h4v1h-4zm5 0h1v1h-1zm3 0h2v1h-2zm6 0h43v1h-43zm44 0h1v1h-1zm2 0h1v1h-1zM315 510h1v1h-1zm42 0h2v1h-2zm4 0h4v1h-4zm9 0h2v1h-2zm5 0h2v1h-2zm5 0h7v1h-7zm8 0h22v1h-22zm24 0h9v1h-9zM357 511h2v1h-2zm4 0h2v1h-2zm8 0h2v1h-2zm7 0h1v1h-1zm2 0h22v1h-22zm23 0h20v1h-20zm21 0h3v1h-3zM340 512h2v1h-2zm21 0h1v1h-1zm8 0h2v1h-2zm6 0h25v1h-25zm26 0h5v1h-5zm6 0h5v1h-5zm6 0h14v1h-14zM340 513h2v1h-2zm21 0h1v1h-1zm5 0h2v1h-2zm4 0h1v1h-1zm2 0h1v1h-1zm4 0h8v1h-8zm10 0h21v1h-21zm22 0h14v1h-14zm15 0h1v1h-1zM315 514h1v1h-1zm55 0h1v1h-1zm2 0h1v1h-1zm2 0h3v1h-3zm4 0h42v1h-42zm43 0h1v1h-1zM315 515h1v1h-1zm53 0h2v1h-2zm3 0h2v1h-2zm3 0h36v1h-36zm37 0h12v1h-12zM361 516h3v1h-3zm7 0h6v1h-6zm7 0h9v1h-9zm10 0h40v1h-40zM353 517h2v1h-2zm9 0h2v1h-2zm3 0h1v1h-1zm3 0h9v1h-9zm10 0h3v1h-3zm4 0h10v1h-10zm11 0h9v1h-9zm10 0h6v1h-6zm7 0h10v1h-10zm11 0h4v1h-4zM353 518h2v1h-2zm12 0h4v1h-4zm5 0h3v1h-3zm5 0h6v1h-6zm7 0h1v1h-1zm2 0h16v1h-16zm17 0h9v1h-9zm10 0h12v1h-12zM314 519h2v1h-2zm13 0h1v1h-1zm9 0h2v1h-2zm26 0h1v1h-1zm2 0h9v1h-9zm10 0h23v1h-23zm24 0h26v1h-26zM327 520h2v1h-2zm9 0h2v1h-2zm23 0h1v1h-1zm4 0h62v1h-62zM327 521h1v1h-1zm10 0h1v1h-1zm21 0h3v1h-3zm4 0h63v1h-63zM325 522h2v1h-2zm13 0h2v1h-2zm19 0h55v1h-55zm56 0h12v1h-12zM323 523h2v1h-2zm10 0h1v1h-1zm23 0h1v1h-1zm3 0h2v1h-2zm3 0h23v1h-23zm24 0h36v1h-36zm37 0h2v1h-2zM318 524h2v1h-2zm5 0h2v1h-2zm5 0h2v1h-2zm8 0h1v1h-1zm5 0h2v1h-2zm4 0h1v1h-1zm3 0h3v1h-3zm9 0h71v1h-71zM318 525h2v1h-2zm5 0h2v1h-2zm13 0h1v1h-1zm6 0h1v1h-1zm3 0h1v1h-1zm3 0h2v1h-2zm11 0h65v1h-65z" fill="#000" shape-rendering="crispEdges"/>
<rect x="313.3" y="392.2" width="137.0" height="134.8" fill="none" stroke="#000" stroke-width="1.6"/>
<line x1="355.7" y1="392.2" x2="355.7" y2="527.0" stroke="#000" stroke-width="0.8"/>
<line x1="313.3" y1="491.1" x2="450.3" y2="491.1" stroke="#000" stroke-width="0.8"/>
<polygon points="370.4,421.1 423.4,421.1 429.1,508.1 423.4,520.4 361.9,526.1 356.8,475.0" fill="none" stroke="#000" stroke-width="1.1"/>
<path d="M314.3 527.0v8M313.3 526.0h-6.5M348.1 527.0v8M313.3 492.8h-6.5M381.8 527.0v8M313.3 459.6h-6.5M415.6 527.0v8M313.3 426.4h-6.5M449.3 527.0v8M313.3 393.2h-6.5M324.5 527.0v4M313.3 516.0h-3.5M330.4 527.0v4M313.3 510.2h-3.5M334.6 527.0v4M313.3 506.0h-3.5M337.9 527.0v4M313.3 502.8h-3.5M340.6 527.0v4M313.3 500.2h-3.5M342.8 527.0v4M313.3 497.9h-3.5M344.8 527.0v4M313.3 496.0h-3.5M346.5 527.0v4M313.3 494.3h-3.5M358.2 527.0v4M313.3 482.8h-3.5M364.2 527.0v4M313.3 477.0h-3.5M368.4 527.0v4M313.3 472.8h-3.5M371.6 527.0v4M313.3 469.6h-3.5M374.3 527.0v4M313.3 467.0h-3.5M376.6 527.0v4M313.3 464.7h-3.5M378.5 527.0v4M313.3 462.8h-3.5M380.3 527.0v4M313.3 461.1h-3.5M392.0 527.0v4M313.3 449.6h-3.5M397.9 527.0v4M313.3 443.8h-3.5M402.1 527.0v4M313.3 439.6h-3.5M405.4 527.0v4M313.3 436.4h-3.5M408.1 527.0v4M313.3 433.8h-3.5M410.3 527.0v4M313.3 431.5h-3.5M412.3 527.0v4M313.3 429.6h-3.5M414.0 527.0v4M313.3 427.9h-3.5M425.7 527.0v4M313.3 416.4h-3.5M431.7 527.0v4M313.3 410.6h-3.5M435.9 527.0v4M313.3 406.4h-3.5M439.1 527.0v4M313.3 403.2h-3.5M441.8 527.0v4M313.3 400.6h-3.5M444.1 527.0v4M313.3 398.3h-3.5M446.0 527.0v4M313.3 396.4h-3.5M447.8 527.0v4M313.3 394.7h-3.5" stroke="#000" stroke-width="1.6" fill="none"/>
<text transform="translate(302.9,537.6) rotate(-90)" font-size="13.3" font-family='"Liberation Sans", sans-serif' x="0" y="0">10<tspan dx="3.0" dy="-7">0</tspan></text>
<text transform="translate(302.9,504.4) rotate(-90)" font-size="13.3" font-family='"Liberation Sans", sans-serif' x="0" y="0">10<tspan dx="3.0" dy="-7">1</tspan></text>
<text transform="translate(302.9,471.2) rotate(-90)" font-size="13.3" font-family='"Liberation Sans", sans-serif' x="0" y="0">10<tspan dx="3.0" dy="-7">2</tspan></text>
<text transform="translate(302.9,438.0) rotate(-90)" font-size="13.3" font-family='"Liberation Sans", sans-serif' x="0" y="0">10<tspan dx="3.0" dy="-7">3</tspan></text>
<text transform="translate(302.9,404.8) rotate(-90)" font-size="13.3" font-family='"Liberation Sans", sans-serif' x="0" y="0">10</text>
<text x="304.7" y="553.0" font-size="16" font-family='"Liberation Sans", sans-serif' textLength="12.4" lengthAdjust="spacingAndGlyphs">10</text>
<text x="317.3" y="544.2" font-size="16" font-family='"Liberation Sans", sans-serif' textLength="7" lengthAdjust="spacingAndGlyphs">0</text>
<text x="338.4" y="553.0" font-size="16" font-family='"Liberation Sans", sans-serif' textLength="12.4" lengthAdjust="spacingAndGlyphs">10</text>
<text x="351.1" y="544.2" font-size="16" font-family='"Liberation Sans", sans-serif' textLength="7" lengthAdjust="spacingAndGlyphs">1</text>
<text x="372.2" y="553.0" font-size="16" font-family='"Liberation Sans", sans-serif' textLength="12.4" lengthAdjust="spacingAndGlyphs">10</text>
<text x="384.8" y="544.2" font-size="16" font-family='"Liberation Sans", sans-serif' textLength="7" lengthAdjust="spacingAndGlyphs">2</text>
<text x="405.9" y="553.0" font-size="16" font-family='"Liberation Sans", sans-serif' textLength="12.4" lengthAdjust="spacingAndGlyphs">10</text>
<text x="418.6" y="544.2" font-size="16" font-family='"Liberation Sans", sans-serif' textLength="7" lengthAdjust="spacingAndGlyphs">3</text>
<text x="439.7" y="553.0" font-size="16" font-family='"Liberation Sans", sans-serif' textLength="12.4" lengthAdjust="spacingAndGlyphs">10</text>
<text x="452.3" y="544.2" font-size="16" font-family='"Liberation Sans", sans-serif' textLength="7" lengthAdjust="spacingAndGlyphs">4</text>
<path d="M543 418h2v1h-2zM544 421h1v1h-1zM546 422h1v1h-1zm4 0h3v1h-3zM538 423h1v1h-1zm7 0h1v1h-1zm5 0h4v1h-4zm12 0h1v1h-1zM538 424h3v1h-3zm7 0h2v1h-2zm6 0h3v1h-3zm4 0h3v1h-3zm7 0h1v1h-1zm34 0h2v1h-2zm3 0h4v1h-4zm10 0h2v1h-2zm5 0h1v1h-1zM539 425h2v1h-2zm4 0h2v1h-2zm6 0h1v1h-1zm2 0h4v1h-4zm5 0h1v1h-1zm20 0h1v1h-1zm11 0h2v1h-2zm9 0h4v1h-4zm5 0h2v1h-2zm13 0h1v1h-1zM540 426h4v1h-4zm6 0h7v1h-7zm8 0h3v1h-3zm20 0h2v1h-2zm10 0h2v1h-2zm3 0h2v1h-2zm8 0h2v1h-2zm4 0h1v1h-1zm15 0h1v1h-1zM538 427h1v1h-1zm3 0h2v1h-2zm6 0h9v1h-9zm27 0h2v1h-2zm4 0h2v1h-2zm6 0h2v1h-2zm18 0h1v1h-1zM531 428h1v1h-1zm4 0h2v1h-2zm3 0h4v1h-4zm5 0h2v1h-2zm4 0h2v1h-2zm3 0h1v1h-1zm2 0h4v1h-4zm22 0h2v1h-2zm3 0h1v1h-1zm12 0h1v1h-1zm11 0h1v1h-1zm2 0h1v1h-1zm12 0h2v1h-2zM540 429h6v1h-6zm7 0h7v1h-7zm8 0h1v1h-1zm11 0h2v1h-2zm5 0h2v1h-2zm6 0h1v1h-1zm16 0h3v1h-3zm9 0h2v1h-2zm3 0h2v1h-2zm7 0h1v1h-1zM537 430h2v1h-2zm3 0h17v1h-17zm27 0h2v1h-2zm4 0h1v1h-1zm6 0h2v1h-2zm3 0h2v1h-2zm14 0h2v1h-2zm3 0h1v1h-1zm2 0h2v1h-2zm3 0h2v1h-2zm3 0h2v1h-2zm5 0h2v1h-2zm7 0h2v1h-2zM537 431h5v1h-5zm6 0h4v1h-4zm7 0h7v1h-7zm17 0h2v1h-2zm6 0h2v1h-2zm4 0h2v1h-2zm3 0h6v1h-6zm10 0h2v1h-2zm4 0h2v1h-2zm3 0h1v1h-1zm2 0h2v1h-2zm5 0h3v1h-3zm6 0h4v1h-4zm7 0h2v1h-2zM537 432h7v1h-7zm8 0h3v1h-3zm4 0h3v1h-3zm13 0h1v1h-1zm19 0h3v1h-3zm4 0h1v1h-1zm12 0h1v1h-1zm6 0h2v1h-2zm8 0h3v1h-3zm7 0h1v1h-1zM536 433h7v1h-7zm8 0h4v1h-4zm5 0h3v1h-3zm4 0h3v1h-3zm9 0h1v1h-1zm10 0h2v1h-2zm5 0h1v1h-1zm7 0h2v1h-2zm7 0h2v1h-2zm6 0h1v1h-1zm5 0h1v1h-1zm3 0h1v1h-1zm2 0h1v1h-1zm11 0h1v1h-1zM530 434h2v1h-2zm7 0h1v1h-1zm4 0h2v1h-2zm4 0h7v1h-7zm9 0h2v1h-2zm23 0h1v1h-1zm2 0h1v1h-1zm8 0h1v1h-1zm4 0h1v1h-1zm8 0h2v1h-2zm3 0h1v1h-1zm5 0h2v1h-2zM530 435h2v1h-2zm4 0h3v1h-3zm5 0h4v1h-4zm5 0h6v1h-6zm7 0h5v1h-5zm6 0h2v1h-2zm6 0h2v1h-2zm13 0h3v1h-3zm9 0h1v1h-1zm2 0h2v1h-2zm3 0h2v1h-2zm17 0h1v1h-1zm4 0h2v1h-2zM535 436h2v1h-2zm4 0h4v1h-4zm7 0h3v1h-3zm7 0h3v1h-3zm5 0h2v1h-2zm5 0h2v1h-2zm10 0h2v1h-2zm3 0h2v1h-2zm11 0h3v1h-3zm11 0h1v1h-1zm2 0h2v1h-2zm10 0h1v1h-1zm2 0h2v1h-2zm8 0h2v1h-2zM534 437h4v1h-4zm5 0h4v1h-4zm5 0h4v1h-4zm6 0h1v1h-1zm4 0h7v1h-7zm9 0h2v1h-2zm7 0h2v1h-2zm3 0h5v1h-5zm14 0h3v1h-3zm8 0h4v1h-4zm5 0h3v1h-3zm10 0h4v1h-4zm10 0h2v1h-2zM534 438h1v1h-1zm3 0h4v1h-4zm7 0h7v1h-7zm11 0h1v1h-1zm3 0h1v1h-1zm12 0h2v1h-2zm4 0h4v1h-4zm5 0h2v1h-2zm5 0h2v1h-2zm5 0h1v1h-1zm6 0h2v1h-2zm6 0h2v1h-2zm3 0h3v1h-3zm5 0h3v1h-3zm6 0h1v1h-1zM534 439h2v1h-2zm3 0h3v1h-3zm5 0h8v1h-8zm9 0h3v1h-3zm7 0h1v1h-1zm17 0h3v1h-3zm4 0h1v1h-1zm5 0h2v1h-2zm9 0h2v1h-2zm6 0h1v1h-1zm3 0h1v1h-1zm13 0h1v1h-1zM535 440h2v1h-2zm3 0h2v1h-2zm4 0h8v1h-8zm9 0h3v1h-3zm4 0h5v1h-5zm37 0h1v1h-1zm4 0h1v1h-1zm2 0h4v1h-4zm5 0h2v1h-2zm5 0h2v1h-2zm7 0h1v1h-1zM534 441h2v1h-2zm3 0h3v1h-3zm6 0h3v1h-3zm4 0h3v1h-3zm5 0h2v1h-2zm4 0h4v1h-4zm11 0h2v1h-2zm22 0h2v1h-2zm3 0h13v1h-13zm15 0h3v1h-3zM540 442h6v1h-6zm7 0h2v1h-2zm9 0h2v1h-2zm4 0h1v1h-1zm4 0h1v1h-1zm29 0h1v1h-1zm2 0h4v1h-4zm6 0h4v1h-4zm6 0h3v1h-3zm6 0h1v1h-1zm8 0h2v1h-2zM532 443h2v1h-2zm3 0h2v1h-2zm3 0h8v1h-8zm13 0h2v1h-2zm5 0h2v1h-2zm8 0h1v1h-1zm11 0h1v1h-1zm2 0h1v1h-1zm3 0h7v1h-7zm8 0h2v1h-2zm3 0h4v1h-4zm5 0h2v1h-2zm4 0h2v1h-2zm3 0h2v1h-2zm7 0h1v1h-1zm3 0h1v1h-1zm8 0h2v1h-2zM533 444h4v1h-4zm5 0h9v1h-9zm13 0h2v1h-2zm4 0h2v1h-2zm12 0h1v1h-1zm8 0h1v1h-1zm6 0h7v1h-7zm9 0h5v1h-5zm8 0h7v1h-7zm8 0h4v1h-4zm6 0h3v1h-3zm10 0h2v1h-2zM533 445h2v1h-2zm6 0h14v1h-14zm37 0h2v1h-2zm8 0h7v1h-7zm9 0h5v1h-5zm6 0h6v1h-6zm9 0h2v1h-2zm4 0h2v1h-2zM529 446h1v1h-1zm10 0h4v1h-4zm6 0h8v1h-8zm42 0h1v1h-1zm3 0h1v1h-1zm3 0h6v1h-6zm8 0h3v1h-3zm6 0h3v1h-3zm4 0h1v1h-1zm3 0h1v1h-1zM541 447h4v1h-4zm5 0h2v1h-2zm30 0h2v1h-2zm4 0h2v1h-2zm10 0h1v1h-1zm3 0h1v1h-1zm2 0h5v1h-5zm6 0h3v1h-3zm6 0h2v1h-2zm4 0h1v1h-1zm2 0h2v1h-2zm8 0h1v1h-1zM538 448h2v1h-2zm3 0h4v1h-4zm6 0h4v1h-4zm28 0h2v1h-2zm7 0h4v1h-4zm5 0h2v1h-2zm3 0h4v1h-4zm5 0h5v1h-5zm10 0h2v1h-2zm16 0h1v1h-1zM538 449h2v1h-2zm3 0h1v1h-1zm3 0h1v1h-1zm3 0h4v1h-4zm6 0h1v1h-1zm19 0h2v1h-2zm3 0h2v1h-2zm14 0h4v1h-4zm8 0h3v1h-3zm5 0h6v1h-6zm9 0h1v1h-1zM541 450h2v1h-2zm12 0h1v1h-1zm8 0h1v1h-1zm6 0h2v1h-2zm5 0h2v1h-2zm6 0h3v1h-3zm12 0h3v1h-3zm6 0h7v1h-7zm9 0h3v1h-3zM529 451h1v1h-1zm32 0h1v1h-1zm5 0h2v1h-2zm3 0h2v1h-2zm7 0h2v1h-2zm4 0h3v1h-3zm4 0h1v1h-1zm6 0h5v1h-5zm6 0h12v1h-12zm14 0h3v1h-3zM563 452h1v1h-1zm3 0h1v1h-1zm10 0h2v1h-2zm4 0h5v1h-5zm14 0h3v1h-3zm5 0h2v1h-2zm3 0h3v1h-3zm5 0h2v1h-2zm3 0h3v1h-3zM530 453h1v1h-1zm8 0h2v1h-2zm3 0h1v1h-1zm3 0h1v1h-1zm19 0h1v1h-1zm13 0h2v1h-2zm3 0h2v1h-2zm4 0h2v1h-2zm7 0h6v1h-6zm8 0h3v1h-3zm5 0h6v1h-6zm7 0h1v1h-1zm6 0h2v1h-2zm7 0h3v1h-3zM530 454h1v1h-1zm8 0h2v1h-2zm3 0h1v1h-1zm4 0h1v1h-1zm32 0h2v1h-2zm5 0h1v1h-1zm5 0h2v1h-2zm3 0h2v1h-2zm7 0h3v1h-3zm7 0h5v1h-5zm6 0h1v1h-1zm5 0h2v1h-2zM532 455h1v1h-1zm4 0h1v1h-1zm9 0h1v1h-1zm32 0h4v1h-4zm5 0h1v1h-1zm6 0h2v1h-2zm8 0h5v1h-5zm8 0h1v1h-1zm2 0h1v1h-1zm2 0h1v1h-1zm2 0h2v1h-2zm5 0h2v1h-2zM532 456h1v1h-1zm6 0h2v1h-2zm40 0h3v1h-3zm10 0h4v1h-4zm6 0h1v1h-1zm7 0h1v1h-1zm3 0h1v1h-1zm4 0h1v1h-1zM537 457h3v1h-3zm36 0h2v1h-2zm11 0h2v1h-2zm4 0h4v1h-4zm5 0h1v1h-1zm2 0h1v1h-1zm3 0h4v1h-4zm6 0h1v1h-1zm12 0h1v1h-1zM537 458h2v1h-2zm38 0h2v1h-2zm14 0h1v1h-1zm6 0h1v1h-1zm3 0h4v1h-4zm9 0h2v1h-2zm18 0h2v1h-2zM550 459h2v1h-2zm22 0h1v1h-1zm6 0h1v1h-1zm4 0h1v1h-1zm3 0h2v1h-2zm4 0h1v1h-1zm8 0h1v1h-1zm10 0h2v1h-2zm10 0h1v1h-1zm8 0h2v1h-2zM541 460h1v1h-1zm8 0h2v1h-2zm23 0h1v1h-1zm6 0h1v1h-1zm4 0h3v1h-3zm7 0h2v1h-2zm5 0h2v1h-2zm6 0h2v1h-2zm13 0h1v1h-1zm4 0h2v1h-2zM541 461h1v1h-1zm5 0h1v1h-1zm3 0h2v1h-2zm21 0h1v1h-1zm12 0h3v1h-3zm7 0h2v1h-2zm4 0h2v1h-2zm3 0h2v1h-2zm3 0h4v1h-4zm8 0h2v1h-2zm7 0h2v1h-2zm4 0h2v1h-2zM528 462h2v1h-2zm18 0h1v1h-1zm34 0h4v1h-4zm18 0h2v1h-2zm3 0h2v1h-2zm6 0h2v1h-2zm7 0h2v1h-2zm3 0h2v1h-2zM580 463h2v1h-2zm4 0h1v1h-1zm17 0h5v1h-5zm6 0h2v1h-2zm3 0h2v1h-2zM546 464h2v1h-2zm3 0h2v1h-2zm29 0h2v1h-2zm3 0h1v1h-1zm3 0h1v1h-1zm3 0h2v1h-2zm12 0h1v1h-1zm2 0h2v1h-2zm3 0h2v1h-2zm6 0h2v1h-2zm9 0h2v1h-2zM546 465h2v1h-2zm14 0h1v1h-1zm12 0h1v1h-1zm6 0h1v1h-1zm2 0h2v1h-2zm8 0h3v1h-3zm5 0h1v1h-1zm8 0h2v1h-2zm3 0h2v1h-2zm8 0h2v1h-2zm13 0h2v1h-2zM531 466h1v1h-1zm9 0h2v1h-2zm32 0h1v1h-1zm8 0h2v1h-2zm3 0h2v1h-2zm4 0h2v1h-2zm5 0h2v1h-2zm20 0h2v1h-2zm13 0h2v1h-2zM533 467h2v1h-2zm25 0h1v1h-1zm18 0h2v1h-2zm16 0h2v1h-2zm9 0h2v1h-2zm21 0h3v1h-3zM533 468h2v1h-2zm68 0h2v1h-2zm14 0h2v1h-2zm9 0h1v1h-1zM545 469h2v1h-2zm21 0h2v1h-2zm19 0h2v1h-2zm27 0h1v1h-1zm3 0h2v1h-2zm10 0h1v1h-1zM539 470h2v1h-2zm6 0h2v1h-2zm40 0h2v1h-2zm13 0h2v1h-2zm3 0h1v1h-1zm11 0h2v1h-2zm13 0h1v1h-1zM539 471h2v1h-2zm53 0h2v1h-2zm9 0h1v1h-1zm12 0h1v1h-1zM533 472h2v1h-2zm31 0h2v1h-2zm10 0h1v1h-1zm14 0h2v1h-2zm22 0h1v1h-1zm7 0h2v1h-2zm4 0h2v1h-2zM533 473h2v1h-2zm31 0h2v1h-2zm22 0h1v1h-1zm2 0h1v1h-1zm13 0h1v1h-1zm9 0h1v1h-1zm7 0h2v1h-2zm4 0h2v1h-2zM586 474h1v1h-1zm2 0h1v1h-1zm2 0h2v1h-2zm11 0h1v1h-1zm9 0h1v1h-1zm8 0h1v1h-1zM575 475h1v1h-1zm7 0h2v1h-2zm28 0h2v1h-2zm6 0h1v1h-1zm8 0h1v1h-1zM564 476h3v1h-3zm17 0h2v1h-2zm23 0h1v1h-1zm6 0h2v1h-2zm6 0h1v1h-1zm4 0h2v1h-2zm4 0h1v1h-1zM566 477h1v1h-1zm9 0h1v1h-1zm29 0h1v1h-1zm4 0h2v1h-2zM572 478h1v1h-1zm3 0h1v1h-1zm6 0h1v1h-1zm14 0h1v1h-1zm9 0h2v1h-2zm4 0h1v1h-1zM573 479h1v1h-1zm8 0h1v1h-1zm12 0h3v1h-3zm4 0h1v1h-1zm7 0h2v1h-2zm21 0h1v1h-1zM583 480h2v1h-2zm5 0h4v1h-4zm5 0h2v1h-2zm4 0h1v1h-1zm4 0h1v1h-1zm24 0h2v1h-2zM562 481h1v1h-1zm8 0h1v1h-1zm18 0h4v1h-4zm13 0h1v1h-1zm14 0h1v1h-1zM562 482h2v1h-2zm53 0h1v1h-1zM562 483h2v1h-2zm10 0h2v1h-2zm23 0h1v1h-1zm24 0h1v1h-1zm3 0h2v1h-2zM561 484h1v1h-1zm2 0h2v1h-2zm9 0h2v1h-2zm23 0h1v1h-1zm2 0h1v1h-1zm25 0h2v1h-2zM561 485h1v1h-1zm3 0h1v1h-1zm3 0h1v1h-1zm27 0h1v1h-1zm3 0h1v1h-1zm6 0h2v1h-2zm15 0h1v1h-1zm5 0h1v1h-1zM560 486h2v1h-2zm34 0h1v1h-1zm7 0h1v1h-1zm14 0h1v1h-1zm3 0h1v1h-1zm5 0h1v1h-1zM565 487h2v1h-2zm4 0h1v1h-1zm32 0h1v1h-1zm14 0h1v1h-1zm2 0h2v1h-2zm4 0h2v1h-2zM562 488h2v1h-2zm6 0h3v1h-3zm6 0h2v1h-2zm4 0h1v1h-1zm6 0h2v1h-2zm19 0h2v1h-2zm18 0h2v1h-2zM565 489h1v1h-1zm3 0h3v1h-3zm6 0h2v1h-2zm4 0h3v1h-3zm6 0h2v1h-2zm10 0h1v1h-1zm4 0h1v1h-1zm5 0h2v1h-2zm7 0h2v1h-2zM568 490h3v1h-3zm11 0h2v1h-2zm3 0h2v1h-2zm9 0h1v1h-1zm4 0h1v1h-1zm2 0h1v1h-1zm3 0h1v1h-1zm3 0h3v1h-3zm16 0h2v1h-2zM528 491h1v1h-1zm31 0h5v1h-5zm11 0h2v1h-2zm5 0h2v1h-2zm3 0h2v1h-2zm3 0h1v1h-1zm12 0h6v1h-6zm7 0h1v1h-1zm2 0h4v1h-4zm7 0h1v1h-1zm3 0h1v1h-1zm4 0h9v1h-9zM561 492h2v1h-2zm6 0h2v1h-2zm4 0h1v1h-1zm4 0h2v1h-2zm4 0h1v1h-1zm8 0h2v1h-2zm5 0h8v1h-8zm10 0h4v1h-4zm7 0h1v1h-1zm4 0h2v1h-2zm5 0h3v1h-3zm5 0h3v1h-3zM561 493h2v1h-2zm3 0h1v1h-1zm3 0h3v1h-3zm6 0h1v1h-1zm5 0h1v1h-1zm5 0h3v1h-3zm5 0h3v1h-3zm4 0h9v1h-9zm10 0h2v1h-2zm5 0h2v1h-2zm6 0h2v1h-2zm7 0h3v1h-3zm4 0h2v1h-2zM515 494h2v1h-2zm46 0h1v1h-1zm7 0h2v1h-2zm8 0h3v1h-3zm4 0h3v1h-3zm4 0h1v1h-1zm4 0h13v1h-13zm16 0h8v1h-8zm9 0h2v1h-2zm4 0h5v1h-5zm8 0h3v1h-3zM515 495h2v1h-2zm44 0h2v1h-2zm3 0h2v1h-2zm4 0h1v1h-1zm2 0h2v1h-2zm11 0h7v1h-7zm10 0h12v1h-12zm17 0h1v1h-1zm2 0h4v1h-4zm5 0h3v1h-3zm5 0h2v1h-2zm8 0h2v1h-2zM565 496h2v1h-2zm3 0h3v1h-3zm5 0h2v1h-2zm8 0h5v1h-5zm9 0h14v1h-14zm18 0h1v1h-1zm7 0h1v1h-1zm6 0h1v1h-1zm5 0h4v1h-4zM521 497h2v1h-2zm44 0h1v1h-1zm4 0h2v1h-2zm4 0h1v1h-1zm7 0h3v1h-3zm5 0h1v1h-1zm2 0h1v1h-1zm5 0h17v1h-17zm25 0h1v1h-1zm9 0h2v1h-2zM521 498h2v1h-2zm17 0h1v1h-1zm25 0h1v1h-1zm2 0h2v1h-2zm6 0h1v1h-1zm2 0h2v1h-2zm7 0h2v1h-2zm7 0h23v1h-23zm24 0h2v1h-2zm6 0h1v1h-1zm6 0h2v1h-2zM511 499h1v1h-1zm9 0h1v1h-1zm3 0h1v1h-1zm15 0h1v1h-1zm8 0h1v1h-1zm12 0h2v1h-2zm11 0h1v1h-1zm4 0h2v1h-2zm3 0h2v1h-2zm8 0h16v1h-16zm17 0h6v1h-6zm7 0h2v1h-2zm3 0h2v1h-2zm5 0h1v1h-1zm2 0h3v1h-3zm5 0h2v1h-2zM520 500h1v1h-1zm3 0h1v1h-1zm36 0h1v1h-1zm5 0h2v1h-2zm5 0h1v1h-1zm5 0h1v1h-1zm4 0h1v1h-1zm4 0h3v1h-3zm4 0h15v1h-15zm16 0h11v1h-11zm14 0h1v1h-1zm7 0h2v1h-2zM559 501h3v1h-3zm5 0h2v1h-2zm6 0h4v1h-4zm7 0h1v1h-1zm4 0h4v1h-4zm5 0h31v1h-31zm37 0h2v1h-2zM514 502h1v1h-1zm45 0h1v1h-1zm11 0h3v1h-3zm7 0h36v1h-36zm38 0h1v1h-1zm9 0h1v1h-1zM560 503h2v1h-2zm3 0h4v1h-4zm11 0h38v1h-38zm40 0h2v1h-2zm3 0h2v1h-2zm7 0h1v1h-1zM560 504h2v1h-2zm4 0h1v1h-1zm4 0h2v1h-2zm6 0h17v1h-17zm18 0h25v1h-25zM536 505h1v1h-1zm22 0h2v1h-2zm11 0h4v1h-4zm5 0h43v1h-43zm49 0h2v1h-2zM558 506h4v1h-4zm9 0h1v1h-1zm2 0h47v1h-47zm49 0h2v1h-2zm4 0h3v1h-3zM558 507h1v1h-1zm7 0h2v1h-2zm4 0h48v1h-48zm49 0h2v1h-2zm3 0h2v1h-2zm6 0h2v1h-2zM515 508h1v1h-1zm43 0h1v1h-1zm4 0h2v1h-2zm3 0h3v1h-3zm5 0h21v1h-21zm22 0h12v1h-12zm13 0h5v1h-5zm6 0h12v1h-12zm16 0h4v1h-4zM558 509h1v1h-1zm4 0h56v1h-56zm57 0h5v1h-5zM561 510h1v1h-1zm2 0h46v1h-46zm47 0h12v1h-12zm13 0h2v1h-2zM561 511h1v1h-1zm2 0h35v1h-35zm36 0h25v1h-25zM527 512h3v1h-3zm16 0h2v1h-2zm20 0h1v1h-1zm2 0h15v1h-15zm16 0h35v1h-35zm36 0h2v1h-2zm4 0h3v1h-3zm6 0h2v1h-2zM527 513h3v1h-3zm16 0h2v1h-2zm6 0h2v1h-2zm9 0h3v1h-3zm4 0h1v1h-1zm3 0h3v1h-3zm4 0h19v1h-19zm21 0h18v1h-18zm19 0h11v1h-11zm12 0h2v1h-2zm3 0h2v1h-2zm3 0h2v1h-2zM559 514h1v1h-1zm3 0h2v1h-2zm3 0h4v1h-4zm5 0h7v1h-7zm8 0h44v1h-44zm46 0h2v1h-2zM558 515h1v1h-1zm6 0h47v1h-47zm48 0h9v1h-9zm11 0h1v1h-1zm2 0h2v1h-2zM514 516h1v1h-1zm10 0h1v1h-1zm34 0h1v1h-1zm2 0h16v1h-16zm17 0h44v1h-44zm45 0h2v1h-2zm4 0h1v1h-1zM514 517h1v1h-1zm10 0h1v1h-1zm8 0h2v1h-2zm4 0h1v1h-1zm24 0h59v1h-59zm60 0h2v1h-2zm6 0h2v1h-2zM536 518h1v1h-1zm26 0h10v1h-10zm14 0h46v1h-46zm48 0h5v1h-5zM552 519h2v1h-2zm10 0h60v1h-60zm62 0h2v1h-2zm3 0h2v1h-2zM527 520h1v1h-1zm4 0h2v1h-2zm21 0h2v1h-2zm10 0h31v1h-31zm32 0h27v1h-27zm28 0h4v1h-4zm5 0h2v1h-2zM518 521h1v1h-1zm10 0h1v1h-1zm2 0h1v1h-1zm6 0h2v1h-2zm7 0h1v1h-1zm18 0h18v1h-18zm19 0h16v1h-16zm17 0h27v1h-27zm30 0h2v1h-2zM530 522h3v1h-3zm9 0h1v1h-1zm4 0h1v1h-1zm19 0h17v1h-17zm18 0h2v1h-2zm3 0h6v1h-6zm7 0h8v1h-8zm9 0h25v1h-25zM526 523h1v1h-1zm6 0h1v1h-1zm3 0h2v1h-2zm4 0h1v1h-1zm6 0h1v1h-1zm3 0h3v1h-3zm8 0h1v1h-1zm2 0h66v1h-66zM526 524h1v1h-1zm6 0h1v1h-1zm4 0h1v1h-1zm12 0h3v1h-3zm10 0h1v1h-1zm3 0h18v1h-18zm19 0h4v1h-4zm5 0h7v1h-7zm8 0h4v1h-4zm5 0h18v1h-18zm20 0h4v1h-4z" fill="#000" shape-rendering="crispEdges"/>
<rect x="510.5" y="389.5" width="142.6" height="136.3" fill="none" stroke="#000" stroke-width="1.6"/>
<line x1="556.8" y1="389.5" x2="556.8" y2="525.8" stroke="#000" stroke-width="0.8"/>
<line x1="510.5" y1="490.6" x2="653.1" y2="490.6" stroke="#000" stroke-width="0.8"/>
<polygon points="569.6,419.2 622.4,419.2 628.2,507.2 622.4,520.0 560.8,525.0 556.3,474.0" fill="none" stroke="#000" stroke-width="1.1"/>
<path d="M511.5 525.8v8M510.5 524.8h-6.5M546.6 525.8v8M510.5 491.2h-6.5M581.8 525.8v8M510.5 457.6h-6.5M617.0 525.8v8M510.5 424.1h-6.5M652.1 525.8v8M510.5 390.5h-6.5M522.1 525.8v4M510.5 514.7h-3.5M528.3 525.8v4M510.5 508.8h-3.5M532.7 525.8v4M510.5 504.6h-3.5M536.1 525.8v4M510.5 501.3h-3.5M538.9 525.8v4M510.5 498.7h-3.5M541.2 525.8v4M510.5 496.4h-3.5M543.2 525.8v4M510.5 494.5h-3.5M545.0 525.8v4M510.5 492.8h-3.5M557.2 525.8v4M510.5 481.1h-3.5M563.4 525.8v4M510.5 475.2h-3.5M567.8 525.8v4M510.5 471.0h-3.5M571.2 525.8v4M510.5 467.8h-3.5M574.0 525.8v4M510.5 465.1h-3.5M576.4 525.8v4M510.5 462.9h-3.5M578.4 525.8v4M510.5 460.9h-3.5M580.2 525.8v4M510.5 459.2h-3.5M592.4 525.8v4M510.5 447.5h-3.5M598.6 525.8v4M510.5 441.6h-3.5M603.0 525.8v4M510.5 437.4h-3.5M606.4 525.8v4M510.5 434.2h-3.5M609.2 525.8v4M510.5 431.5h-3.5M611.5 525.8v4M510.5 429.3h-3.5M613.5 525.8v4M510.5 427.3h-3.5M615.3 525.8v4M510.5 425.6h-3.5M627.5 525.8v4M510.5 414.0h-3.5M633.7 525.8v4M510.5 408.1h-3.5M638.1 525.8v4M510.5 403.9h-3.5M641.5 525.8v4M510.5 400.6h-3.5M644.3 525.8v4M510.5 397.9h-3.5M646.7 525.8v4M510.5 395.7h-3.5M648.7 525.8v4M510.5 393.8h-3.5M650.5 525.8v4M510.5 392.0h-3.5" stroke="#000" stroke-width="1.6" fill="none"/>
<text transform="translate(500.1,536.4) rotate(-90)" font-size="13.3" font-family='"Liberation Sans", sans-serif' x="0" y="0">10<tspan dx="3.0" dy="-7">0</tspan></text>
<text transform="translate(500.1,502.8) rotate(-90)" font-size="13.3" font-family='"Liberation Sans", sans-serif' x="0" y="0">10<tspan dx="3.0" dy="-7">1</tspan></text>
<text transform="translate(500.1,469.2) rotate(-90)" font-size="13.3" font-family='"Liberation Sans", sans-serif' x="0" y="0">10<tspan dx="3.0" dy="-7">2</tspan></text>
<text transform="translate(500.1,435.7) rotate(-90)" font-size="13.3" font-family='"Liberation Sans", sans-serif' x="0" y="0">10<tspan dx="3.0" dy="-7">3</tspan></text>
<text transform="translate(500.1,402.1) rotate(-90)" font-size="13.3" font-family='"Liberation Sans", sans-serif' x="0" y="0">10</text>
<text x="501.9" y="551.8" font-size="16" font-family='"Liberation Sans", sans-serif' textLength="12.4" lengthAdjust="spacingAndGlyphs">10</text>
<text x="514.5" y="543.0" font-size="16" font-family='"Liberation Sans", sans-serif' textLength="7" lengthAdjust="spacingAndGlyphs">0</text>
<text x="537.0" y="551.8" font-size="16" font-family='"Liberation Sans", sans-serif' textLength="12.4" lengthAdjust="spacingAndGlyphs">10</text>
<text x="549.6" y="543.0" font-size="16" font-family='"Liberation Sans", sans-serif' textLength="7" lengthAdjust="spacingAndGlyphs">1</text>
<text x="572.2" y="551.8" font-size="16" font-family='"Liberation Sans", sans-serif' textLength="12.4" lengthAdjust="spacingAndGlyphs">10</text>
<text x="584.8" y="543.0" font-size="16" font-family='"Liberation Sans", sans-serif' textLength="7" lengthAdjust="spacingAndGlyphs">2</text>
<text x="607.4" y="551.8" font-size="16" font-family='"Liberation Sans", sans-serif' textLength="12.4" lengthAdjust="spacingAndGlyphs">10</text>
<text x="620.0" y="543.0" font-size="16" font-family='"Liberation Sans", sans-serif' textLength="7" lengthAdjust="spacingAndGlyphs">3</text>
<text x="642.5" y="551.8" font-size="16" font-family='"Liberation Sans", sans-serif' textLength="12.4" lengthAdjust="spacingAndGlyphs">10</text>
<text x="655.1" y="543.0" font-size="16" font-family='"Liberation Sans", sans-serif' textLength="7" lengthAdjust="spacingAndGlyphs">4</text>
<text x="0.0" y="664.5" font-size="20" font-weight="bold" font-family='"Liberation Serif", serif' textLength="20.6" lengthAdjust="spacingAndGlyphs">B)</text>
<line x1="131.3" y1="669.4" x2="131.3" y2="1021" stroke="#000" stroke-width="1.3"/>
<path d="M125.3 1017.5H131.3M125.3 982.7H131.3M125.3 947.9H131.3M125.3 913.1H131.3M125.3 878.3H131.3M125.3 843.5H131.3M125.3 808.6H131.3M125.3 773.8H131.3M125.3 739.0H131.3M125.3 704.2H131.3M125.3 669.4H131.3" stroke="#000" stroke-width="1.3"/>
<text x="108.5" y="1023.9" font-size="18" font-weight="bold" font-family='"Liberation Serif", serif' textLength="8.7" lengthAdjust="spacingAndGlyphs">0</text>
<text x="99.6" y="989.1" font-size="18" font-weight="bold" font-family='"Liberation Serif", serif' textLength="17.6" lengthAdjust="spacingAndGlyphs">10</text>
<text x="99.6" y="954.3" font-size="18" font-weight="bold" font-family='"Liberation Serif", serif' textLength="17.6" lengthAdjust="spacingAndGlyphs">20</text>
<text x="99.6" y="919.5" font-size="18" font-weight="bold" font-family='"Liberation Serif", serif' textLength="17.6" lengthAdjust="spacingAndGlyphs">30</text>
<text x="99.6" y="884.7" font-size="18" font-weight="bold" font-family='"Liberation Serif", serif' textLength="17.6" lengthAdjust="spacingAndGlyphs">40</text>
<text x="99.6" y="849.9" font-size="18" font-weight="bold" font-family='"Liberation Serif", serif' textLength="17.6" lengthAdjust="spacingAndGlyphs">50</text>
<text x="99.6" y="815.0" font-size="18" font-weight="bold" font-family='"Liberation Serif", serif' textLength="17.6" lengthAdjust="spacingAndGlyphs">60</text>
<text x="99.6" y="780.2" font-size="18" font-weight="bold" font-family='"Liberation Serif", serif' textLength="17.6" lengthAdjust="spacingAndGlyphs">70</text>
<text x="99.6" y="745.4" font-size="18" font-weight="bold" font-family='"Liberation Serif", serif' textLength="17.6" lengthAdjust="spacingAndGlyphs">80</text>
<text x="99.6" y="710.6" font-size="18" font-weight="bold" font-family='"Liberation Serif", serif' textLength="17.6" lengthAdjust="spacingAndGlyphs">90</text>
<text x="90.7" y="675.8" font-size="18" font-weight="bold" font-family='"Liberation Serif", serif' textLength="26.5" lengthAdjust="spacingAndGlyphs">100</text>
<line x1="125.8" y1="1017.5" x2="651.8" y2="1017.5" stroke="#000" stroke-width="1.3"/>
<path d="M294.3 1017.5v4.5M466.2 1017.5v4.5M651.2 1017.5v4.5" stroke="#000" stroke-width="1.3"/>
<rect x="167.0" y="980.0" width="30.6" height="37.5" fill="#000" stroke="#000" stroke-width="1.3"/>
<rect x="197.6" y="927.7" width="30.3" height="89.8" fill="#fff" stroke="#000" stroke-width="1.3"/>
<rect x="227.9" y="835.2" width="30.3" height="182.3" fill="#636363" stroke="#000" stroke-width="1.3"/>
<rect x="332.6" y="968.5" width="32.1" height="49.0" fill="#000" stroke="#000" stroke-width="1.3"/>
<rect x="364.7" y="902.5" width="31.1" height="115.0" fill="#fff" stroke="#000" stroke-width="1.3"/>
<rect x="395.8" y="734.6" width="32.1" height="282.9" fill="#636363" stroke="#000" stroke-width="1.3"/>
<rect x="507.1" y="988.8" width="34.8" height="28.7" fill="#000" stroke="#000" stroke-width="1.3"/>
<rect x="541.9" y="1008.6" width="33.5" height="8.9" fill="#fff" stroke="#000" stroke-width="1.3"/>
<rect x="575.4" y="998.0" width="35.0" height="19.5" fill="#636363" stroke="#000" stroke-width="1.3"/>
<path d="M183.2 976.2V981.5M180.0 976.2h6.4M180.0 981.5h6.4M213.6 885.3V969.2M210.4 885.3h6.4M210.4 969.2h6.4M243.6 777.6V892.8M240.4 777.6h6.4M240.4 892.8h6.4M348.5 949.7V987.0M345.3 949.7h6.4M345.3 987.0h6.4M380.3 851.2V953.4M377.1 851.2h6.4M377.1 953.4h6.4M412.0 669.6V798.8M408.8 669.6h6.4M408.8 798.8h6.4M524.6 974.6V1002.0M521.4 974.6h6.4M521.4 1002.0h6.4M558.6 1006.3V1009.0M555.4 1006.3h6.4M555.4 1009.0h6.4M593.1 989.4V1007.5M589.9 989.4h6.4M589.9 1007.5h6.4" stroke="#000" stroke-width="1.3" fill="none"/>
<text x="245.0" y="773.0" font-size="24" font-weight="normal" font-family='"Liberation Serif", serif' text-anchor="middle">*</text>
<text x="412.3" y="666.6" font-size="24" font-weight="normal" font-family='"Liberation Serif", serif' text-anchor="middle">*</text>
<rect x="528.1" y="682.5" width="14.9" height="11.3" fill="#000"/>
<rect x="528.6" y="724.2" width="14.2" height="9" fill="#fff" stroke="#000" stroke-width="1.2"/>
<rect x="528.6" y="763.9" width="14.2" height="9" fill="#636363" stroke="#000" stroke-width="1.2"/>
<text x="548.1" y="693.2" font-size="17" font-weight="bold" font-family='"Liberation Serif", serif' textLength="86.5" lengthAdjust="spacingAndGlyphs">0uM HOCl</text>
<text x="548.1" y="736.0" font-size="17" font-weight="bold" font-family='"Liberation Serif", serif' textLength="94.7" lengthAdjust="spacingAndGlyphs">25uM HOCl</text>
<text x="548.1" y="775.8" font-size="17" font-weight="bold" font-family='"Liberation Serif", serif' textLength="94.7" lengthAdjust="spacingAndGlyphs">60uM HOCl</text>
<text x="202.9" y="1047.7" font-size="19.5" font-weight="bold" font-family='"Liberation Serif", serif' textLength="41.5" lengthAdjust="spacingAndGlyphs">37<tspan font-weight="normal" dy="-1.7" font-size="22">°</tspan><tspan dy="1.7">C</tspan></text>
<text x="202.9" y="1076.6" font-size="19.5" font-weight="bold" font-family='"Liberation Serif", serif' textLength="34.4" lengthAdjust="spacingAndGlyphs">24 h</text>
<text x="368.6" y="1047.7" font-size="19.5" font-weight="bold" font-family='"Liberation Serif", serif' textLength="41.5" lengthAdjust="spacingAndGlyphs">37<tspan font-weight="normal" dy="-1.7" font-size="22">°</tspan><tspan dy="1.7">C</tspan></text>
<text x="373.7" y="1076.6" font-size="19.5" font-weight="bold" font-family='"Liberation Serif", serif' textLength="34.5" lengthAdjust="spacingAndGlyphs">24 h</text>
<text x="545.8" y="1048.0" font-size="19.5" font-weight="bold" font-family='"Liberation Serif", serif' textLength="31.6" lengthAdjust="spacingAndGlyphs">4<tspan font-weight="normal" dy="-1.7" font-size="22">°</tspan><tspan dy="1.7">C</tspan></text>
<text x="545.8" y="1077.0" font-size="19.5" font-weight="bold" font-family='"Liberation Serif", serif' textLength="35.0" lengthAdjust="spacingAndGlyphs">24 h</text>
<text transform="translate(80.2,1001.8) rotate(-90)" x="0" y="0" font-size="20" font-weight="bold" font-family='"Liberation Serif", serif' textLength="296.8" lengthAdjust="spacingAndGlyphs">Percentage <tspan font-weight="normal">(%)</tspan> of DiI-positive DCs</text>
</svg></body></html>
